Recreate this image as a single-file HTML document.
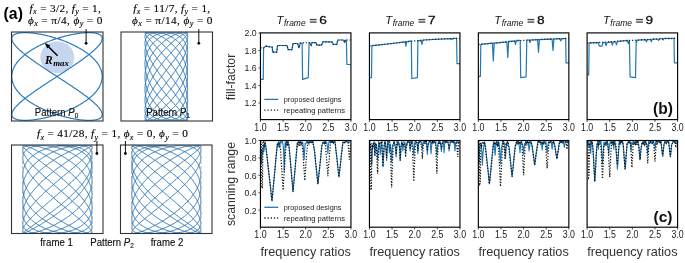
<!DOCTYPE html>
<html><head><meta charset="utf-8"><style>
html,body{margin:0;padding:0;background:#fff;width:685px;height:263px;overflow:hidden;}
svg{display:block;will-change:transform;font-family:"Liberation Sans",sans-serif;}

</style></head><body>
<svg width="685" height="263" viewBox="0 0 685 263">
<rect width="685" height="263" fill="#fff"/>
<text x="3.6" y="19.2" font-family="'Liberation Sans', sans-serif" font-weight="bold" font-size="15.8">(a)</text>
<text x="29.6" y="12.0" font-family="'Liberation Serif', serif" font-size="11.3" fill="#000" stroke="#000" stroke-width="0.12" textLength="71.3" lengthAdjust="spacing"><tspan font-style="italic">f</tspan><tspan font-style="italic" font-size="8.1" dy="2.2">x</tspan><tspan dy="-2.2"> </tspan><tspan>= 3/2, </tspan><tspan font-style="italic">f</tspan><tspan font-style="italic" font-size="8.1" dy="2.2">y</tspan><tspan dy="-2.2"> </tspan><tspan>= 1,</tspan></text>
<text x="27.9" y="24.0" font-family="'Liberation Serif', serif" font-size="11.3" fill="#000" stroke="#000" stroke-width="0.12" textLength="74.6" lengthAdjust="spacing"><tspan font-style="italic">ϕ</tspan><tspan font-style="italic" font-size="8.1" dy="2.2">x</tspan><tspan dy="-2.2"> </tspan><tspan>= π/4, </tspan><tspan font-style="italic">ϕ</tspan><tspan font-style="italic" font-size="8.1" dy="2.2">y</tspan><tspan dy="-2.2"> </tspan><tspan>= 0</tspan></text>
<text x="133.2" y="12.0" font-family="'Liberation Serif', serif" font-size="11.3" fill="#000" stroke="#000" stroke-width="0.12" textLength="77" lengthAdjust="spacing"><tspan font-style="italic">f</tspan><tspan font-style="italic" font-size="8.1" dy="2.2">x</tspan><tspan dy="-2.2"> </tspan><tspan>= 11/7, </tspan><tspan font-style="italic">f</tspan><tspan font-style="italic" font-size="8.1" dy="2.2">y</tspan><tspan dy="-2.2"> </tspan><tspan>= 1,</tspan></text>
<text x="132" y="24.0" font-family="'Liberation Serif', serif" font-size="11.3" fill="#000" stroke="#000" stroke-width="0.12" textLength="80.5" lengthAdjust="spacing"><tspan font-style="italic">ϕ</tspan><tspan font-style="italic" font-size="8.1" dy="2.2">x</tspan><tspan dy="-2.2"> </tspan><tspan>= π/14, </tspan><tspan font-style="italic">ϕ</tspan><tspan font-style="italic" font-size="8.1" dy="2.2">y</tspan><tspan dy="-2.2"> </tspan><tspan>= 0</tspan></text>
<text x="37" y="137.4" font-family="'Liberation Serif', serif" font-size="11.3" fill="#000" stroke="#000" stroke-width="0.12" textLength="150.8" lengthAdjust="spacing"><tspan font-style="italic">f</tspan><tspan font-style="italic" font-size="8.1" dy="2.2">x</tspan><tspan dy="-2.2"> </tspan><tspan>= 41/28, </tspan><tspan font-style="italic">f</tspan><tspan font-style="italic" font-size="8.1" dy="2.2">y</tspan><tspan dy="-2.2"> </tspan><tspan>= 1, </tspan><tspan font-style="italic">ϕ</tspan><tspan font-style="italic" font-size="8.1" dy="2.2">x</tspan><tspan dy="-2.2"> </tspan><tspan>= 0, </tspan><tspan font-style="italic">ϕ</tspan><tspan font-style="italic" font-size="8.1" dy="2.2">y</tspan><tspan dy="-2.2"> </tspan><tspan>= 0</tspan></text>
<ellipse cx="57.3" cy="57.3" rx="17" ry="15.8" fill="#c6d6ef"/>
<polyline points="89,32.6 89.5,32.6 89.9,32.6 90.4,32.6 90.9,32.6 91.4,32.7 91.8,32.7 92.3,32.7 92.7,32.8 93.1,32.8 93.6,32.8 94,32.9 94.4,32.9 94.8,33 95.2,33.1 95.5,33.1 95.9,33.2 96.3,33.3 96.6,33.4 96.9,33.5 97.3,33.6 97.6,33.7 97.9,33.8 98.2,33.9 98.5,34 98.8,34.1 99,34.2 99.3,34.3 99.5,34.5 99.8,34.6 100,34.7 100.2,34.9 100.4,35 100.6,35.2 100.8,35.4 101,35.5 101.1,35.7 101.3,35.9 101.4,36 101.5,36.2 101.6,36.4 101.7,36.6 101.8,36.8 101.9,37 102,37.2 102.1,37.4 102.1,37.6 102.1,37.8 102.2,38 102.2,38.3 102.2,38.5 102.2,38.7 102.2,38.9 102.1,39.2 102.1,39.4 102.1,39.7 102,39.9 101.9,40.2 101.8,40.5 101.7,40.7 101.6,41 101.5,41.3 101.4,41.5 101.3,41.8 101.1,42.1 101,42.4 100.8,42.7 100.6,43 100.4,43.3 100.2,43.6 100,43.9 99.8,44.2 99.5,44.5 99.3,44.8 99,45.1 98.8,45.5 98.5,45.8 98.2,46.1 97.9,46.4 97.6,46.8 97.3,47.1 96.9,47.5 96.6,47.8 96.3,48.2 95.9,48.5 95.5,48.9 95.2,49.2 94.8,49.6 94.4,50 94,50.3 93.6,50.7 93.1,51.1 92.7,51.4 92.3,51.8 91.8,52.2 91.4,52.6 90.9,53 90.4,53.4 89.9,53.8 89.5,54.2 89,54.5 88.5,54.9 87.9,55.4 87.4,55.8 86.9,56.2 86.4,56.6 85.8,57 85.3,57.4 84.7,57.8 84.1,58.2 83.6,58.6 83,59.1 82.4,59.5 81.8,59.9 81.2,60.3 80.6,60.8 80,61.2 79.4,61.6 78.8,62.1 78.2,62.5 77.5,62.9 76.9,63.4 76.2,63.8 75.6,64.3 75,64.7 74.3,65.1 73.6,65.6 73,66 72.3,66.5 71.6,66.9 71,67.4 70.3,67.8 69.6,68.3 68.9,68.7 68.2,69.2 67.6,69.6 66.9,70.1 66.2,70.5 65.5,71 64.8,71.5 64.1,71.9 63.4,72.4 62.7,72.8 62,73.3 61.3,73.7 60.5,74.2 59.8,74.7 59.1,75.1 58.4,75.6 57.7,76 57,76.5 56.3,77 55.6,77.4 54.9,77.9 54.2,78.3 53.5,78.8 52.7,79.3 52,79.7 51.3,80.2 50.6,80.6 49.9,81.1 49.2,81.5 48.5,82 47.8,82.5 47.1,82.9 46.4,83.4 45.8,83.8 45.1,84.3 44.4,84.7 43.7,85.2 43,85.6 42.4,86.1 41.7,86.5 41,87 40.4,87.4 39.7,87.9 39,88.3 38.4,88.7 37.8,89.2 37.1,89.6 36.5,90.1 35.8,90.5 35.2,90.9 34.6,91.4 34,91.8 33.4,92.2 32.8,92.7 32.2,93.1 31.6,93.5 31,93.9 30.4,94.4 29.9,94.8 29.3,95.2 28.7,95.6 28.2,96 27.6,96.4 27.1,96.8 26.6,97.2 26.1,97.6 25.5,98.1 25,98.4 24.5,98.8 24.1,99.2 23.6,99.6 23.1,100 22.6,100.4 22.2,100.8 21.7,101.2 21.3,101.6 20.9,101.9 20.4,102.3 20,102.7 19.6,103 19.2,103.4 18.8,103.8 18.5,104.1 18.1,104.5 17.7,104.8 17.4,105.2 17.1,105.5 16.7,105.9 16.4,106.2 16.1,106.6 15.8,106.9 15.5,107.2 15.2,107.5 15,107.9 14.7,108.2 14.5,108.5 14.2,108.8 14,109.1 13.8,109.4 13.6,109.7 13.4,110 13.2,110.3 13,110.6 12.9,110.9 12.7,111.2 12.6,111.5 12.5,111.7 12.4,112 12.3,112.3 12.2,112.5 12.1,112.8 12,113.1 11.9,113.3 11.9,113.6 11.9,113.8 11.8,114.1 11.8,114.3 11.8,114.5 11.8,114.7 11.8,115 11.9,115.2 11.9,115.4 11.9,115.6 12,115.8 12.1,116 12.2,116.2 12.3,116.4 12.4,116.6 12.5,116.8 12.6,117 12.7,117.1 12.9,117.3 13,117.5 13.2,117.6 13.4,117.8 13.6,118 13.8,118.1 14,118.3 14.2,118.4 14.5,118.5 14.7,118.7 15,118.8 15.2,118.9 15.5,119 15.8,119.1 16.1,119.2 16.4,119.3 16.7,119.4 17.1,119.5 17.4,119.6 17.7,119.7 18.1,119.8 18.5,119.9 18.8,119.9 19.2,120 19.6,120.1 20,120.1 20.4,120.2 20.9,120.2 21.3,120.2 21.7,120.3 22.2,120.3 22.6,120.3 23.1,120.4 23.6,120.4 24.1,120.4 24.5,120.4 25,120.4 25.5,120.4 26.1,120.4 26.6,120.4 27.1,120.4 27.6,120.3 28.2,120.3 28.7,120.3 29.3,120.2 29.9,120.2 30.4,120.2 31,120.1 31.6,120.1 32.2,120 32.8,119.9 33.4,119.9 34,119.8 34.6,119.7 35.2,119.6 35.8,119.5 36.5,119.4 37.1,119.3 37.8,119.2 38.4,119.1 39,119 39.7,118.9 40.4,118.8 41,118.7 41.7,118.5 42.4,118.4 43,118.3 43.7,118.1 44.4,118 45.1,117.8 45.8,117.6 46.4,117.5 47.1,117.3 47.8,117.1 48.5,117 49.2,116.8 49.9,116.6 50.6,116.4 51.3,116.2 52,116 52.7,115.8 53.5,115.6 54.2,115.4 54.9,115.2 55.6,115 56.3,114.7 57,114.5 57.7,114.3 58.4,114.1 59.1,113.8 59.8,113.6 60.5,113.3 61.3,113.1 62,112.8 62.7,112.5 63.4,112.3 64.1,112 64.8,111.7 65.5,111.5 66.2,111.2 66.9,110.9 67.6,110.6 68.2,110.3 68.9,110 69.6,109.7 70.3,109.4 71,109.1 71.6,108.8 72.3,108.5 73,108.2 73.6,107.9 74.3,107.5 75,107.2 75.6,106.9 76.2,106.6 76.9,106.2 77.5,105.9 78.2,105.5 78.8,105.2 79.4,104.8 80,104.5 80.6,104.1 81.2,103.8 81.8,103.4 82.4,103 83,102.7 83.6,102.3 84.1,101.9 84.7,101.6 85.3,101.2 85.8,100.8 86.4,100.4 86.9,100 87.4,99.6 87.9,99.2 88.5,98.8 89,98.5 89.5,98.1 89.9,97.6 90.4,97.2 90.9,96.8 91.4,96.4 91.8,96 92.3,95.6 92.7,95.2 93.1,94.8 93.6,94.4 94,93.9 94.4,93.5 94.8,93.1 95.2,92.7 95.5,92.2 95.9,91.8 96.3,91.4 96.6,90.9 96.9,90.5 97.3,90.1 97.6,89.6 97.9,89.2 98.2,88.7 98.5,88.3 98.8,87.9 99,87.4 99.3,87 99.5,86.5 99.8,86.1 100,85.6 100.2,85.2 100.4,84.7 100.6,84.3 100.8,83.8 101,83.4 101.1,82.9 101.3,82.5 101.4,82 101.5,81.5 101.6,81.1 101.7,80.6 101.8,80.2 101.9,79.7 102,79.3 102.1,78.8 102.1,78.3 102.1,77.9 102.2,77.4 102.2,77 102.2,76.5 102.2,76 102.2,75.6 102.1,75.1 102.1,74.7 102.1,74.2 102,73.7 101.9,73.3 101.8,72.8 101.7,72.4 101.6,71.9 101.5,71.5 101.4,71 101.3,70.5 101.1,70.1 101,69.6 100.8,69.2 100.6,68.7 100.4,68.3 100.2,67.8 100,67.4 99.8,66.9 99.5,66.5 99.3,66 99,65.6 98.8,65.1 98.5,64.7 98.2,64.3 97.9,63.8 97.6,63.4 97.3,62.9 96.9,62.5 96.6,62.1 96.3,61.6 95.9,61.2 95.5,60.8 95.2,60.3 94.8,59.9 94.4,59.5 94,59.1 93.6,58.6 93.1,58.2 92.7,57.8 92.3,57.4 91.8,57 91.4,56.6 90.9,56.2 90.4,55.8 89.9,55.4 89.5,54.9 89,54.5 88.5,54.2 87.9,53.8 87.4,53.4 86.9,53 86.4,52.6 85.8,52.2 85.3,51.8 84.7,51.4 84.1,51.1 83.6,50.7 83,50.3 82.4,50 81.8,49.6 81.2,49.2 80.6,48.9 80,48.5 79.4,48.2 78.8,47.8 78.2,47.5 77.5,47.1 76.9,46.8 76.2,46.4 75.6,46.1 75,45.8 74.3,45.5 73.6,45.1 73,44.8 72.3,44.5 71.6,44.2 71,43.9 70.3,43.6 69.6,43.3 68.9,43 68.2,42.7 67.6,42.4 66.9,42.1 66.2,41.8 65.5,41.5 64.8,41.3 64.1,41 63.4,40.7 62.7,40.5 62,40.2 61.3,39.9 60.5,39.7 59.8,39.4 59.1,39.2 58.4,38.9 57.7,38.7 57,38.5 56.3,38.3 55.6,38 54.9,37.8 54.2,37.6 53.5,37.4 52.7,37.2 52,37 51.3,36.8 50.6,36.6 49.9,36.4 49.2,36.2 48.5,36 47.8,35.9 47.1,35.7 46.4,35.5 45.8,35.4 45.1,35.2 44.4,35 43.7,34.9 43,34.7 42.4,34.6 41.7,34.5 41,34.3 40.4,34.2 39.7,34.1 39,34 38.4,33.9 37.8,33.8 37.1,33.7 36.5,33.6 35.8,33.5 35.2,33.4 34.6,33.3 34,33.2 33.4,33.1 32.8,33.1 32.2,33 31.6,32.9 31,32.9 30.4,32.8 29.9,32.8 29.3,32.8 28.7,32.7 28.2,32.7 27.6,32.7 27.1,32.6 26.6,32.6 26.1,32.6 25.5,32.6 25,32.6 24.5,32.6 24.1,32.6 23.6,32.6 23.1,32.6 22.6,32.7 22.2,32.7 21.7,32.7 21.3,32.8 20.9,32.8 20.4,32.8 20,32.9 19.6,32.9 19.2,33 18.8,33.1 18.5,33.1 18.1,33.2 17.7,33.3 17.4,33.4 17.1,33.5 16.7,33.6 16.4,33.7 16.1,33.8 15.8,33.9 15.5,34 15.2,34.1 15,34.2 14.7,34.3 14.5,34.5 14.2,34.6 14,34.7 13.8,34.9 13.6,35 13.4,35.2 13.2,35.4 13,35.5 12.9,35.7 12.7,35.9 12.6,36 12.5,36.2 12.4,36.4 12.3,36.6 12.2,36.8 12.1,37 12,37.2 11.9,37.4 11.9,37.6 11.9,37.8 11.8,38 11.8,38.3 11.8,38.5 11.8,38.7 11.8,38.9 11.9,39.2 11.9,39.4 11.9,39.7 12,39.9 12.1,40.2 12.2,40.5 12.3,40.7 12.4,41 12.5,41.3 12.6,41.5 12.7,41.8 12.9,42.1 13,42.4 13.2,42.7 13.4,43 13.6,43.3 13.8,43.6 14,43.9 14.2,44.2 14.5,44.5 14.7,44.8 15,45.1 15.2,45.5 15.5,45.8 15.8,46.1 16.1,46.4 16.4,46.8 16.7,47.1 17.1,47.5 17.4,47.8 17.7,48.2 18.1,48.5 18.5,48.9 18.8,49.2 19.2,49.6 19.6,50 20,50.3 20.4,50.7 20.9,51.1 21.3,51.4 21.7,51.8 22.2,52.2 22.6,52.6 23.1,53 23.6,53.4 24.1,53.8 24.5,54.2 25,54.6 25.5,54.9 26.1,55.4 26.6,55.8 27.1,56.2 27.6,56.6 28.2,57 28.7,57.4 29.3,57.8 29.9,58.2 30.4,58.6 31,59.1 31.6,59.5 32.2,59.9 32.8,60.3 33.4,60.8 34,61.2 34.6,61.6 35.2,62.1 35.8,62.5 36.5,62.9 37.1,63.4 37.8,63.8 38.4,64.3 39,64.7 39.7,65.1 40.4,65.6 41,66 41.7,66.5 42.4,66.9 43,67.4 43.7,67.8 44.4,68.3 45.1,68.7 45.8,69.2 46.4,69.6 47.1,70.1 47.8,70.5 48.5,71 49.2,71.5 49.9,71.9 50.6,72.4 51.3,72.8 52,73.3 52.7,73.7 53.5,74.2 54.2,74.7 54.9,75.1 55.6,75.6 56.3,76 57,76.5 57.7,77 58.4,77.4 59.1,77.9 59.8,78.3 60.5,78.8 61.3,79.3 62,79.7 62.7,80.2 63.4,80.6 64.1,81.1 64.8,81.5 65.5,82 66.2,82.5 66.9,82.9 67.6,83.4 68.2,83.8 68.9,84.3 69.6,84.7 70.3,85.2 71,85.6 71.6,86.1 72.3,86.5 73,87 73.6,87.4 74.3,87.9 75,88.3 75.6,88.7 76.2,89.2 76.9,89.6 77.5,90.1 78.2,90.5 78.8,90.9 79.4,91.4 80,91.8 80.6,92.2 81.2,92.7 81.8,93.1 82.4,93.5 83,93.9 83.6,94.4 84.1,94.8 84.7,95.2 85.3,95.6 85.8,96 86.4,96.4 86.9,96.8 87.4,97.2 87.9,97.6 88.5,98.1 89,98.4 89.5,98.8 89.9,99.2 90.4,99.6 90.9,100 91.4,100.4 91.8,100.8 92.3,101.2 92.7,101.6 93.1,101.9 93.6,102.3 94,102.7 94.4,103 94.8,103.4 95.2,103.8 95.5,104.1 95.9,104.5 96.3,104.8 96.6,105.2 96.9,105.5 97.3,105.9 97.6,106.2 97.9,106.6 98.2,106.9 98.5,107.2 98.8,107.5 99,107.9 99.3,108.2 99.5,108.5 99.8,108.8 100,109.1 100.2,109.4 100.4,109.7 100.6,110 100.8,110.3 101,110.6 101.1,110.9 101.3,111.2 101.4,111.5 101.5,111.7 101.6,112 101.7,112.3 101.8,112.5 101.9,112.8 102,113.1 102.1,113.3 102.1,113.6 102.1,113.8 102.2,114.1 102.2,114.3 102.2,114.5 102.2,114.7 102.2,115 102.1,115.2 102.1,115.4 102.1,115.6 102,115.8 101.9,116 101.8,116.2 101.7,116.4 101.6,116.6 101.5,116.8 101.4,117 101.3,117.1 101.1,117.3 101,117.5 100.8,117.6 100.6,117.8 100.4,118 100.2,118.1 100,118.3 99.8,118.4 99.5,118.5 99.3,118.7 99,118.8 98.8,118.9 98.5,119 98.2,119.1 97.9,119.2 97.6,119.3 97.3,119.4 96.9,119.5 96.6,119.6 96.3,119.7 95.9,119.8 95.5,119.9 95.2,119.9 94.8,120 94.4,120.1 94,120.1 93.6,120.2 93.1,120.2 92.7,120.2 92.3,120.3 91.8,120.3 91.4,120.3 90.9,120.4 90.4,120.4 89.9,120.4 89.5,120.4 89,120.4 88.5,120.4 87.9,120.4 87.4,120.4 86.9,120.4 86.4,120.3 85.8,120.3 85.3,120.3 84.7,120.2 84.1,120.2 83.6,120.2 83,120.1 82.4,120.1 81.8,120 81.2,119.9 80.6,119.9 80,119.8 79.4,119.7 78.8,119.6 78.2,119.5 77.5,119.4 76.9,119.3 76.2,119.2 75.6,119.1 75,119 74.3,118.9 73.6,118.8 73,118.7 72.3,118.5 71.6,118.4 71,118.3 70.3,118.1 69.6,118 68.9,117.8 68.2,117.6 67.6,117.5 66.9,117.3 66.2,117.1 65.5,117 64.8,116.8 64.1,116.6 63.4,116.4 62.7,116.2 62,116 61.3,115.8 60.5,115.6 59.8,115.4 59.1,115.2 58.4,115 57.7,114.7 57,114.5 56.3,114.3 55.6,114.1 54.9,113.8 54.2,113.6 53.5,113.3 52.7,113.1 52,112.8 51.3,112.5 50.6,112.3 49.9,112 49.2,111.7 48.5,111.5 47.8,111.2 47.1,110.9 46.4,110.6 45.8,110.3 45.1,110 44.4,109.7 43.7,109.4 43,109.1 42.4,108.8 41.7,108.5 41,108.2 40.4,107.9 39.7,107.5 39,107.2 38.4,106.9 37.8,106.6 37.1,106.2 36.5,105.9 35.8,105.5 35.2,105.2 34.6,104.8 34,104.5 33.4,104.1 32.8,103.8 32.2,103.4 31.6,103 31,102.7 30.4,102.3 29.9,101.9 29.3,101.6 28.7,101.2 28.2,100.8 27.6,100.4 27.1,100 26.6,99.6 26.1,99.2 25.5,98.8 25,98.4 24.5,98.1 24.1,97.6 23.6,97.2 23.1,96.8 22.6,96.4 22.2,96 21.7,95.6 21.3,95.2 20.9,94.8 20.4,94.4 20,93.9 19.6,93.5 19.2,93.1 18.8,92.7 18.5,92.2 18.1,91.8 17.7,91.4 17.4,90.9 17.1,90.5 16.7,90.1 16.4,89.6 16.1,89.2 15.8,88.7 15.5,88.3 15.2,87.9 15,87.4 14.7,87 14.5,86.5 14.2,86.1 14,85.6 13.8,85.2 13.6,84.7 13.4,84.3 13.2,83.8 13,83.4 12.9,82.9 12.7,82.5 12.6,82 12.5,81.5 12.4,81.1 12.3,80.6 12.2,80.2 12.1,79.7 12,79.3 11.9,78.8 11.9,78.3 11.9,77.9 11.8,77.4 11.8,77 11.8,76.5 11.8,76 11.8,75.6 11.9,75.1 11.9,74.7 11.9,74.2 12,73.7 12.1,73.3 12.2,72.8 12.3,72.4 12.4,71.9 12.5,71.5 12.6,71 12.7,70.5 12.9,70.1 13,69.6 13.2,69.2 13.4,68.7 13.6,68.3 13.8,67.8 14,67.4 14.2,66.9 14.5,66.5 14.7,66 15,65.6 15.2,65.1 15.5,64.7 15.8,64.3 16.1,63.8 16.4,63.4 16.7,62.9 17.1,62.5 17.4,62.1 17.7,61.6 18.1,61.2 18.5,60.8 18.8,60.3 19.2,59.9 19.6,59.5 20,59.1 20.4,58.6 20.9,58.2 21.3,57.8 21.7,57.4 22.2,57 22.6,56.6 23.1,56.2 23.6,55.8 24.1,55.4 24.5,54.9 25,54.6 25.5,54.2 26.1,53.8 26.6,53.4 27.1,53 27.6,52.6 28.2,52.2 28.7,51.8 29.3,51.4 29.9,51.1 30.4,50.7 31,50.3 31.6,50 32.2,49.6 32.8,49.2 33.4,48.9 34,48.5 34.6,48.2 35.2,47.8 35.8,47.5 36.5,47.1 37.1,46.8 37.8,46.4 38.4,46.1 39,45.8 39.7,45.5 40.4,45.1 41,44.8 41.7,44.5 42.4,44.2 43,43.9 43.7,43.6 44.4,43.3 45.1,43 45.8,42.7 46.4,42.4 47.1,42.1 47.8,41.8 48.5,41.5 49.2,41.3 49.9,41 50.6,40.7 51.3,40.5 52,40.2 52.7,39.9 53.5,39.7 54.2,39.4 54.9,39.2 55.6,38.9 56.3,38.7 57,38.5 57.7,38.3 58.4,38 59.1,37.8 59.8,37.6 60.5,37.4 61.3,37.2 62,37 62.7,36.8 63.4,36.6 64.1,36.4 64.8,36.2 65.5,36 66.2,35.9 66.9,35.7 67.6,35.5 68.2,35.4 68.9,35.2 69.6,35 70.3,34.9 71,34.7 71.6,34.6 72.3,34.5 73,34.3 73.6,34.2 74.3,34.1 75,34 75.6,33.9 76.2,33.8 76.9,33.7 77.5,33.6 78.2,33.5 78.8,33.4 79.4,33.3 80,33.2 80.6,33.1 81.2,33.1 81.8,33 82.4,32.9 83,32.9 83.6,32.8 84.1,32.8 84.7,32.8 85.3,32.7 85.8,32.7 86.4,32.7 86.9,32.6 87.4,32.6 87.9,32.6 88.5,32.6 89,32.6" fill="none" stroke="#2a7ab9" stroke-width="1.2"/>
<rect x="11.5" y="32" width="91.5" height="89" fill="none" stroke="#333" stroke-width="1.1"/>
<line x1="57.6" y1="55.7" x2="47.5" y2="45.8" stroke="#000" stroke-width="1.5"/>
<polygon points="44.6,43 50.3,45.3 47.3,48.4" fill="#000"/>
<text x="45" y="63.8" font-family="'Liberation Serif', serif" font-weight="bold" font-style="italic" font-size="11.5">R<tspan font-size="8.8" dy="2.4" dx="0.6">max</tspan></text>
<line x1="86.1" y1="29" x2="86.1" y2="43.3" stroke="#111" stroke-width="1"/>
<circle cx="86.1" cy="43.3" r="1.4" fill="#000"/>
<text x="34.8" y="115.8" font-family="'Liberation Sans', sans-serif" font-size="10.3" fill="#111" stroke="#111" stroke-width="0.15" textLength="43.6" lengthAdjust="spacingAndGlyphs">Pattern <tspan font-style="italic">P</tspan><tspan font-size="6.9" dy="2.1" dx="0.2">0</tspan></text>
<polyline points="171,76.6 171.5,76 172,75.3 172.5,74.7 172.9,74 173.4,73.4 173.9,72.7 174.3,72.1 174.8,71.5 175.2,70.8 175.7,70.2 176.1,69.5 176.5,68.9 177,68.3 177.4,67.6 177.8,67 178.2,66.4 178.6,65.7 179,65.1 179.4,64.5 179.8,63.9 180.2,63.3 180.5,62.7 180.9,62 181.2,61.4 181.6,60.8 181.9,60.2 182.3,59.6 182.6,59 182.9,58.5 183.2,57.9 183.5,57.3 183.8,56.7 184,56.1 184.3,55.6 184.6,55 184.8,54.4 185.1,53.9 185.3,53.3 185.5,52.8 185.7,52.3 185.9,51.7 186.1,51.2 186.3,50.7 186.4,50.1 186.6,49.6 186.7,49.1 186.9,48.6 187,48.1 187.1,47.6 187.2,47.2 187.3,46.7 187.4,46.2 187.4,45.7 187.5,45.3 187.5,44.8 187.6,44.4 187.6,44 187.6,43.5 187.6,43.1 187.6,42.7 187.6,42.3 187.5,41.9 187.5,41.5 187.4,41.1 187.4,40.7 187.3,40.4 187.2,40 187.1,39.6 187,39.3 186.8,39 186.7,38.6 186.6,38.3 186.4,38 186.2,37.7 186.1,37.4 185.9,37.1 185.7,36.8 185.5,36.6 185.3,36.3 185,36 184.8,35.8 184.5,35.6 184.3,35.3 184,35.1 183.7,34.9 183.4,34.7 183.2,34.5 182.8,34.3 182.5,34.1 182.2,34 181.9,33.8 181.5,33.7 181.2,33.5 180.8,33.4 180.5,33.3 180.1,33.2 179.7,33.1 179.3,33 179,32.9 178.6,32.8 178.2,32.8 177.7,32.7 177.3,32.7 176.9,32.6 176.5,32.6 176,32.6 175.6,32.6 175.2,32.6 174.7,32.6 174.3,32.6 173.8,32.7 173.3,32.7 172.9,32.8 172.4,32.8 171.9,32.9 171.5,33 171,33.1 170.5,33.2 170,33.3 169.5,33.4 169.1,33.5 168.6,33.6 168.1,33.8 167.6,33.9 167.1,34.1 166.6,34.3 166.1,34.5 165.6,34.6 165.1,34.8 164.6,35 164.2,35.3 163.7,35.5 163.2,35.7 162.7,36 162.2,36.2 161.7,36.5 161.3,36.7 160.8,37 160.3,37.3 159.8,37.6 159.4,37.9 158.9,38.2 158.5,38.5 158,38.9 157.5,39.2 157.1,39.5 156.7,39.9 156.2,40.3 155.8,40.6 155.4,41 155,41.4 154.5,41.8 154.1,42.2 153.7,42.6 153.3,43 153,43.4 152.6,43.8 152.2,44.3 151.8,44.7 151.5,45.2 151.1,45.6 150.8,46.1 150.5,46.5 150.1,47 149.8,47.5 149.5,48 149.2,48.5 148.9,49 148.7,49.5 148.4,50 148.1,50.5 147.9,51 147.6,51.6 147.4,52.1 147.2,52.6 147,53.2 146.8,53.7 146.6,54.3 146.4,54.8 146.2,55.4 146.1,56 145.9,56.5 145.8,57.1 145.7,57.7 145.5,58.3 145.4,58.9 145.3,59.5 145.3,60.1 145.2,60.7 145.1,61.3 145.1,61.9 145,62.5 145,63.1 145,63.7 145,64.3 145,64.9 145,65.6 145.1,66.2 145.1,66.8 145.2,67.5 145.2,68.1 145.3,68.7 145.4,69.4 145.5,70 145.6,70.6 145.7,71.3 145.8,71.9 146,72.6 146.1,73.2 146.3,73.8 146.5,74.5 146.6,75.1 146.8,75.8 147,76.4 147.3,77.1 147.5,77.7 147.7,78.4 148,79 148.2,79.6 148.5,80.3 148.8,80.9 149,81.6 149.3,82.2 149.6,82.8 149.9,83.5 150.3,84.1 150.6,84.8 150.9,85.4 151.3,86 151.6,86.6 152,87.3 152.4,87.9 152.7,88.5 153.1,89.1 153.5,89.8 153.9,90.4 154.3,91 154.7,91.6 155.1,92.2 155.5,92.8 156,93.4 156.4,94 156.8,94.6 157.3,95.2 157.7,95.8 158.2,96.3 158.6,96.9 159.1,97.5 159.6,98 160,98.6 160.5,99.2 161,99.7 161.4,100.3 161.9,100.8 162.4,101.3 162.9,101.9 163.4,102.4 163.9,102.9 164.3,103.4 164.8,103.9 165.3,104.4 165.8,104.9 166.3,105.4 166.8,105.9 167.3,106.4 167.8,106.9 168.3,107.3 168.8,107.8 169.2,108.2 169.7,108.7 170.2,109.1 170.7,109.5 171.2,110 171.6,110.4 172.1,110.8 172.6,111.2 173.1,111.6 173.5,112 174,112.4 174.4,112.7 174.9,113.1 175.3,113.5 175.8,113.8 176.2,114.1 176.6,114.5 177.1,114.8 177.5,115.1 177.9,115.4 178.3,115.7 178.7,116 179.1,116.3 179.5,116.6 179.9,116.8 180.3,117.1 180.6,117.3 181,117.6 181.3,117.8 181.7,118 182,118.2 182.3,118.4 182.7,118.6 183,118.8 183.3,119 183.6,119.2 183.8,119.3 184.1,119.5 184.4,119.6 184.6,119.8 184.9,119.9 185.1,120 185.3,120.1 185.6,120.2 185.8,120.3 186,120.3 186.1,120.4 186.3,120.5 186.5,120.5 186.6,120.5 186.8,120.6 186.9,120.6 187,120.6 187.1,120.6 187.2,120.6 187.3,120.6 187.4,120.5 187.4,120.5 187.5,120.5 187.5,120.4 187.6,120.3 187.6,120.3 187.6,120.2 187.6,120.1 187.6,120 187.6,119.9 187.5,119.7 187.5,119.6 187.4,119.5 187.3,119.3 187.3,119.1 187.2,119 187.1,118.8 186.9,118.6 186.8,118.4 186.7,118.2 186.5,118 186.4,117.8 186.2,117.5 186,117.3 185.8,117.1 185.6,116.8 185.4,116.5 185.2,116.3 185,116 184.7,115.7 184.5,115.4 184.2,115.1 183.9,114.8 183.7,114.4 183.4,114.1 183.1,113.8 182.8,113.4 182.4,113 182.1,112.7 181.8,112.3 181.5,111.9 181.1,111.5 180.7,111.1 180.4,110.7 180,110.3 179.6,109.9 179.2,109.5 178.9,109.1 178.5,108.6 178,108.2 177.6,107.7 177.2,107.3 176.8,106.8 176.4,106.3 175.9,105.8 175.5,105.4 175,104.9 174.6,104.4 174.1,103.9 173.7,103.3 173.2,102.8 172.7,102.3 172.3,101.8 171.8,101.3 171.3,100.7 170.9,100.2 170.4,99.6 169.9,99.1 169.4,98.5 168.9,98 168.4,97.4 167.9,96.8 167.5,96.2 167,95.7 166.5,95.1 166,94.5 165.5,93.9 165,93.3 164.5,92.7 164,92.1 163.5,91.5 163,90.9 162.6,90.3 162.1,89.7 161.6,89.1 161.1,88.4 160.7,87.8 160.2,87.2 159.7,86.6 159.2,85.9 158.8,85.3 158.3,84.7 157.9,84 157.4,83.4 157,82.8 156.5,82.1 156.1,81.5 155.7,80.8 155.3,80.2 154.8,79.5 154.4,78.9 154,78.3 153.6,77.6 153.2,77 152.9,76.3 152.5,75.7 152.1,75 151.7,74.4 151.4,73.7 151,73.1 150.7,72.5 150.4,71.8 150.1,71.2 149.7,70.5 149.4,69.9 149.1,69.3 148.9,68.6 148.6,68 148.3,67.4 148.1,66.7 147.8,66.1 147.6,65.5 147.3,64.9 147.1,64.2 146.9,63.6 146.7,63 146.5,62.4 146.3,61.8 146.2,61.2 146,60.6 145.9,60 145.7,59.4 145.6,58.8 145.5,58.2 145.4,57.6 145.3,57 145.2,56.5 145.2,55.9 145.1,55.3 145.1,54.8 145,54.2 145,53.6 145,53.1 145,52.6 145,52 145,51.5 145.1,51 145.1,50.4 145.2,49.9 145.2,49.4 145.3,48.9 145.4,48.4 145.5,47.9 145.6,47.4 145.7,47 145.9,46.5 146,46 146.2,45.6 146.3,45.1 146.5,44.7 146.7,44.2 146.9,43.8 147.1,43.4 147.3,42.9 147.6,42.5 147.8,42.1 148,41.7 148.3,41.3 148.6,40.9 148.8,40.6 149.1,40.2 149.4,39.8 149.7,39.5 150,39.2 150.4,38.8 150.7,38.5 151,38.2 151.4,37.9 151.7,37.6 152.1,37.3 152.5,37 152.8,36.7 153.2,36.4 153.6,36.2 154,35.9 154.4,35.7 154.8,35.5 155.2,35.2 155.7,35 156.1,34.8 156.5,34.6 157,34.4 157.4,34.2 157.8,34.1 158.3,33.9 158.8,33.8 159.2,33.6 159.7,33.5 160.1,33.4 160.6,33.2 161.1,33.1 161.6,33 162.1,33 162.5,32.9 163,32.8 163.5,32.8 164,32.7 164.5,32.7 165,32.6 165.5,32.6 165.9,32.6 166.4,32.6 166.9,32.6 167.4,32.6 167.9,32.7 168.4,32.7 168.9,32.7 169.4,32.8 169.9,32.9 170.3,32.9 170.8,33 171.3,33.1 171.8,33.2 172.2,33.3 172.7,33.4 173.2,33.6 173.6,33.7 174.1,33.8 174.6,34 175,34.2 175.5,34.3 175.9,34.5 176.3,34.7 176.8,34.9 177.2,35.1 177.6,35.4 178,35.6 178.4,35.8 178.8,36.1 179.2,36.3 179.6,36.6 180,36.9 180.4,37.1 180.7,37.4 181.1,37.7 181.4,38 181.8,38.4 182.1,38.7 182.4,39 182.7,39.4 183.1,39.7 183.4,40.1 183.6,40.4 183.9,40.8 184.2,41.2 184.5,41.6 184.7,41.9 184.9,42.3 185.2,42.8 185.4,43.2 185.6,43.6 185.8,44 186,44.5 186.2,44.9 186.4,45.4 186.5,45.8 186.7,46.3 186.8,46.7 186.9,47.2 187,47.7 187.2,48.2 187.2,48.7 187.3,49.2 187.4,49.7 187.5,50.2 187.5,50.7 187.6,51.3 187.6,51.8 187.6,52.3 187.6,52.9 187.6,53.4 187.6,54 187.5,54.5 187.5,55.1 187.5,55.6 187.4,56.2 187.3,56.8 187.2,57.4 187.1,57.9 187,58.5 186.9,59.1 186.8,59.7 186.6,60.3 186.5,60.9 186.3,61.5 186.2,62.1 186,62.7 185.8,63.4 185.6,64 185.4,64.6 185.1,65.2 184.9,65.8 184.7,66.5 184.4,67.1 184.1,67.7 183.9,68.4 183.6,69 183.3,69.6 183,70.3 182.7,70.9 182.4,71.5 182,72.2 181.7,72.8 181.4,73.5 181,74.1 180.6,74.8 180.3,75.4 179.9,76 179.5,76.7 179.1,77.3 178.7,78 178.3,78.6 177.9,79.3 177.5,79.9 177.1,80.6 176.7,81.2 176.2,81.8 175.8,82.5 175.4,83.1 174.9,83.8 174.5,84.4 174,85 173.6,85.7 173.1,86.3 172.6,86.9 172.2,87.5 171.7,88.2 171.2,88.8 170.7,89.4 170.2,90 169.8,90.6 169.3,91.2 168.8,91.9 168.3,92.5 167.8,93.1 167.3,93.7 166.8,94.2 166.3,94.8 165.8,95.4 165.4,96 164.9,96.6 164.4,97.1 163.9,97.7 163.4,98.3 162.9,98.8 162.4,99.4 162,99.9 161.5,100.5 161,101 160.5,101.6 160.1,102.1 159.6,102.6 159.1,103.1 158.7,103.6 158.2,104.1 157.8,104.6 157.3,105.1 156.9,105.6 156.4,106.1 156,106.6 155.6,107.1 155.1,107.5 154.7,108 154.3,108.4 153.9,108.9 153.5,109.3 153.1,109.7 152.8,110.1 152.4,110.6 152,111 151.6,111.4 151.3,111.8 151,112.1 150.6,112.5 150.3,112.9 150,113.2 149.7,113.6 149.4,113.9 149.1,114.3 148.8,114.6 148.5,114.9 148.2,115.2 148,115.6 147.7,115.8 147.5,116.1 147.3,116.4 147.1,116.7 146.9,116.9 146.7,117.2 146.5,117.4 146.3,117.7 146.1,117.9 146,118.1 145.8,118.3 145.7,118.5 145.6,118.7 145.5,118.9 145.4,119.1 145.3,119.2 145.2,119.4 145.2,119.5 145.1,119.7 145.1,119.8 145,119.9 145,120 145,120.1 145,120.2 145,120.3 145,120.4 145.1,120.4 145.1,120.5 145.2,120.5 145.3,120.6 145.3,120.6 145.4,120.6 145.5,120.6 145.6,120.6 145.8,120.6 145.9,120.6 146.1,120.5 146.2,120.5 146.4,120.4 146.6,120.4 146.8,120.3 147,120.2 147.2,120.1 147.4,120 147.6,119.9 147.9,119.8 148.1,119.7 148.4,119.5 148.6,119.4 148.9,119.2 149.2,119.1 149.5,118.9 149.8,118.7 150.1,118.5 150.4,118.3 150.8,118.1 151.1,117.9 151.5,117.7 151.8,117.4 152.2,117.2 152.6,116.9 152.9,116.7 153.3,116.4 153.7,116.1 154.1,115.8 154.5,115.6 154.9,115.2 155.3,114.9 155.8,114.6 156.2,114.3 156.6,113.9 157.1,113.6 157.5,113.2 158,112.9 158.4,112.5 158.9,112.1 159.3,111.8 159.8,111.4 160.3,111 160.8,110.6 161.2,110.1 161.7,109.7 162.2,109.3 162.7,108.9 163.2,108.4 163.6,108 164.1,107.5 164.6,107.1 165.1,106.6 165.6,106.1 166.1,105.6 166.6,105.1 167.1,104.6 167.6,104.1 168,103.6 168.5,103.1 169,102.6 169.5,102.1 170,101.6 170.5,101 171,100.5 171.4,99.9 171.9,99.4 172.4,98.8 172.8,98.3 173.3,97.7 173.8,97.1 174.2,96.6 174.7,96 175.1,95.4 175.6,94.8 176,94.2 176.4,93.7 176.9,93.1 177.3,92.5 177.7,91.9 178.1,91.2 178.5,90.6 178.9,90 179.3,89.4 179.7,88.8 180.1,88.2 180.5,87.5 180.8,86.9 181.2,86.3 181.5,85.7 181.9,85 182.2,84.4 182.5,83.8 182.8,83.1 183.1,82.5 183.4,81.8 183.7,81.2 184,80.6 184.3,79.9 184.5,79.3 184.8,78.6 185,78 185.2,77.3 185.5,76.7 185.7,76 185.9,75.4 186.1,74.8 186.2,74.1 186.4,73.5 186.6,72.8 186.7,72.2 186.8,71.5 187,70.9 187.1,70.3 187.2,69.6 187.3,69 187.4,68.4 187.4,67.7 187.5,67.1 187.5,66.5 187.6,65.8 187.6,65.2 187.6,64.6 187.6,64 187.6,63.4 187.6,62.7 187.5,62.1 187.5,61.5 187.4,60.9 187.4,60.3 187.3,59.7 187.2,59.1 187.1,58.5 187,57.9 186.9,57.4 186.7,56.8 186.6,56.2 186.4,55.6 186.3,55.1 186.1,54.5 185.9,54 185.7,53.4 185.5,52.9 185.3,52.3 185.1,51.8 184.8,51.3 184.6,50.7 184.3,50.2 184.1,49.7 183.8,49.2 183.5,48.7 183.2,48.2 182.9,47.7 182.6,47.2 182.3,46.7 181.9,46.3 181.6,45.8 181.3,45.4 180.9,44.9 180.5,44.5 180.2,44 179.8,43.6 179.4,43.2 179,42.8 178.6,42.3 178.2,41.9 177.8,41.6 177.4,41.2 177,40.8 176.6,40.4 176.1,40.1 175.7,39.7 175.2,39.4 174.8,39 174.3,38.7 173.9,38.4 173.4,38 173,37.7 172.5,37.4 172,37.1 171.5,36.9 171.1,36.6 170.6,36.3 170.1,36.1 169.6,35.8 169.1,35.6 168.7,35.4 168.2,35.1 167.7,34.9 167.2,34.7 166.7,34.5 166.2,34.3 165.7,34.2 165.2,34 164.7,33.8 164.2,33.7 163.8,33.6 163.3,33.4 162.8,33.3 162.3,33.2 161.8,33.1 161.3,33 160.9,32.9 160.4,32.9 159.9,32.8 159.5,32.7 159,32.7 158.5,32.7 158.1,32.6 157.6,32.6 157.2,32.6 156.7,32.6 156.3,32.6 155.9,32.6 155.5,32.7 155,32.7 154.6,32.8 154.2,32.8 153.8,32.9 153.4,33 153,33 152.6,33.1 152.3,33.2 151.9,33.4 151.6,33.5 151.2,33.6 150.9,33.8 150.5,33.9 150.2,34.1 149.9,34.2 149.6,34.4 149.3,34.6 149,34.8 148.7,35 148.4,35.2 148.2,35.5 147.9,35.7 147.7,35.9 147.4,36.2 147.2,36.4 147,36.7 146.8,37 146.6,37.3 146.4,37.6 146.3,37.9 146.1,38.2 145.9,38.5 145.8,38.8 145.7,39.2 145.6,39.5 145.5,39.8 145.4,40.2 145.3,40.6 145.2,40.9 145.1,41.3 145.1,41.7 145.1,42.1 145,42.5 145,42.9 145,43.4 145,43.8 145,44.2 145.1,44.7 145.1,45.1 145.1,45.6 145.2,46 145.3,46.5 145.4,47 145.5,47.4 145.6,47.9 145.7,48.4 145.8,48.9 146,49.4 146.1,49.9 146.3,50.4 146.4,51 146.6,51.5 146.8,52 147,52.6 147.2,53.1 147.4,53.6 147.7,54.2 147.9,54.8 148.2,55.3 148.4,55.9 148.7,56.5 149,57 149.3,57.6 149.6,58.2 149.9,58.8 150.2,59.4 150.5,60 150.9,60.6 151.2,61.2 151.6,61.8 151.9,62.4 152.3,63 152.7,63.6 153,64.2 153.4,64.9 153.8,65.5 154.2,66.1 154.6,66.7 155,67.4 155.5,68 155.9,68.6 156.3,69.3 156.8,69.9 157.2,70.5 157.6,71.2 158.1,71.8 158.5,72.5 159,73.1 159.5,73.7 159.9,74.4 160.4,75 160.9,75.7 161.4,76.3 161.8,77 162.3,77.6 162.8,78.3 163.3,78.9 163.8,79.5 164.3,80.2 164.7,80.8 165.2,81.5 165.7,82.1 166.2,82.8 166.7,83.4 167.2,84 167.7,84.7 168.2,85.3 168.7,85.9 169.2,86.6 169.6,87.2 170.1,87.8 170.6,88.4 171.1,89.1 171.6,89.7 172,90.3 172.5,90.9 173,91.5 173.4,92.1 173.9,92.7 174.4,93.3 174.8,93.9 175.3,94.5 175.7,95.1 176.1,95.7 176.6,96.2 177,96.8 177.4,97.4 177.8,98 178.2,98.5 178.6,99.1 179,99.6 179.4,100.2 179.8,100.7 180.2,101.3 180.6,101.8 180.9,102.3 181.3,102.8 181.6,103.3 182,103.9 182.3,104.4 182.6,104.9 182.9,105.4 183.2,105.8 183.5,106.3 183.8,106.8 184.1,107.3 184.3,107.7 184.6,108.2 184.8,108.6 185.1,109.1 185.3,109.5 185.5,109.9 185.7,110.3 185.9,110.7 186.1,111.1 186.3,111.5 186.4,111.9 186.6,112.3 186.7,112.7 186.9,113 187,113.4 187.1,113.8 187.2,114.1 187.3,114.4 187.4,114.8 187.4,115.1 187.5,115.4 187.5,115.7 187.6,116 187.6,116.3 187.6,116.5 187.6,116.8 187.6,117.1 187.6,117.3 187.5,117.5 187.5,117.8 187.4,118 187.4,118.2 187.3,118.4 187.2,118.6 187.1,118.8 187,119 186.8,119.1 186.7,119.3 186.6,119.5 186.4,119.6 186.2,119.7 186.1,119.9 185.9,120 185.7,120.1 185.5,120.2 185.2,120.3 185,120.3 184.8,120.4 184.5,120.5 184.3,120.5 184,120.5 183.7,120.6 183.4,120.6 183.1,120.6 182.8,120.6 182.5,120.6 182.2,120.6 181.9,120.5 181.5,120.5 181.2,120.5 180.8,120.4 180.4,120.3 180.1,120.3 179.7,120.2 179.3,120.1 178.9,120 178.5,119.9 178.1,119.8 177.7,119.6 177.3,119.5 176.9,119.3 176.4,119.2 176,119 175.6,118.8 175.1,118.6 174.7,118.4 174.2,118.2 173.8,118 173.3,117.8 172.8,117.6 172.4,117.3 171.9,117.1 171.4,116.8 170.9,116.6 170.5,116.3 170,116 169.5,115.7 169,115.4 168.5,115.1 168,114.8 167.5,114.5 167.1,114.1 166.6,113.8 166.1,113.5 165.6,113.1 165.1,112.7 164.6,112.4 164.1,112 163.6,111.6 163.1,111.2 162.7,110.8 162.2,110.4 161.7,110 161.2,109.5 160.7,109.1 160.3,108.7 159.8,108.2 159.3,107.8 158.9,107.3 158.4,106.9 158,106.4 157.5,105.9 157.1,105.4 156.6,104.9 156.2,104.4 155.8,103.9 155.3,103.4 154.9,102.9 154.5,102.4 154.1,101.9 153.7,101.3 153.3,100.8 152.9,100.3 152.5,99.7 152.2,99.2 151.8,98.6 151.5,98 151.1,97.5 150.8,96.9 150.4,96.3 150.1,95.8 149.8,95.2 149.5,94.6 149.2,94 148.9,93.4 148.6,92.8 148.4,92.2 148.1,91.6 147.9,91 147.6,90.4 147.4,89.8 147.2,89.1 146.9,88.5 146.7,87.9 146.6,87.3 146.4,86.6 146.2,86 146.1,85.4 145.9,84.8 145.8,84.1 145.6,83.5 145.5,82.8 145.4,82.2 145.3,81.6 145.3,80.9 145.2,80.3 145.1,79.6 145.1,79 145,78.4 145,77.7 145,77.1 145,76.4 145,75.8 145,75.1 145.1,74.5 145.1,73.8 145.2,73.2 145.2,72.6 145.3,71.9 145.4,71.3 145.5,70.6 145.6,70 145.7,69.4 145.8,68.7 146,68.1 146.1,67.5 146.3,66.8 146.5,66.2 146.7,65.6 146.9,64.9 147.1,64.3 147.3,63.7 147.5,63.1 147.7,62.5 148,61.9 148.2,61.3 148.5,60.7 148.8,60.1 149.1,59.5 149.4,58.9 149.7,58.3 150,57.7 150.3,57.1 150.6,56.5 151,56 151.3,55.4 151.7,54.8 152,54.3 152.4,53.7 152.8,53.2 153.1,52.6 153.5,52.1 153.9,51.6 154.3,51 154.7,50.5 155.2,50 155.6,49.5 156,49 156.4,48.5 156.9,48 157.3,47.5 157.8,47 158.2,46.5 158.7,46.1 159.1,45.6 159.6,45.2 160.1,44.7 160.5,44.3 161,43.8 161.5,43.4 162,43 162.4,42.6 162.9,42.2 163.4,41.8 163.9,41.4 164.4,41 164.9,40.6 165.4,40.3 165.9,39.9 166.4,39.5 166.8,39.2 167.3,38.9 167.8,38.5 168.3,38.2 168.8,37.9 169.3,37.6 169.8,37.3 170.3,37 170.7,36.7 171.2,36.5 171.7,36.2 172.2,36 172.6,35.7 173.1,35.5 173.6,35.3 174,35 174.5,34.8 174.9,34.6 175.4,34.5 175.8,34.3 176.3,34.1 176.7,33.9 177.1,33.8 177.5,33.6 177.9,33.5 178.4,33.4 178.8,33.3 179.1,33.2 179.5,33.1 179.9,33 180.3,32.9 180.7,32.8 181,32.8 181.4,32.7 181.7,32.7 182,32.6 182.4,32.6 182.7,32.6 183,32.6 183.3,32.6 183.6,32.6 183.9,32.6 184.1,32.7 184.4,32.7 184.7,32.8 184.9,32.8 185.1,32.9 185.4,33 185.6,33.1 185.8,33.2 186,33.3 186.2,33.4 186.3,33.5 186.5,33.7 186.6,33.8 186.8,34 186.9,34.1 187,34.3 187.1,34.5 187.2,34.7 187.3,34.9 187.4,35.1 187.5,35.3 187.5,35.6 187.5,35.8 187.6,36 187.6,36.3 187.6,36.6 187.6,36.8 187.6,37.1 187.6,37.4 187.5,37.7 187.5,38 187.4,38.3 187.3,38.6 187.2,39 187.2,39.3 187,39.6 186.9,40 186.8,40.4 186.7,40.7 186.5,41.1 186.4,41.5 186.2,41.9 186,42.3 185.8,42.7 185.6,43.1 185.4,43.5 185.2,44 184.9,44.4 184.7,44.8 184.4,45.3 184.2,45.7 183.9,46.2 183.6,46.7 183.3,47.2 183,47.6 182.7,48.1 182.4,48.6 182.1,49.1 181.8,49.6 181.4,50.1 181.1,50.7 180.7,51.2 180.3,51.7 180,52.3 179.6,52.8 179.2,53.3 178.8,53.9 178.4,54.4 178,55 177.6,55.6 177.2,56.1 176.8,56.7 176.3,57.3 175.9,57.9 175.4,58.5 175,59 174.5,59.6 174.1,60.2 173.6,60.8 173.2,61.4 172.7,62 172.2,62.7 171.8,63.3 171.3,63.9 170.8,64.5 170.3,65.1 169.8,65.7 169.4,66.4 168.9,67 168.4,67.6 167.9,68.3 167.4,68.9 166.9,69.5 166.4,70.2 165.9,70.8 165.4,71.5 165,72.1 164.5,72.7 164,73.4 163.5,74 163,74.7 162.5,75.3 162,76 161.6,76.6 161.1,77.2 160.6,77.9 160.1,78.5 159.7,79.2 159.2,79.8 158.7,80.5 158.3,81.1 157.8,81.7 157.4,82.4 156.9,83 156.5,83.7 156.1,84.3 155.6,84.9 155.2,85.6 154.8,86.2 154.4,86.8 154,87.5 153.6,88.1 153.2,88.7 152.8,89.3 152.4,89.9 152.1,90.5 151.7,91.2 151.4,91.8 151,92.4 150.7,93 150.3,93.6 150,94.2 149.7,94.7 149.4,95.3 149.1,95.9 148.8,96.5 148.6,97.1 148.3,97.6 148,98.2 147.8,98.8 147.5,99.3 147.3,99.9 147.1,100.4 146.9,100.9 146.7,101.5 146.5,102 146.3,102.5 146.2,103.1 146,103.6 145.9,104.1 145.7,104.6 145.6,105.1 145.5,105.6 145.4,106 145.3,106.5 145.2,107 145.2,107.5 145.1,107.9 145.1,108.4 145,108.8 145,109.2 145,109.7 145,110.1 145,110.5 145,110.9 145.1,111.3 145.1,111.7 145.2,112.1 145.2,112.5 145.3,112.8 145.4,113.2 145.5,113.6 145.6,113.9 145.8,114.2 145.9,114.6 146,114.9 146.2,115.2 146.4,115.5 146.5,115.8 146.7,116.1 146.9,116.4 147.1,116.6 147.3,116.9 147.6,117.2 147.8,117.4 148.1,117.6 148.3,117.9 148.6,118.1 148.9,118.3 149.2,118.5 149.4,118.7 149.8,118.9 150.1,119.1 150.4,119.2 150.7,119.4 151.1,119.5 151.4,119.7 151.8,119.8 152.1,119.9 152.5,120 152.9,120.1 153.3,120.2 153.6,120.3 154,120.4 154.4,120.4 154.9,120.5 155.3,120.5 155.7,120.6 156.1,120.6 156.6,120.6 157,120.6 157.4,120.6 157.9,120.6 158.3,120.6 158.8,120.5 159.3,120.5 159.7,120.4 160.2,120.4 160.7,120.3 161.1,120.2 161.6,120.1 162.1,120 162.6,119.9 163.1,119.8 163.5,119.7 164,119.6 164.5,119.4 165,119.3 165.5,119.1 166,118.9 166.5,118.7 167,118.6 167.5,118.4 168,118.2 168.4,117.9 168.9,117.7 169.4,117.5 169.9,117.2 170.4,117 170.9,116.7 171.3,116.5 171.8,116.2 172.3,115.9 172.8,115.6 173.2,115.3 173.7,115 174.1,114.7 174.6,114.3 175.1,114 175.5,113.7 175.9,113.3 176.4,112.9 176.8,112.6 177.2,112.2 177.6,111.8 178.1,111.4 178.5,111 178.9,110.6 179.3,110.2 179.6,109.8 180,109.4 180.4,108.9 180.8,108.5 181.1,108 181.5,107.6 181.8,107.1 182.1,106.7 182.5,106.2 182.8,105.7 183.1,105.2 183.4,104.7 183.7,104.2 183.9,103.7 184.2,103.2 184.5,102.7 184.7,102.2 185,101.6 185.2,101.1 185.4,100.6 185.6,100 185.8,99.5 186,98.9 186.2,98.4 186.4,97.8 186.5,97.2 186.7,96.7 186.8,96.1 186.9,95.5 187.1,94.9 187.2,94.3 187.3,93.7 187.3,93.1 187.4,92.5 187.5,91.9 187.5,91.3 187.6,90.7 187.6,90.1 187.6,89.5 187.6,88.9 187.6,88.3 187.6,87.6 187.5,87 187.5,86.4 187.4,85.7 187.4,85.1 187.3,84.5 187.2,83.8 187.1,83.2 187,82.6 186.9,81.9 186.8,81.3 186.6,80.6 186.5,80 186.3,79.4 186.1,78.7 186,78.1 185.8,77.4 185.6,76.8 185.3,76.1 185.1,75.5 184.9,74.8 184.6,74.2 184.4,73.6 184.1,72.9 183.8,72.3 183.6,71.6 183.3,71 183,70.4 182.7,69.7 182.3,69.1 182,68.4 181.7,67.8 181.3,67.2 181,66.6 180.6,65.9 180.2,65.3 179.9,64.7 179.5,64.1 179.1,63.4 178.7,62.8 178.3,62.2 177.9,61.6 177.5,61 177.1,60.4 176.6,59.8 176.2,59.2 175.8,58.6 175.3,58 174.9,57.4 174.4,56.9 174,56.3 173.5,55.7 173,55.2 172.6,54.6 172.1,54 171.6,53.5 171.2,52.9 170.7,52.4 170.2,51.9 169.7,51.3 169.2,50.8 168.7,50.3 168.3,49.8 167.8,49.3 167.3,48.8 166.8,48.3 166.3,47.8 165.8,47.3 165.3,46.8 164.8,46.3 164.3,45.9 163.8,45.4 163.4,45 162.9,44.5 162.4,44.1 161.9,43.7 161.4,43.2 161,42.8 160.5,42.4 160,42 159.5,41.6 159.1,41.2 158.6,40.8 158.2,40.5 157.7,40.1 157.3,39.7 156.8,39.4 156.4,39.1 156,38.7 155.5,38.4 155.1,38.1 154.7,37.8 154.3,37.5 153.9,37.2 153.5,36.9 153.1,36.6 152.7,36.4 152.3,36.1 152,35.9 151.6,35.6 151.3,35.4 150.9,35.2 150.6,35 150.3,34.8 149.9,34.6 149.6,34.4 149.3,34.2 149,34 148.8,33.9 148.5,33.7 148.2,33.6 148,33.4 147.7,33.3 147.5,33.2 147.3,33.1 147,33 146.8,32.9 146.6,32.9 146.5,32.8 146.3,32.7 146.1,32.7 146,32.7 145.8,32.6 145.7,32.6 145.6,32.6 145.5,32.6 145.4,32.6 145.3,32.6 145.2,32.7 145.2,32.7 145.1,32.7 145.1,32.8 145,32.9 145,32.9 145,33 145,33.1 145,33.2 145,33.3 145.1,33.5 145.1,33.6 145.2,33.7 145.3,33.9 145.3,34.1 145.4,34.2 145.5,34.4 145.7,34.6 145.8,34.8 145.9,35 146.1,35.2 146.2,35.4 146.4,35.7 146.6,35.9 146.8,36.1 147,36.4 147.2,36.7 147.4,36.9 147.6,37.2 147.9,37.5 148.1,37.8 148.4,38.1 148.7,38.4 148.9,38.8 149.2,39.1 149.5,39.4 149.8,39.8 150.2,40.2 150.5,40.5 150.8,40.9 151.1,41.3 151.5,41.7 151.9,42.1 152.2,42.5 152.6,42.9 153,43.3 153.4,43.7 153.7,44.1 154.1,44.6 154.6,45 155,45.5 155.4,45.9 155.8,46.4 156.2,46.9 156.7,47.4 157.1,47.8 157.6,48.3 158,48.8 158.5,49.3 158.9,49.9 159.4,50.4 159.9,50.9 160.3,51.4 160.8,51.9 161.3,52.5 161.7,53 162.2,53.6 162.7,54.1 163.2,54.7 163.7,55.2 164.2,55.8 164.7,56.4 165.1,57 165.6,57.5 166.1,58.1 166.6,58.7 167.1,59.3 167.6,59.9 168.1,60.5 168.6,61.1 169.1,61.7 169.6,62.3 170,62.9 170.5,63.5 171,64.1 171.5,64.8 171.9,65.4 172.4,66 172.9,66.6 173.4,67.3 173.8,67.9 174.3,68.5 174.7,69.2 175.2,69.8 175.6,70.4 176.1,71.1 176.5,71.7 176.9,72.4 177.3,73 177.8,73.7 178.2,74.3 178.6,74.9 179,75.6 179.4,76.2 179.7,76.9 180.1,77.5 180.5,78.2 180.9,78.8 181.2,79.5 181.6,80.1 181.9,80.7 182.2,81.4 182.5,82 182.9,82.7 183.2,83.3 183.5,83.9 183.7,84.6 184,85.2 184.3,85.8 184.5,86.5 184.8,87.1 185,87.7 185.3,88.3 185.5,89 185.7,89.6 185.9,90.2 186.1,90.8 186.3,91.4 186.4,92 186.6,92.6 186.7,93.2 186.9,93.8 187,94.4 187.1,95 187.2,95.6 187.3,96.2 187.4,96.7 187.4,97.3 187.5,97.9 187.5,98.4 187.6,99 187.6,99.6 187.6,100.1 187.6,100.6 187.6,101.2 187.6,101.7 187.5,102.2 187.5,102.8 187.4,103.3 187.4,103.8 187.3,104.3 187.2,104.8 187.1,105.3 187,105.8 186.9,106.2 186.7,106.7 186.6,107.2 186.4,107.6 186.3,108.1 186.1,108.5 185.9,109 185.7,109.4 185.5,109.8 185.3,110.3 185,110.7 184.8,111.1 184.6,111.5 184.3,111.9 184,112.3 183.8,112.6 183.5,113 183.2,113.4 182.9,113.7 182.6,114 182.2,114.4 181.9,114.7 181.6,115 181.2,115.3 180.9,115.6 180.5,115.9 180.1,116.2 179.8,116.5 179.4,116.8 179,117 178.6,117.3 178.2,117.5 177.8,117.7 177.4,118 176.9,118.2 176.5,118.4 176.1,118.6 175.6,118.8 175.2,119 174.8,119.1 174.3,119.3 173.8,119.4 173.4,119.6 172.9,119.7 172.5,119.8 172,120 171.5,120.1 171,120.2 170.5,120.2 170.1,120.3 169.6,120.4 169.1,120.4 168.6,120.5 168.1,120.5 167.6,120.6 167.1,120.6 166.7,120.6 166.2,120.6 165.7,120.6 165.2,120.6 164.7,120.5 164.2,120.5 163.7,120.5 163.2,120.4 162.7,120.3 162.3,120.3 161.8,120.2 161.3,120.1 160.8,120 160.4,119.9 159.9,119.8 159.4,119.6 159,119.5 158.5,119.4 158,119.2 157.6,119 157.1,118.9 156.7,118.7 156.3,118.5 155.8,118.3 155.4,118.1 155,117.8 154.6,117.6 154.2,117.4 153.8,117.1 153.4,116.9 153,116.6 152.6,116.3 152.2,116.1 151.9,115.8 151.5,115.5 151.2,115.2 150.8,114.8 150.5,114.5 150.2,114.2 149.9,113.8 149.5,113.5 149.2,113.1 149,112.8 148.7,112.4 148.4,112 148.1,111.6 147.9,111.3 147.7,110.9 147.4,110.4 147.2,110 147,109.6 146.8,109.2 146.6,108.7 146.4,108.3 146.2,107.8 146.1,107.4 145.9,106.9 145.8,106.5 145.7,106 145.6,105.5 145.4,105 145.4,104.5 145.3,104 145.2,103.5 145.1,103 145.1,102.5 145,101.9 145,101.4 145,100.9 145,100.3 145,99.8 145,99.2 145.1,98.7 145.1,98.1 145.1,97.6 145.2,97 145.3,96.4 145.4,95.8 145.5,95.3 145.6,94.7 145.7,94.1 145.8,93.5 146,92.9 146.1,92.3 146.3,91.7 146.4,91.1 146.6,90.5 146.8,89.8 147,89.2 147.2,88.6 147.5,88 147.7,87.4 147.9,86.7 148.2,86.1 148.5,85.5 148.7,84.8 149,84.2 149.3,83.6 149.6,82.9 149.9,82.3 150.2,81.7 150.6,81 150.9,80.4 151.2,79.7 151.6,79.1 152,78.4 152.3,77.8 152.7,77.2 153.1,76.5 153.5,75.9 153.9,75.2 154.3,74.6 154.7,73.9 155.1,73.3 155.5,72.6 155.9,72 156.4,71.4 156.8,70.7 157.2,70.1 157.7,69.4 158.1,68.8 158.6,68.2 159,67.5 159.5,66.9 160,66.3 160.4,65.7 160.9,65 161.4,64.4 161.9,63.8 162.4,63.2 162.8,62.6 163.3,62 163.8,61.3 164.3,60.7 164.8,60.1 165.3,59.5 165.8,59 166.3,58.4 166.8,57.8 167.2,57.2 167.7,56.6 168.2,56.1 168.7,55.5 169.2,54.9 169.7,54.4 170.2,53.8 170.6,53.3 171.1,52.7 171.6,52.2 172.1,51.6 172.5,51.1 173,50.6 173.5,50.1 173.9,49.6 174.4,49.1 174.8,48.6 175.3,48.1 175.7,47.6 176.2,47.1 176.6,46.6 177,46.1 177.5,45.7 177.9,45.2 178.3,44.8 178.7,44.3 179.1,43.9 179.5,43.5 179.8,43.1 180.2,42.6 180.6,42.2 181,41.8 181.3,41.4 181.6,41.1 182,40.7 182.3,40.3 182.6,40 182.9,39.6 183.2,39.3 183.5,38.9 183.8,38.6 184.1,38.3 184.4,38 184.6,37.6 184.9,37.4 185.1,37.1 185.3,36.8 185.5,36.5 185.7,36.3 185.9,36 186.1,35.8 186.3,35.5 186.5,35.3 186.6,35.1 186.8,34.9 186.9,34.7 187,34.5 187.1,34.3 187.2,34.1 187.3,34 187.4,33.8 187.4,33.7 187.5,33.5 187.5,33.4 187.6,33.3 187.6,33.2 187.6,33.1 187.6,33 187.6,32.9 187.6,32.8 187.5,32.8 187.5,32.7 187.4,32.7 187.3,32.6 187.3,32.6 187.2,32.6 187.1,32.6 187,32.6 186.8,32.6 186.7,32.6 186.5,32.7 186.4,32.7 186.2,32.8 186,32.8 185.8,32.9 185.6,33 185.4,33.1 185.2,33.2 185,33.3 184.7,33.4 184.5,33.5 184.2,33.7 184,33.8 183.7,34 183.4,34.1 183.1,34.3 182.8,34.5 182.5,34.7 182.2,34.9 181.8,35.1 181.5,35.3 181.1,35.5 180.8,35.8 180.4,36 180,36.3 179.7,36.5 179.3,36.8 178.9,37.1 178.5,37.4 178.1,37.6 177.7,38 177.3,38.3 176.8,38.6 176.4,38.9 176,39.3 175.5,39.6 175.1,40 174.6,40.3 174.2,40.7 173.7,41.1 173.3,41.4 172.8,41.8 172.3,42.2 171.8,42.6 171.4,43.1 170.9,43.5 170.4,43.9 169.9,44.3 169.4,44.8 169,45.2 168.5,45.7 168,46.1 167.5,46.6 167,47.1 166.5,47.6 166,48.1 165.5,48.6 165,49.1 164.6,49.6 164.1,50.1 163.6,50.6 163.1,51.1 162.6,51.6 162.1,52.2 161.6,52.7 161.2,53.3 160.7,53.8 160.2,54.4 159.8,54.9 159.3,55.5 158.8,56.1 158.4,56.6 157.9,57.2 157.5,57.8 157,58.4 156.6,59 156.2,59.5 155.7,60.1 155.3,60.7 154.9,61.3 154.5,62 154.1,62.6 153.7,63.2 153.3,63.8 152.9,64.4 152.5,65 152.1,65.7 151.8,66.3 151.4,66.9 151.1,67.5 150.7,68.2 150.4,68.8 150.1,69.4 149.8,70.1 149.5,70.7 149.2,71.4 148.9,72 148.6,72.6 148.3,73.3 148.1,73.9 147.8,74.6 147.6,75.2 147.4,75.9 147.1,76.5 146.9,77.2 146.7,77.8 146.5,78.4 146.4,79.1 146.2,79.7 146,80.4 145.9,81 145.8,81.7 145.6,82.3 145.5,82.9 145.4,83.6 145.3,84.2 145.2,84.8 145.2,85.5 145.1,86.1 145.1,86.7 145,87.4 145,88 145,88.6 145,89.2 145,89.8 145,90.5 145.1,91.1 145.1,91.7 145.2,92.3 145.2,92.9 145.3,93.5 145.4,94.1 145.5,94.7 145.6,95.3 145.7,95.8 145.9,96.4 146,97 146.2,97.6 146.3,98.1 146.5,98.7 146.7,99.2 146.9,99.8 147.1,100.3 147.3,100.9 147.5,101.4 147.8,101.9 148,102.5 148.3,103 148.5,103.5 148.8,104 149.1,104.5 149.4,105 149.7,105.5 150,106 150.3,106.5 150.7,106.9 151,107.4 151.3,107.8 151.7,108.3 152.1,108.7 152.4,109.2 152.8,109.6 153.2,110 153.6,110.4 154,110.9 154.4,111.3 154.8,111.6 155.2,112 155.6,112.4 156,112.8 156.5,113.1 156.9,113.5 157.4,113.8 157.8,114.2 158.3,114.5 158.7,114.8 159.2,115.2 159.6,115.5 160.1,115.8 160.6,116.1 161.1,116.3 161.5,116.6 162,116.9 162.5,117.1 163,117.4 163.5,117.6 163.9,117.8 164.4,118.1 164.9,118.3 165.4,118.5 165.9,118.7 166.4,118.9 166.9,119 167.4,119.2 167.9,119.4 168.4,119.5 168.8,119.6 169.3,119.8 169.8,119.9 170.3,120 170.8,120.1 171.3,120.2 171.7,120.3 172.2,120.3 172.7,120.4 173.1,120.5 173.6,120.5 174.1,120.5 174.5,120.6 175,120.6 175.4,120.6 175.9,120.6 176.3,120.6 176.7,120.6 177.1,120.5 177.6,120.5 178,120.4 178.4,120.4 178.8,120.3 179.2,120.2 179.6,120.2 180,120.1 180.3,120 180.7,119.8 181,119.7 181.4,119.6 181.7,119.4 182.1,119.3 182.4,119.1 182.7,119 183,118.8 183.3,118.6 183.6,118.4 183.9,118.2 184.2,118 184.4,117.7 184.7,117.5 184.9,117.3 185.2,117 185.4,116.8 185.6,116.5 185.8,116.2 186,115.9 186.2,115.6 186.3,115.3 186.5,115 186.7,114.7 186.8,114.4 186.9,114 187,113.7 187.1,113.4 187.2,113 187.3,112.6 187.4,112.3 187.5,111.9 187.5,111.5 187.5,111.1 187.6,110.7 187.6,110.3 187.6,109.8 187.6,109.4 187.6,109 187.5,108.5 187.5,108.1 187.5,107.6 187.4,107.2 187.3,106.7 187.2,106.2 187.1,105.8 187,105.3 186.9,104.8 186.8,104.3 186.6,103.8 186.5,103.3 186.3,102.8 186.2,102.2 186,101.7 185.8,101.2 185.6,100.6 185.4,100.1 185.2,99.6 184.9,99 184.7,98.4 184.4,97.9 184.2,97.3 183.9,96.7 183.6,96.2 183.3,95.6 183,95 182.7,94.4 182.4,93.8 182.1,93.2 181.7,92.6 181.4,92 181,91.4 180.7,90.8 180.3,90.2 179.9,89.6 179.6,89 179.2,88.3 178.8,87.7 178.4,87.1 178,86.5 177.6,85.8 177.1,85.2 176.7,84.6 176.3,83.9 175.8,83.3 175.4,82.7 175,82 174.5,81.4 174.1,80.7 173.6,80.1 173.1,79.5 172.7,78.8 172.2,78.2 171.7,77.5 171.2,76.9 170.8,76.2 170.3,75.6 169.8,74.9 169.3,74.3 168.8,73.7 168.3,73 167.9,72.4 167.4,71.7 166.9,71.1 166.4,70.4 165.9,69.8 165.4,69.2 164.9,68.5 164.4,67.9 163.9,67.3 163.4,66.6 163,66 162.5,65.4 162,64.8 161.5,64.1 161,63.5 160.6,62.9 160.1,62.3 159.6,61.7 159.2,61.1 158.7,60.5 158.2,59.9 157.8,59.3 157.3,58.7 156.9,58.1 156.5,57.5 156,57 155.6,56.4 155.2,55.8 154.8,55.2 154.4,54.7 154,54.1 153.6,53.6 153.2,53 152.8,52.5 152.4,51.9 152,51.4 151.7,50.9 151.3,50.4 151,49.9 150.6,49.3 150.3,48.8 150,48.3 149.7,47.8 149.4,47.4 149.1,46.9 148.8,46.4 148.5,45.9 148.3,45.5 148,45 147.8,44.6 147.5,44.1 147.3,43.7 147.1,43.3 146.9,42.9 146.7,42.5 146.5,42.1 146.3,41.7 146.2,41.3 146,40.9 145.9,40.5 145.7,40.2 145.6,39.8 145.5,39.4 145.4,39.1 145.3,38.8 145.2,38.4 145.2,38.1 145.1,37.8 145.1,37.5 145,37.2 145,36.9 145,36.7 145,36.4 145,36.1 145,35.9 145.1,35.7 145.1,35.4 145.2,35.2 145.2,35 145.3,34.8 145.4,34.6 145.5,34.4 145.6,34.2 145.8,34.1 145.9,33.9 146,33.7 146.2,33.6 146.4,33.5 146.5,33.3 146.7,33.2 146.9,33.1 147.1,33 147.4,32.9 147.6,32.9 147.8,32.8 148.1,32.7 148.3,32.7 148.6,32.7 148.9,32.6 149.2,32.6 149.5,32.6 149.8,32.6 150.1,32.6 150.4,32.6 150.7,32.7 151.1,32.7 151.4,32.7 151.8,32.8 152.2,32.9 152.5,32.9 152.9,33 153.3,33.1 153.7,33.2 154.1,33.3 154.5,33.4 154.9,33.6 155.3,33.7 155.7,33.9 156.2,34 156.6,34.2 157,34.4 157.5,34.6 157.9,34.8 158.4,35 158.8,35.2 159.3,35.4 159.8,35.6 160.2,35.9 160.7,36.1 161.2,36.4 161.7,36.6 162.1,36.9 162.6,37.2 163.1,37.5 163.6,37.8 164.1,38.1 164.6,38.4 165.1,38.7 165.5,39.1 166,39.4 166.5,39.7 167,40.1 167.5,40.5 168,40.8 168.5,41.2 169,41.6 169.5,42 169.9,42.4 170.4,42.8 170.9,43.2 171.4,43.7 171.9,44.1 172.3,44.5 172.8,45 173.3,45.4 173.7,45.9 174.2,46.3 174.6,46.8 175.1,47.3 175.5,47.8 176,48.3 176.4,48.8 176.8,49.3 177.3,49.8 177.7,50.3 178.1,50.8 178.5,51.3 178.9,51.9 179.3,52.4 179.7,52.9 180.1,53.5 180.4,54 180.8,54.6 181.1,55.2 181.5,55.7 181.8,56.3 182.2,56.9 182.5,57.4 182.8,58 183.1,58.6 183.4,59.2 183.7,59.8 184,60.4 184.2,61 184.5,61.6 184.7,62.2 185,62.8 185.2,63.4 185.4,64.1 185.7,64.7 185.9,65.3 186,65.9 186.2,66.6 186.4,67.2 186.5,67.8 186.7,68.4 186.8,69.1 187,69.7 187.1,70.4 187.2,71 187.3,71.6 187.3,72.3 187.4,72.9 187.5,73.6 187.5,74.2 187.6,74.8 187.6,75.5 187.6,76.1 187.6,76.8 187.6,77.4 187.6,78.1 187.5,78.7 187.5,79.4 187.4,80 187.4,80.6 187.3,81.3 187.2,81.9 187.1,82.6 187,83.2 186.9,83.8 186.8,84.5 186.6,85.1 186.5,85.7 186.3,86.4 186.1,87 185.9,87.6 185.7,88.3 185.5,88.9 185.3,89.5 185.1,90.1 184.9,90.7 184.6,91.3 184.4,91.9 184.1,92.5 183.8,93.1 183.5,93.7 183.2,94.3 182.9,94.9 182.6,95.5 182.3,96.1 182,96.7 181.6,97.2 181.3,97.8 180.9,98.4 180.6,98.9 180.2,99.5 179.8,100 179.5,100.6 179.1,101.1 178.7,101.6 178.3,102.2 177.9,102.7 177.4,103.2 177,103.7 176.6,104.2 176.2,104.7 175.7,105.2 175.3,105.7 174.8,106.2 174.4,106.7 173.9,107.1 173.5,107.6 173,108 172.5,108.5 172.1,108.9 171.6,109.4 171.1,109.8 170.6,110.2 170.2,110.6 169.7,111 169.2,111.4 168.7,111.8 168.2,112.2 167.7,112.6 167.2,112.9 166.7,113.3 166.2,113.7 165.8,114 165.3,114.3 164.8,114.7 164.3,115 163.8,115.3 163.3,115.6 162.8,115.9 162.3,116.2 161.9,116.5 161.4,116.7 160.9,117 160.4,117.2 160,117.5 159.5,117.7 159,117.9 158.6,118.2 158.1,118.4 157.7,118.6 157.2,118.7 156.8,118.9 156.3,119.1 155.9,119.3 155.5,119.4 155.1,119.6 154.7,119.7 154.2,119.8 153.8,119.9 153.5,120 153.1,120.1 152.7,120.2 152.3,120.3 151.9,120.4 151.6,120.4 151.2,120.5 150.9,120.5 150.6,120.6 150.2,120.6 149.9,120.6 149.6,120.6 149.3,120.6 149,120.6 148.7,120.6 148.5,120.5 148.2,120.5 147.9,120.4 147.7,120.4 147.5,120.3 147.2,120.2 147,120.1 146.8,120 146.6,119.9 146.4,119.8 146.3,119.7 146.1,119.5 146,119.4 145.8,119.2 145.7,119.1 145.6,118.9 145.5,118.7 145.4,118.5 145.3,118.3 145.2,118.1 145.1,117.9 145.1,117.6 145.1,117.4 145,117.2 145,116.9 145,116.6 145,116.4 145,116.1 145,115.8 145.1,115.5 145.1,115.2 145.2,114.9 145.3,114.6 145.4,114.2 145.4,113.9 145.6,113.6 145.7,113.2 145.8,112.8 145.9,112.5 146.1,112.1 146.2,111.7 146.4,111.3 146.6,110.9 146.8,110.5 147,110.1 147.2,109.7 147.4,109.2 147.7,108.8 147.9,108.4 148.2,107.9 148.4,107.5 148.7,107 149,106.5 149.3,106 149.6,105.6 149.9,105.1 150.2,104.6 150.5,104.1 150.8,103.6 151.2,103.1 151.5,102.5 151.9,102 152.3,101.5 152.6,100.9 153,100.4 153.4,99.9 153.8,99.3 154.2,98.8 154.6,98.2 155,97.6 155.4,97.1 155.8,96.5 156.3,95.9 156.7,95.3 157.2,94.7 157.6,94.2 158.1,93.6 158.5,93 159,92.4 159.4,91.8 159.9,91.2 160.4,90.5 160.8,89.9 161.3,89.3 161.8,88.7 162.3,88.1 162.8,87.5 163.2,86.8 163.7,86.2 164.2,85.6 164.7,84.9 165.2,84.3 165.7,83.7 166.2,83 166.7,82.4 167.2,81.7 167.6,81.1 168.1,80.5 168.6,79.8 169.1,79.2 169.6,78.5 170.1,77.9 170.6,77.2 171,76.6" fill="none" stroke="#2472b4" stroke-width="1.0"/>
<rect x="121" y="32" width="91.5" height="89" fill="none" stroke="#333" stroke-width="1.1"/>
<line x1="198.8" y1="29" x2="198.8" y2="43.3" stroke="#111" stroke-width="1"/>
<circle cx="198.8" cy="43.3" r="1.4" fill="#000"/>
<text x="146.2" y="115.8" font-family="'Liberation Sans', sans-serif" font-size="10.3" fill="#111" stroke="#111" stroke-width="0.15" textLength="43.6" lengthAdjust="spacingAndGlyphs">Pattern <tspan font-style="italic">P</tspan><tspan font-size="6.9" dy="2.1" dx="0.2">1</tspan></text>
<polyline points="57.4,145.6 57.8,145.6 58.3,145.6 58.7,145.6 59.2,145.6 59.6,145.6 60.1,145.7 60.5,145.7 61,145.7 61.4,145.7 61.8,145.8 62.3,145.8 62.7,145.8 63.2,145.9 63.6,145.9 64,146 64.5,146 64.9,146.1 65.4,146.1 65.8,146.2 66.2,146.3 66.6,146.3 67.1,146.4 67.5,146.5 67.9,146.6 68.4,146.7 68.8,146.7 69.2,146.8 69.6,146.9 70,147 70.4,147.1 70.9,147.2 71.3,147.3 71.7,147.4 72.1,147.5 72.5,147.7 72.9,147.8 73.3,147.9 73.7,148 74.1,148.2 74.4,148.3 74.8,148.4 75.2,148.6 75.6,148.7 76,148.8 76.4,149 76.7,149.1 77.1,149.3 77.5,149.5 77.8,149.6 78.2,149.8 78.5,149.9 78.9,150.1 79.2,150.3 79.6,150.5 79.9,150.6 80.2,150.8 80.6,151 80.9,151.2 81.2,151.4 81.6,151.6 81.9,151.8 82.2,152 82.5,152.2 82.8,152.4 83.1,152.6 83.4,152.8 83.7,153 84,153.2 84.3,153.4 84.5,153.7 84.8,153.9 85.1,154.1 85.3,154.3 85.6,154.6 85.9,154.8 86.1,155.1 86.4,155.3 86.6,155.5 86.8,155.8 87.1,156 87.3,156.3 87.5,156.5 87.7,156.8 87.9,157 88.2,157.3 88.4,157.6 88.6,157.8 88.7,158.1 88.9,158.4 89.1,158.7 89.3,158.9 89.5,159.2 89.6,159.5 89.8,159.8 89.9,160.1 90.1,160.3 90.2,160.6 90.4,160.9 90.5,161.2 90.6,161.5 90.7,161.8 90.9,162.1 91,162.4 91.1,162.7 91.2,163 91.3,163.3 91.4,163.7 91.4,164 91.5,164.3 91.6,164.6 91.7,164.9 91.7,165.2 91.8,165.6 91.8,165.9 91.9,166.2 91.9,166.5 91.9,166.9 92,167.2 92,167.5 92,167.9 92,168.2 92,168.5 92,168.9 92,169.2 92,169.6 92,169.9 91.9,170.3 91.9,170.6 91.9,171 91.8,171.3 91.8,171.7 91.7,172 91.7,172.4 91.6,172.7 91.5,173.1 91.4,173.4 91.4,173.8 91.3,174.2 91.2,174.5 91.1,174.9 91,175.3 90.9,175.6 90.7,176 90.6,176.4 90.5,176.7 90.4,177.1 90.2,177.5 90.1,177.8 89.9,178.2 89.8,178.6 89.6,179 89.4,179.3 89.3,179.7 89.1,180.1 88.9,180.5 88.7,180.8 88.5,181.2 88.3,181.6 88.1,182 87.9,182.4 87.7,182.7 87.5,183.1 87.3,183.5 87,183.9 86.8,184.3 86.6,184.7 86.3,185 86.1,185.4 85.8,185.8 85.6,186.2 85.3,186.6 85.1,187 84.8,187.3 84.5,187.7 84.2,188.1 83.9,188.5 83.7,188.9 83.4,189.3 83.1,189.7 82.8,190.1 82.5,190.4 82.2,190.8 81.8,191.2 81.5,191.6 81.2,192 80.9,192.4 80.5,192.8 80.2,193.1 79.9,193.5 79.5,193.9 79.2,194.3 78.8,194.7 78.5,195.1 78.1,195.4 77.8,195.8 77.4,196.2 77.1,196.6 76.7,197 76.3,197.3 75.9,197.7 75.6,198.1 75.2,198.5 74.8,198.9 74.4,199.2 74,199.6 73.6,200 73.2,200.4 72.8,200.7 72.4,201.1 72,201.5 71.6,201.9 71.2,202.2 70.8,202.6 70.4,203 70,203.3 69.6,203.7 69.2,204.1 68.7,204.4 68.3,204.8 67.9,205.1 67.5,205.5 67,205.9 66.6,206.2 66.2,206.6 65.7,206.9 65.3,207.3 64.9,207.6 64.4,208 64,208.3 63.6,208.7 63.1,209 62.7,209.4 62.2,209.7 61.8,210.1 61.4,210.4 60.9,210.7 60.5,211.1 60,211.4 59.6,211.8 59.1,212.1 58.7,212.4 58.2,212.7 57.8,213.1 57.4,213.4 56.9,213.7 56.5,214 56,214.4 55.6,214.7 55.1,215 54.7,215.3 54.2,215.6 53.8,215.9 53.4,216.2 52.9,216.5 52.5,216.8 52,217.1 51.6,217.4 51.2,217.7 50.7,218 50.3,218.3 49.8,218.6 49.4,218.9 49,219.2 48.5,219.5 48.1,219.8 47.7,220 47.3,220.3 46.8,220.6 46.4,220.9 46,221.1 45.6,221.4 45.1,221.7 44.7,221.9 44.3,222.2 43.9,222.4 43.5,222.7 43.1,222.9 42.7,223.2 42.3,223.4 41.9,223.7 41.5,223.9 41.1,224.2 40.7,224.4 40.3,224.6 39.9,224.9 39.5,225.1 39.2,225.3 38.8,225.5 38.4,225.7 38,226 37.7,226.2 37.3,226.4 36.9,226.6 36.6,226.8 36.2,227 35.9,227.2 35.5,227.4 35.2,227.6 34.9,227.8 34.5,228 34.2,228.2 33.9,228.3 33.5,228.5 33.2,228.7 32.9,228.9 32.6,229 32.3,229.2 32,229.4 31.7,229.5 31.4,229.7 31.1,229.8 30.8,230 30.5,230.1 30.2,230.3 30,230.4 29.7,230.6 29.4,230.7 29.2,230.8 28.9,231 28.7,231.1 28.4,231.2 28.2,231.3 27.9,231.4 27.7,231.5 27.5,231.7 27.3,231.8 27,231.9 26.8,232 26.6,232.1 26.4,232.2 26.2,232.2 26,232.3 25.9,232.4 25.7,232.5 25.5,232.6 25.3,232.6 25.2,232.7 25,232.8 24.8,232.8 24.7,232.9 24.6,233 24.4,233 24.3,233.1 24.2,233.1 24,233.1 23.9,233.2 23.8,233.2 23.7,233.3 23.6,233.3 23.5,233.3 23.4,233.3 23.3,233.4 23.3,233.4 23.2,233.4 23.1,233.4 23.1,233.4 23,233.4 23,233.4 22.9,233.4 22.9,233.4 22.9,233.4 22.8,233.4 22.8,233.3 22.8,233.3 22.8,233.3 22.8,233.3 22.8,233.2 22.8,233.2 22.8,233.2 22.8,233.1 22.9,233.1 22.9,233 22.9,233 23,232.9 23,232.9 23.1,232.8 23.2,232.7 23.2,232.7 23.3,232.6 23.4,232.5 23.5,232.4 23.5,232.4 23.6,232.3 23.7,232.2 23.8,232.1 24,232 24.1,231.9 24.2,231.8 24.3,231.7 24.5,231.6 24.6,231.5 24.7,231.4 24.9,231.2 25,231.1 25.2,231 25.4,230.9 25.5,230.7 25.7,230.6 25.9,230.5 26.1,230.3 26.3,230.2 26.5,230 26.7,229.9 26.9,229.7 27.1,229.6 27.3,229.4 27.5,229.2 27.8,229.1 28,228.9 28.2,228.7 28.5,228.6 28.7,228.4 29,228.2 29.2,228 29.5,227.8 29.8,227.6 30,227.5 30.3,227.3 30.6,227.1 30.9,226.9 31.2,226.7 31.5,226.4 31.8,226.2 32.1,226 32.4,225.8 32.7,225.6 33,225.4 33.3,225.1 33.6,224.9 34,224.7 34.3,224.5 34.6,224.2 35,224 35.3,223.7 35.6,223.5 36,223.3 36.3,223 36.7,222.8 37.1,222.5 37.4,222.2 37.8,222 38.2,221.7 38.5,221.5 38.9,221.2 39.3,220.9 39.7,220.7 40,220.4 40.4,220.1 40.8,219.8 41.2,219.6 41.6,219.3 42,219 42.4,218.7 42.8,218.4 43.2,218.1 43.6,217.8 44,217.5 44.4,217.2 44.9,216.9 45.3,216.6 45.7,216.3 46.1,216 46.5,215.7 47,215.4 47.4,215.1 47.8,214.8 48.2,214.4 48.7,214.1 49.1,213.8 49.5,213.5 50,213.2 50.4,212.8 50.8,212.5 51.3,212.2 51.7,211.8 52.2,211.5 52.6,211.2 53,210.8 53.5,210.5 53.9,210.2 54.4,209.8 54.8,209.5 55.3,209.1 55.7,208.8 56.2,208.4 56.6,208.1 57,207.7 57.5,207.4 57.9,207 58.4,206.7 58.8,206.3 59.3,206 59.7,205.6 60.2,205.2 60.6,204.9 61,204.5 61.5,204.2 61.9,203.8 62.4,203.4 62.8,203.1 63.3,202.7 63.7,202.3 64.1,202 64.6,201.6 65,201.2 65.4,200.8 65.9,200.5 66.3,200.1 66.7,199.7 67.2,199.3 67.6,199 68,198.6 68.4,198.2 68.9,197.8 69.3,197.5 69.7,197.1 70.1,196.7 70.5,196.3 70.9,195.9 71.3,195.5 71.7,195.2 72.2,194.8 72.6,194.4 73,194 73.3,193.6 73.7,193.2 74.1,192.9 74.5,192.5 74.9,192.1 75.3,191.7 75.7,191.3 76,190.9 76.4,190.5 76.8,190.2 77.2,189.8 77.5,189.4 77.9,189 78.2,188.6 78.6,188.2 78.9,187.8 79.3,187.5 79.6,187.1 80,186.7 80.3,186.3 80.6,185.9 81,185.5 81.3,185.1 81.6,184.8 81.9,184.4 82.2,184 82.6,183.6 82.9,183.2 83.2,182.9 83.5,182.5 83.7,182.1 84,181.7 84.3,181.3 84.6,180.9 84.9,180.6 85.1,180.2 85.4,179.8 85.7,179.4 85.9,179.1 86.2,178.7 86.4,178.3 86.6,177.9 86.9,177.6 87.1,177.2 87.3,176.8 87.6,176.5 87.8,176.1 88,175.7 88.2,175.4 88.4,175 88.6,174.6 88.8,174.3 89,173.9 89.1,173.5 89.3,173.2 89.5,172.8 89.7,172.5 89.8,172.1 90,171.8 90.1,171.4 90.3,171.1 90.4,170.7 90.5,170.4 90.7,170 90.8,169.7 90.9,169.3 91,169 91.1,168.6 91.2,168.3 91.3,168 91.4,167.6 91.5,167.3 91.5,167 91.6,166.6 91.7,166.3 91.7,166 91.8,165.7 91.8,165.3 91.9,165 91.9,164.7 91.9,164.4 92,164.1 92,163.7 92,163.4 92,163.1 92,162.8 92,162.5 92,162.2 92,161.9 91.9,161.6 91.9,161.3 91.9,161 91.8,160.7 91.8,160.4 91.8,160.1 91.7,159.9 91.6,159.6 91.6,159.3 91.5,159 91.4,158.7 91.3,158.5 91.2,158.2 91.2,157.9 91,157.6 90.9,157.4 90.8,157.1 90.7,156.9 90.6,156.6 90.5,156.4 90.3,156.1 90.2,155.9 90,155.6 89.9,155.4 89.7,155.1 89.6,154.9 89.4,154.6 89.2,154.4 89.1,154.2 88.9,154 88.7,153.7 88.5,153.5 88.3,153.3 88.1,153.1 87.9,152.9 87.7,152.6 87.5,152.4 87.2,152.2 87,152 86.8,151.8 86.5,151.6 86.3,151.4 86,151.2 85.8,151.1 85.5,150.9 85.3,150.7 85,150.5 84.7,150.3 84.5,150.2 84.2,150 83.9,149.8 83.6,149.7 83.3,149.5 83,149.3 82.7,149.2 82.4,149 82.1,148.9 81.8,148.7 81.5,148.6 81.1,148.5 80.8,148.3 80.5,148.2 80.2,148.1 79.8,147.9 79.5,147.8 79.1,147.7 78.8,147.6 78.4,147.5 78.1,147.4 77.7,147.3 77.3,147.1 77,147 76.6,147 76.2,146.9 75.9,146.8 75.5,146.7 75.1,146.6 74.7,146.5 74.3,146.4 73.9,146.4 73.6,146.3 73.2,146.2 72.8,146.2 72.4,146.1 72,146 71.5,146 71.1,145.9 70.7,145.9 70.3,145.9 69.9,145.8 69.5,145.8 69.1,145.7 68.6,145.7 68.2,145.7 67.8,145.7 67.4,145.6 66.9,145.6 66.5,145.6 66.1,145.6 65.7,145.6 65.2,145.6 64.8,145.6 64.4,145.6 63.9,145.6 63.5,145.6 63,145.6 62.6,145.7 62.2,145.7 61.7,145.7 61.3,145.7 60.8,145.8 60.4,145.8 59.9,145.8 59.5,145.9 59.1,145.9 58.6,146 58.2,146 57.7,146.1 57.3,146.1 56.8,146.2 56.4,146.3 55.9,146.3 55.5,146.4 55,146.5 54.6,146.6 54.2,146.6 53.7,146.7 53.3,146.8 52.8,146.9 52.4,147 51.9,147.1 51.5,147.2 51.1,147.3 50.6,147.4 50.2,147.5 49.8,147.6 49.3,147.7 48.9,147.9 48.5,148 48,148.1 47.6,148.3 47.2,148.4 46.7,148.5 46.3,148.7 45.9,148.8 45.5,149 45.1,149.1 44.7,149.3 44.2,149.4 43.8,149.6 43.4,149.7 43,149.9 42.6,150.1 42.2,150.2 41.8,150.4 41.4,150.6 41,150.8 40.6,151 40.2,151.1 39.9,151.3 39.5,151.5 39.1,151.7 38.7,151.9 38.3,152.1 38,152.3 37.6,152.5 37.2,152.7 36.9,152.9 36.5,153.2 36.2,153.4 35.8,153.6 35.5,153.8 35.1,154 34.8,154.3 34.5,154.5 34.1,154.7 33.8,155 33.5,155.2 33.2,155.5 32.8,155.7 32.5,156 32.2,156.2 31.9,156.5 31.6,156.7 31.3,157 31,157.2 30.7,157.5 30.5,157.8 30.2,158 29.9,158.3 29.6,158.6 29.4,158.9 29.1,159.1 28.9,159.4 28.6,159.7 28.4,160 28.1,160.3 27.9,160.6 27.7,160.8 27.4,161.1 27.2,161.4 27,161.7 26.8,162 26.6,162.3 26.4,162.6 26.2,162.9 26,163.3 25.8,163.6 25.6,163.9 25.5,164.2 25.3,164.5 25.1,164.8 25,165.1 24.8,165.5 24.7,165.8 24.5,166.1 24.4,166.4 24.3,166.8 24.1,167.1 24,167.4 23.9,167.8 23.8,168.1 23.7,168.4 23.6,168.8 23.5,169.1 23.4,169.5 23.3,169.8 23.3,170.2 23.2,170.5 23.1,170.9 23.1,171.2 23,171.6 23,171.9 22.9,172.3 22.9,172.6 22.9,173 22.8,173.3 22.8,173.7 22.8,174.1 22.8,174.4 22.8,174.8 22.8,175.1 22.8,175.5 22.8,175.9 22.9,176.2 22.9,176.6 22.9,177 23,177.4 23,177.7 23.1,178.1 23.1,178.5 23.2,178.8 23.2,179.2 23.3,179.6 23.4,180 23.5,180.4 23.6,180.7 23.7,181.1 23.8,181.5 23.9,181.9 24,182.3 24.1,182.6 24.2,183 24.4,183.4 24.5,183.8 24.6,184.2 24.8,184.5 24.9,184.9 25.1,185.3 25.2,185.7 25.4,186.1 25.6,186.5 25.8,186.9 25.9,187.2 26.1,187.6 26.3,188 26.5,188.4 26.7,188.8 26.9,189.2 27.1,189.6 27.4,189.9 27.6,190.3 27.8,190.7 28.1,191.1 28.3,191.5 28.5,191.9 28.8,192.3 29,192.6 29.3,193 29.6,193.4 29.8,193.8 30.1,194.2 30.4,194.6 30.7,194.9 30.9,195.3 31.2,195.7 31.5,196.1 31.8,196.5 32.1,196.9 32.4,197.2 32.7,197.6 33,198 33.4,198.4 33.7,198.8 34,199.1 34.3,199.5 34.7,199.9 35,200.3 35.4,200.6 35.7,201 36.1,201.4 36.4,201.7 36.8,202.1 37.1,202.5 37.5,202.9 37.9,203.2 38.2,203.6 38.6,204 39,204.3 39.3,204.7 39.7,205 40.1,205.4 40.5,205.8 40.9,206.1 41.3,206.5 41.7,206.8 42.1,207.2 42.5,207.5 42.9,207.9 43.3,208.2 43.7,208.6 44.1,208.9 44.5,209.3 44.9,209.6 45.4,210 45.8,210.3 46.2,210.6 46.6,211 47,211.3 47.5,211.7 47.9,212 48.3,212.3 48.8,212.6 49.2,213 49.6,213.3 50.1,213.6 50.5,213.9 50.9,214.3 51.4,214.6 51.8,214.9 52.2,215.2 52.7,215.5 53.1,215.8 53.6,216.1 54,216.5 54.5,216.8 54.9,217.1 55.3,217.4 55.8,217.7 56.2,217.9 56.7,218.2 57.1,218.5 57.6,218.8 58,219.1 58.5,219.4 58.9,219.7 59.4,220 59.8,220.2 60.2,220.5 60.7,220.8 61.1,221 61.6,221.3 62,221.6 62.5,221.8 62.9,222.1 63.3,222.4 63.8,222.6 64.2,222.9 64.7,223.1 65.1,223.4 65.5,223.6 66,223.8 66.4,224.1 66.8,224.3 67.2,224.6 67.7,224.8 68.1,225 68.5,225.2 68.9,225.5 69.4,225.7 69.8,225.9 70.2,226.1 70.6,226.3 71,226.5 71.4,226.7 71.8,226.9 72.2,227.1 72.6,227.3 73,227.5 73.4,227.7 73.8,227.9 74.2,228.1 74.6,228.3 75,228.5 75.4,228.6 75.7,228.8 76.1,229 76.5,229.2 76.9,229.3 77.2,229.5 77.6,229.6 78,229.8 78.3,229.9 78.7,230.1 79,230.2 79.4,230.4 79.7,230.5 80,230.7 80.4,230.8 80.7,230.9 81,231 81.4,231.2 81.7,231.3 82,231.4 82.3,231.5 82.6,231.6 82.9,231.7 83.2,231.8 83.5,231.9 83.8,232 84.1,232.1 84.4,232.2 84.6,232.3 84.9,232.4 85.2,232.5 85.4,232.5 85.7,232.6 86,232.7 86.2,232.8 86.5,232.8 86.7,232.9 86.9,232.9 87.2,233 87.4,233 87.6,233.1 87.8,233.1 88,233.2 88.2,233.2 88.4,233.2 88.6,233.3 88.8,233.3 89,233.3 89.2,233.3 89.4,233.4 89.5,233.4 89.7,233.4 89.8,233.4 90,233.4 90.1,233.4 90.3,233.4 90.4,233.4 90.5,233.4 90.7,233.4 90.8,233.3 90.9,233.3 91,233.3 91.1,233.3 91.2,233.2 91.3,233.2 91.4,233.2 91.5,233.1 91.5,233.1 91.6,233 91.7,233 91.7,232.9 91.8,232.9 91.8,232.8 91.9,232.8 91.9,232.7 91.9,232.6 92,232.5 92,232.5 92,232.4 92,232.3 92,232.2 92,232.1 92,232 92,231.9 91.9,231.8 91.9,231.7 91.9,231.6 91.8,231.5 91.8,231.4 91.7,231.3 91.7,231.1 91.6,231 91.6,230.9 91.5,230.8 91.4,230.6 91.3,230.5 91.2,230.4 91.1,230.2 91,230.1 90.9,229.9 90.8,229.8 90.7,229.6 90.6,229.5 90.4,229.3 90.3,229.1 90.2,229 90,228.8 89.9,228.6 89.7,228.4 89.5,228.3 89.4,228.1 89.2,227.9 89,227.7 88.8,227.5 88.7,227.3 88.5,227.1 88.3,226.9 88.1,226.7 87.8,226.5 87.6,226.3 87.4,226.1 87.2,225.9 87,225.7 86.7,225.4 86.5,225.2 86.2,225 86,224.8 85.7,224.5 85.5,224.3 85.2,224.1 85,223.8 84.7,223.6 84.4,223.3 84.1,223.1 83.8,222.8 83.5,222.6 83.3,222.3 83,222.1 82.7,221.8 82.3,221.5 82,221.3 81.7,221 81.4,220.7 81.1,220.5 80.8,220.2 80.4,219.9 80.1,219.6 79.7,219.3 79.4,219.1 79.1,218.8 78.7,218.5 78.4,218.2 78,217.9 77.6,217.6 77.3,217.3 76.9,217 76.5,216.7 76.2,216.4 75.8,216.1 75.4,215.8 75,215.5 74.6,215.2 74.3,214.9 73.9,214.5 73.5,214.2 73.1,213.9 72.7,213.6 72.3,213.3 71.9,212.9 71.5,212.6 71.1,212.3 70.7,211.9 70.2,211.6 69.8,211.3 69.4,210.9 69,210.6 68.6,210.3 68.1,209.9 67.7,209.6 67.3,209.2 66.9,208.9 66.4,208.5 66,208.2 65.6,207.8 65.1,207.5 64.7,207.1 64.3,206.8 63.8,206.4 63.4,206.1 63,205.7 62.5,205.4 62.1,205 61.6,204.6 61.2,204.3 60.7,203.9 60.3,203.5 59.9,203.2 59.4,202.8 59,202.4 58.5,202.1 58.1,201.7 57.6,201.3 57.2,201 56.7,200.6 56.3,200.2 55.8,199.8 55.4,199.5 55,199.1 54.5,198.7 54.1,198.3 53.6,197.9 53.2,197.6 52.7,197.2 52.3,196.8 51.9,196.4 51.4,196 51,195.7 50.5,195.3 50.1,194.9 49.7,194.5 49.2,194.1 48.8,193.7 48.4,193.4 47.9,193 47.5,192.6 47.1,192.2 46.7,191.8 46.2,191.4 45.8,191 45.4,190.7 45,190.3 44.6,189.9 44.2,189.5 43.7,189.1 43.3,188.7 42.9,188.3 42.5,188 42.1,187.6 41.7,187.2 41.3,186.8 40.9,186.4 40.6,186 40.2,185.6 39.8,185.3 39.4,184.9 39,184.5 38.6,184.1 38.3,183.7 37.9,183.3 37.5,183 37.2,182.6 36.8,182.2 36.5,181.8 36.1,181.4 35.7,181.1 35.4,180.7 35.1,180.3 34.7,179.9 34.4,179.5 34.1,179.2 33.7,178.8 33.4,178.4 33.1,178 32.8,177.7 32.5,177.3 32.2,176.9 31.9,176.6 31.6,176.2 31.3,175.8 31,175.5 30.7,175.1 30.4,174.7 30.1,174.4 29.9,174 29.6,173.6 29.3,173.3 29.1,172.9 28.8,172.6 28.6,172.2 28.3,171.9 28.1,171.5 27.8,171.2 27.6,170.8 27.4,170.5 27.2,170.1 27,169.8 26.8,169.4 26.5,169.1 26.3,168.7 26.2,168.4 26,168.1 25.8,167.7 25.6,167.4 25.4,167.1 25.3,166.7 25.1,166.4 24.9,166.1 24.8,165.7 24.6,165.4 24.5,165.1 24.4,164.8 24.2,164.5 24.1,164.1 24,163.8 23.9,163.5 23.8,163.2 23.7,162.9 23.6,162.6 23.5,162.3 23.4,162 23.3,161.7 23.2,161.4 23.2,161.1 23.1,160.8 23.1,160.5 23,160.2 23,159.9 22.9,159.7 22.9,159.4 22.9,159.1 22.8,158.8 22.8,158.5 22.8,158.3 22.8,158 22.8,157.7 22.8,157.5 22.8,157.2 22.8,156.9 22.9,156.7 22.9,156.4 22.9,156.2 23,155.9 23,155.7 23.1,155.4 23.1,155.2 23.2,154.9 23.3,154.7 23.3,154.5 23.4,154.2 23.5,154 23.6,153.8 23.7,153.6 23.8,153.3 23.9,153.1 24,152.9 24.1,152.7 24.2,152.5 24.4,152.3 24.5,152.1 24.7,151.9 24.8,151.7 25,151.5 25.1,151.3 25.3,151.1 25.4,150.9 25.6,150.7 25.8,150.6 26,150.4 26.2,150.2 26.4,150 26.6,149.9 26.8,149.7 27,149.5 27.2,149.4 27.4,149.2 27.6,149.1 27.9,148.9 28.1,148.8 28.3,148.6 28.6,148.5 28.8,148.4 29.1,148.2 29.3,148.1 29.6,148 29.9,147.9 30.1,147.7 30.4,147.6 30.7,147.5 31,147.4 31.3,147.3 31.6,147.2 31.9,147.1 32.2,147 32.5,146.9 32.8,146.8 33.1,146.7 33.4,146.6 33.8,146.5 34.1,146.5 34.4,146.4 34.7,146.3 35.1,146.2 35.4,146.2 35.8,146.1 36.1,146.1 36.5,146 36.8,146 37.2,145.9 37.6,145.9 37.9,145.8 38.3,145.8 38.7,145.8 39,145.7 39.4,145.7 39.8,145.7 40.2,145.7 40.6,145.6 41,145.6 41.4,145.6 41.8,145.6 42.2,145.6 42.6,145.6 43,145.6 43.4,145.6 43.8,145.6 44.2,145.6 44.6,145.7 45,145.7 45.4,145.7 45.9,145.7 46.3,145.8 46.7,145.8 47.1,145.8 47.5,145.9 48,145.9 48.4,146 48.8,146 49.3,146.1 49.7,146.1 50.1,146.2 50.6,146.2 51,146.3 51.5,146.4 51.9,146.5 52.3,146.5 52.8,146.6 53.2,146.7 53.7,146.8 54.1,146.9 54.5,147 55,147.1 55.4,147.2 55.9,147.3 56.3,147.4 56.8,147.5 57.2,147.6 57.7,147.7 58.1,147.8 58.6,148 59,148.1 59.4,148.2 59.9,148.3 60.3,148.5 60.8,148.6 61.2,148.8 61.7,148.9 62.1,149.1 62.5,149.2 63,149.4 63.4,149.5 63.9,149.7 64.3,149.8 64.7,150 65.2,150.2 65.6,150.4 66,150.5 66.5,150.7 66.9,150.9 67.3,151.1 67.8,151.3 68.2,151.5 68.6,151.7 69,151.9 69.4,152.1 69.9,152.3 70.3,152.5 70.7,152.7 71.1,152.9 71.5,153.1 71.9,153.3 72.3,153.5 72.7,153.8 73.1,154 73.5,154.2 73.9,154.4 74.3,154.7 74.7,154.9 75.1,155.2 75.4,155.4 75.8,155.6 76.2,155.9 76.6,156.1 76.9,156.4 77.3,156.6 77.7,156.9 78,157.2 78.4,157.4 78.7,157.7 79.1,158 79.4,158.2 79.8,158.5 80.1,158.8 80.4,159 80.8,159.3 81.1,159.6 81.4,159.9 81.7,160.2 82.1,160.5 82.4,160.8 82.7,161.1 83,161.3 83.3,161.6 83.6,161.9 83.9,162.2 84.1,162.5 84.4,162.9 84.7,163.2 85,163.5 85.2,163.8 85.5,164.1 85.8,164.4 86,164.7 86.3,165.1 86.5,165.4 86.7,165.7 87,166 87.2,166.4 87.4,166.7 87.6,167 87.9,167.3 88.1,167.7 88.3,168 88.5,168.4 88.7,168.7 88.9,169 89,169.4 89.2,169.7 89.4,170.1 89.6,170.4 89.7,170.8 89.9,171.1 90,171.5 90.2,171.8 90.3,172.2 90.4,172.5 90.6,172.9 90.7,173.2 90.8,173.6 90.9,174 91,174.3 91.1,174.7 91.2,175 91.3,175.4 91.4,175.8 91.5,176.1 91.6,176.5 91.6,176.9 91.7,177.3 91.7,177.6 91.8,178 91.8,178.4 91.9,178.7 91.9,179.1 91.9,179.5 92,179.9 92,180.2 92,180.6 92,181 92,181.4 92,181.8 92,182.1 92,182.5 91.9,182.9 91.9,183.3 91.9,183.7 91.8,184.1 91.8,184.4 91.7,184.8 91.7,185.2 91.6,185.6 91.5,186 91.5,186.4 91.4,186.7 91.3,187.1 91.2,187.5 91.1,187.9 91,188.3 90.9,188.7 90.8,189.1 90.7,189.4 90.5,189.8 90.4,190.2 90.3,190.6 90.1,191 90,191.4 89.8,191.8 89.7,192.1 89.5,192.5 89.3,192.9 89.2,193.3 89,193.7 88.8,194.1 88.6,194.5 88.4,194.8 88.2,195.2 88,195.6 87.8,196 87.6,196.4 87.4,196.7 87.1,197.1 86.9,197.5 86.7,197.9 86.4,198.3 86.2,198.6 85.9,199 85.7,199.4 85.4,199.8 85.2,200.2 84.9,200.5 84.6,200.9 84.3,201.3 84.1,201.6 83.8,202 83.5,202.4 83.2,202.8 82.9,203.1 82.6,203.5 82.3,203.9 82,204.2 81.7,204.6 81.3,204.9 81,205.3 80.7,205.7 80.4,206 80,206.4 79.7,206.7 79.3,207.1 79,207.4 78.6,207.8 78.3,208.1 77.9,208.5 77.6,208.8 77.2,209.2 76.8,209.5 76.5,209.9 76.1,210.2 75.7,210.6 75.3,210.9 75,211.2 74.6,211.6 74.2,211.9 73.8,212.2 73.4,212.6 73,212.9 72.6,213.2 72.2,213.5 71.8,213.9 71.4,214.2 71,214.5 70.6,214.8 70.2,215.1 69.7,215.4 69.3,215.7 68.9,216.1 68.5,216.4 68.1,216.7 67.6,217 67.2,217.3 66.8,217.6 66.4,217.9 65.9,218.2 65.5,218.4 65.1,218.7 64.6,219 64.2,219.3 63.7,219.6 63.3,219.9 62.9,220.1 62.4,220.4 62,220.7 61.5,221 61.1,221.2 60.7,221.5 60.2,221.8 59.8,222 59.3,222.3 58.9,222.5 58.4,222.8 58,223 57.5,223.3 57.1,223.5 56.7,223.8 56.2,224 55.8,224.3 55.3,224.5 54.9,224.7 54.4,225 54,225.2 53.5,225.4 53.1,225.6 52.7,225.8 52.2,226.1 51.8,226.3 51.3,226.5 50.9,226.7 50.5,226.9 50,227.1 49.6,227.3 49.2,227.5 48.7,227.7 48.3,227.9 47.9,228 47.4,228.2 47,228.4 46.6,228.6 46.2,228.8 45.7,228.9 45.3,229.1 44.9,229.3 44.5,229.4 44.1,229.6 43.7,229.7 43.3,229.9 42.9,230 42.5,230.2 42.1,230.3 41.7,230.5 41.3,230.6 40.9,230.7 40.5,230.9 40.1,231 39.7,231.1 39.3,231.3 38.9,231.4 38.6,231.5 38.2,231.6 37.8,231.7 37.5,231.8 37.1,231.9 36.7,232 36.4,232.1 36,232.2 35.7,232.3 35.3,232.4 35,232.4 34.7,232.5 34.3,232.6 34,232.7 33.7,232.7 33.3,232.8 33,232.9 32.7,232.9 32.4,233 32.1,233 31.8,233.1 31.5,233.1 31.2,233.2 30.9,233.2 30.6,233.2 30.3,233.3 30.1,233.3 29.8,233.3 29.5,233.3 29.3,233.4 29,233.4 28.8,233.4 28.5,233.4 28.3,233.4 28,233.4 27.8,233.4 27.6,233.4 27.4,233.4 27.1,233.4 26.9,233.4 26.7,233.3 26.5,233.3 26.3,233.3 26.1,233.3 25.9,233.2 25.7,233.2 25.6,233.1 25.4,233.1 25.2,233.1 25.1,233 24.9,233 24.8,232.9 24.6,232.8 24.5,232.8 24.3,232.7 24.2,232.6 24.1,232.6 24,232.5 23.9,232.4 23.8,232.3 23.7,232.2 23.6,232.1 23.5,232 23.4,232 23.3,231.9 23.2,231.7 23.2,231.6 23.1,231.5 23,231.4 23,231.3 23,231.2 22.9,231.1 22.9,230.9 22.9,230.8 22.8,230.7 22.8,230.5 22.8,230.4 22.8,230.3 22.8,230.1 22.8,230 22.8,229.8 22.8,229.7 22.9,229.5 22.9,229.3 22.9,229.2 23,229 23,228.8 23.1,228.7 23.1,228.5 23.2,228.3 23.3,228.1 23.3,227.9 23.4,227.8 23.5,227.6 23.6,227.4 23.7,227.2 23.8,227 23.9,226.8 24,226.6 24.1,226.4 24.3,226.1 24.4,225.9 24.5,225.7 24.7,225.5 24.8,225.3 25,225 25.1,224.8 25.3,224.6 25.5,224.4 25.7,224.1 25.8,223.9 26,223.6 26.2,223.4 26.4,223.1 26.6,222.9 26.8,222.6 27,222.4 27.2,222.1 27.5,221.9 27.7,221.6 27.9,221.4 28.1,221.1 28.4,220.8 28.6,220.5 28.9,220.3 29.1,220 29.4,219.7 29.7,219.4 29.9,219.1 30.2,218.9 30.5,218.6 30.8,218.3 31,218 31.3,217.7 31.6,217.4 31.9,217.1 32.2,216.8 32.5,216.5 32.9,216.2 33.2,215.9 33.5,215.6 33.8,215.3 34.1,214.9 34.5,214.6 34.8,214.3 35.2,214 35.5,213.7 35.8,213.3 36.2,213 36.5,212.7 36.9,212.4 37.3,212 37.6,211.7 38,211.4 38.4,211 38.7,210.7 39.1,210.4 39.5,210 39.9,209.7 40.3,209.3 40.7,209 41,208.6 41.4,208.3 41.8,207.9 42.2,207.6 42.6,207.2 43,206.9 43.4,206.5 43.9,206.2 44.3,205.8 44.7,205.5 45.1,205.1 45.5,204.7 45.9,204.4 46.4,204 46.8,203.6 47.2,203.3 47.6,202.9 48.1,202.5 48.5,202.2 48.9,201.8 49.4,201.4 49.8,201.1 50.2,200.7 50.7,200.3 51.1,199.9 51.5,199.6 52,199.2 52.4,198.8 52.9,198.4 53.3,198.1 53.7,197.7 54.2,197.3 54.6,196.9 55.1,196.5 55.5,196.1 56,195.8 56.4,195.4 56.9,195 57.3,194.6 57.7,194.2 58.2,193.9 58.6,193.5 59.1,193.1 59.5,192.7 60,192.3 60.4,191.9 60.9,191.5 61.3,191.2 61.7,190.8 62.2,190.4 62.6,190 63.1,189.6 63.5,189.2 63.9,188.8 64.4,188.5 64.8,188.1 65.3,187.7 65.7,187.3 66.1,186.9 66.6,186.5 67,186.1 67.4,185.8 67.8,185.4 68.3,185 68.7,184.6 69.1,184.2 69.5,183.8 69.9,183.5 70.3,183.1 70.8,182.7 71.2,182.3 71.6,181.9 72,181.5 72.4,181.2 72.8,180.8 73.2,180.4 73.6,180 74,179.7 74.4,179.3 74.8,178.9 75.1,178.5 75.5,178.2 75.9,177.8 76.3,177.4 76.6,177 77,176.7 77.4,176.3 77.7,175.9 78.1,175.6 78.5,175.2 78.8,174.8 79.2,174.5 79.5,174.1 79.8,173.8 80.2,173.4 80.5,173 80.8,172.7 81.2,172.3 81.5,172 81.8,171.6 82.1,171.3 82.4,170.9 82.7,170.6 83,170.2 83.3,169.9 83.6,169.5 83.9,169.2 84.2,168.8 84.5,168.5 84.8,168.2 85,167.8 85.3,167.5 85.6,167.2 85.8,166.8 86.1,166.5 86.3,166.2 86.5,165.8 86.8,165.5 87,165.2 87.2,164.9 87.5,164.6 87.7,164.2 87.9,163.9 88.1,163.6 88.3,163.3 88.5,163 88.7,162.7 88.9,162.4 89.1,162.1 89.2,161.8 89.4,161.5 89.6,161.2 89.7,160.9 89.9,160.6 90.1,160.3 90.2,160 90.3,159.7 90.5,159.4 90.6,159.2 90.7,158.9 90.8,158.6 91,158.3 91.1,158.1 91.2,157.8 91.3,157.5 91.3,157.3 91.4,157 91.5,156.8 91.6,156.5 91.6,156.2 91.7,156 91.8,155.7 91.8,155.5 91.9,155.3 91.9,155 91.9,154.8 92,154.5 92,154.3 92,154.1 92,153.9 92,153.6 92,153.4 92,153.2 92,153 92,152.8 91.9,152.6 91.9,152.3 91.9,152.1 91.8,151.9 91.8,151.7 91.7,151.5 91.7,151.4 91.6,151.2 91.5,151 91.5,150.8 91.4,150.6 91.3,150.4 91.2,150.3 91.1,150.1 91,149.9 90.9,149.8 90.8,149.6 90.6,149.4 90.5,149.3 90.4,149.1 90.2,149 90.1,148.8 90,148.7 89.8,148.5 89.6,148.4 89.5,148.3 89.3,148.1 89.1,148 89,147.9 88.8,147.8 88.6,147.6 88.4,147.5 88.2,147.4 88,147.3 87.8,147.2 87.5,147.1 87.3,147 87.1,146.9 86.9,146.8 86.6,146.7 86.4,146.6 86.1,146.6 85.9,146.5 85.6,146.4 85.4,146.3 85.1,146.3 84.8,146.2 84.6,146.1 84.3,146.1 84,146 83.7,146 83.4,145.9 83.1,145.9 82.8,145.8 82.5,145.8 82.2,145.8 81.9,145.7 81.6,145.7 81.3,145.7 81,145.7 80.6,145.6 80.3,145.6 80,145.6 79.6,145.6 79.3,145.6 78.9,145.6 78.6,145.6 78.2,145.6 77.9,145.6 77.5,145.6 77.1,145.6 76.8,145.7 76.4,145.7 76,145.7 75.6,145.7 75.3,145.8 74.9,145.8 74.5,145.9 74.1,145.9 73.7,145.9 73.3,146 72.9,146 72.5,146.1 72.1,146.2 71.7,146.2 71.3,146.3 70.9,146.4 70.5,146.4 70.1,146.5 69.7,146.6 69.2,146.7 68.8,146.8 68.4,146.8 68,146.9 67.6,147 67.1,147.1 66.7,147.2 66.3,147.3 65.8,147.5 65.4,147.6 65,147.7 64.5,147.8 64.1,147.9 63.7,148 63.2,148.2 62.8,148.3 62.3,148.4 61.9,148.6 61.5,148.7 61,148.9 60.6,149 60.1,149.2 59.7,149.3 59.2,149.5 58.8,149.6 58.3,149.8 57.9,150 57.5,150.1 57,150.3 56.6,150.5 56.1,150.7 55.7,150.8 55.2,151 54.8,151.2 54.3,151.4 53.9,151.6 53.5,151.8 53,152 52.6,152.2 52.1,152.4 51.7,152.6 51.2,152.8 50.8,153 50.4,153.3 49.9,153.5 49.5,153.7 49.1,153.9 48.6,154.1 48.2,154.4 47.8,154.6 47.4,154.8 46.9,155.1 46.5,155.3 46.1,155.6 45.7,155.8 45.2,156.1 44.8,156.3 44.4,156.6 44,156.8 43.6,157.1 43.2,157.3 42.8,157.6 42.4,157.9 42,158.1 41.6,158.4 41.2,158.7 40.8,159 40.4,159.2 40,159.5 39.6,159.8 39.2,160.1 38.9,160.4 38.5,160.7 38.1,161 37.8,161.3 37.4,161.6 37,161.9 36.7,162.2 36.3,162.5 36,162.8 35.6,163.1 35.3,163.4 34.9,163.7 34.6,164 34.3,164.3 33.9,164.6 33.6,165 33.3,165.3 33,165.6 32.7,165.9 32.3,166.3 32,166.6 31.7,166.9 31.4,167.2 31.1,167.6 30.9,167.9 30.6,168.3 30.3,168.6 30,168.9 29.8,169.3 29.5,169.6 29.2,170 29,170.3 28.7,170.7 28.5,171 28.2,171.4 28,171.7 27.8,172.1 27.5,172.4 27.3,172.8 27.1,173.1 26.9,173.5 26.7,173.9 26.5,174.2 26.3,174.6 26.1,174.9 25.9,175.3 25.7,175.7 25.5,176 25.4,176.4 25.2,176.8 25,177.1 24.9,177.5 24.7,177.9 24.6,178.3 24.5,178.6 24.3,179 24.2,179.4 24.1,179.8 24,180.1 23.8,180.5 23.7,180.9 23.6,181.3 23.5,181.7 23.5,182 23.4,182.4 23.3,182.8 23.2,183.2 23.2,183.6 23.1,183.9 23,184.3 23,184.7 22.9,185.1 22.9,185.5 22.9,185.9 22.8,186.2 22.8,186.6 22.8,187 22.8,187.4 22.8,187.8 22.8,188.2 22.8,188.6 22.8,188.9 22.8,189.3 22.9,189.7 22.9,190.1 22.9,190.5 23,190.9 23,191.3 23.1,191.7 23.1,192 23.2,192.4 23.3,192.8 23.4,193.2 23.4,193.6 23.5,194 23.6,194.3 23.7,194.7 23.8,195.1 23.9,195.5 24,195.9 24.2,196.3 24.3,196.6 24.4,197 24.6,197.4 24.7,197.8 24.9,198.2 25,198.5 25.2,198.9 25.3,199.3 25.5,199.7 25.7,200 25.9,200.4 26.1,200.8 26.2,201.2 26.4,201.5 26.6,201.9 26.8,202.3 27.1,202.6 27.3,203 27.5,203.4 27.7,203.7 28,204.1 28.2,204.5 28.4,204.8 28.7,205.2 28.9,205.6 29.2,205.9 29.4,206.3 29.7,206.6 30,207 30.3,207.3 30.5,207.7 30.8,208 31.1,208.4 31.4,208.7 31.7,209.1 32,209.4 32.3,209.8 32.6,210.1 32.9,210.5 33.2,210.8 33.6,211.1 33.9,211.5 34.2,211.8 34.5,212.1 34.9,212.5 35.2,212.8 35.6,213.1 35.9,213.4 36.3,213.8 36.6,214.1 37,214.4 37.3,214.7 37.7,215 38.1,215.3 38.4,215.7 38.8,216 39.2,216.3 39.6,216.6 40,216.9 40.3,217.2 40.7,217.5 41.1,217.8 41.5,218.1 41.9,218.4 42.3,218.7 42.7,218.9 43.1,219.2 43.5,219.5 43.9,219.8 44.4,220.1 44.8,220.3 45.2,220.6 45.6,220.9 46,221.2 46.4,221.4 46.9,221.7 47.3,222 47.7,222.2 48.1,222.5 48.6,222.7 49,223 49.4,223.2 49.9,223.5 50.3,223.7 50.7,223.9 51.2,224.2 51.6,224.4 52.1,224.7 52.5,224.9 52.9,225.1 53.4,225.3 53.8,225.6 54.3,225.8 54.7,226 55.2,226.2 55.6,226.4 56.1,226.6 56.5,226.8 56.9,227 57.4,227.2 57.8,227.4 58.3,227.6 58.7,227.8 59.2,228 59.6,228.2 60.1,228.4 60.5,228.5 60.9,228.7 61.4,228.9 61.8,229.1 62.3,229.2 62.7,229.4 63.2,229.5 63.6,229.7 64,229.9 64.5,230 64.9,230.2 65.3,230.3 65.8,230.4 66.2,230.6 66.6,230.7 67.1,230.8 67.5,231 67.9,231.1 68.3,231.2 68.8,231.3 69.2,231.5 69.6,231.6 70,231.7 70.4,231.8 70.8,231.9 71.3,232 71.7,232.1 72.1,232.2 72.5,232.3 72.9,232.3 73.3,232.4 73.7,232.5 74,232.6 74.4,232.7 74.8,232.7 75.2,232.8 75.6,232.9 76,232.9 76.3,233 76.7,233 77.1,233.1 77.4,233.1 77.8,233.2 78.2,233.2 78.5,233.2 78.9,233.3 79.2,233.3 79.6,233.3 79.9,233.3 80.2,233.4 80.6,233.4 80.9,233.4 81.2,233.4 81.5,233.4 81.9,233.4 82.2,233.4 82.5,233.4 82.8,233.4 83.1,233.4 83.4,233.4 83.7,233.3 84,233.3 84.3,233.3 84.5,233.3 84.8,233.2 85.1,233.2 85.3,233.2 85.6,233.1 85.9,233.1 86.1,233 86.4,233 86.6,232.9 86.8,232.9 87.1,232.8 87.3,232.7 87.5,232.7 87.7,232.6 87.9,232.5 88.1,232.4 88.4,232.3 88.5,232.3 88.7,232.2 88.9,232.1 89.1,232 89.3,231.9 89.5,231.8 89.6,231.7 89.8,231.6 89.9,231.5 90.1,231.3 90.2,231.2 90.4,231.1 90.5,231 90.6,230.8 90.7,230.7 90.9,230.6 91,230.4 91.1,230.3 91.2,230.2 91.3,230 91.4,229.9 91.4,229.7 91.5,229.5 91.6,229.4 91.7,229.2 91.7,229.1 91.8,228.9 91.8,228.7 91.9,228.5 91.9,228.4 91.9,228.2 92,228 92,227.8 92,227.6 92,227.4 92,227.2 92,227 92,226.8 92,226.6 92,226.4 91.9,226.2 91.9,226 91.9,225.8 91.8,225.6 91.8,225.3 91.7,225.1 91.7,224.9 91.6,224.7 91.5,224.4 91.4,224.2 91.4,223.9 91.3,223.7 91.2,223.5 91.1,223.2 91,223 90.9,222.7 90.7,222.5 90.6,222.2 90.5,222 90.4,221.7 90.2,221.4 90.1,221.2 89.9,220.9 89.8,220.6 89.6,220.3 89.4,220.1 89.3,219.8 89.1,219.5 88.9,219.2 88.7,218.9 88.5,218.7 88.3,218.4 88.1,218.1 87.9,217.8 87.7,217.5 87.5,217.2 87.3,216.9 87.1,216.6 86.8,216.3 86.6,216 86.3,215.7 86.1,215.3 85.8,215 85.6,214.7 85.3,214.4 85.1,214.1 84.8,213.8 84.5,213.4 84.2,213.1 84,212.8 83.7,212.5 83.4,212.1 83.1,211.8 82.8,211.5 82.5,211.1 82.2,210.8 81.9,210.5 81.5,210.1 81.2,209.8 80.9,209.4 80.6,209.1 80.2,208.7 79.9,208.4 79.5,208 79.2,207.7 78.9,207.3 78.5,207 78.1,206.6 77.8,206.3 77.4,205.9 77.1,205.6 76.7,205.2 76.3,204.8 75.9,204.5 75.6,204.1 75.2,203.7 74.8,203.4 74.4,203 74,202.6 73.6,202.3 73.2,201.9 72.8,201.5 72.4,201.2 72,200.8 71.6,200.4 71.2,200 70.8,199.7 70.4,199.3 70,198.9 69.6,198.5 69.2,198.2 68.7,197.8 68.3,197.4 67.9,197 67.5,196.6 67,196.3 66.6,195.9 66.2,195.5 65.8,195.1 65.3,194.7 64.9,194.3 64.4,194 64,193.6 63.6,193.2 63.1,192.8 62.7,192.4 62.3,192 61.8,191.7 61.4,191.3 60.9,190.9 60.5,190.5 60,190.1 59.6,189.7 59.1,189.3 58.7,188.9 58.3,188.6 57.8,188.2 57.4,187.8 56.9,187.4 56.5,187 56,186.6 55.6,186.2 55.1,185.9 54.7,185.5 54.3,185.1 53.8,184.7 53.4,184.3 52.9,183.9 52.5,183.6 52,183.2 51.6,182.8 51.2,182.4 50.7,182 50.3,181.7 49.9,181.3 49.4,180.9 49,180.5 48.6,180.1 48.1,179.8 47.7,179.4 47.3,179 46.8,178.6 46.4,178.3 46,177.9 45.6,177.5 45.2,177.1 44.7,176.8 44.3,176.4 43.9,176 43.5,175.7 43.1,175.3 42.7,174.9 42.3,174.6 41.9,174.2 41.5,173.9 41.1,173.5 40.7,173.1 40.3,172.8 39.9,172.4 39.6,172.1 39.2,171.7 38.8,171.4 38.4,171 38.1,170.7 37.7,170.3 37.3,170 37,169.6 36.6,169.3 36.2,168.9 35.9,168.6 35.5,168.3 35.2,167.9 34.9,167.6 34.5,167.2 34.2,166.9 33.9,166.6 33.5,166.3 33.2,165.9 32.9,165.6 32.6,165.3 32.3,165 32,164.6 31.7,164.3 31.4,164 31.1,163.7 30.8,163.4 30.5,163.1 30.2,162.8 30,162.5 29.7,162.2 29.4,161.9 29.2,161.6 28.9,161.3 28.7,161 28.4,160.7 28.2,160.4 27.9,160.1 27.7,159.8 27.5,159.5 27.3,159.2 27,159 26.8,158.7 26.6,158.4 26.4,158.1 26.2,157.9 26,157.6 25.9,157.3 25.7,157.1 25.5,156.8 25.3,156.6 25.2,156.3 25,156.1 24.9,155.8 24.7,155.6 24.6,155.3 24.4,155.1 24.3,154.8 24.2,154.6 24,154.4 23.9,154.1 23.8,153.9 23.7,153.7 23.6,153.5 23.5,153.3 23.4,153 23.4,152.8 23.3,152.6 23.2,152.4 23.1,152.2 23.1,152 23,151.8 23,151.6 22.9,151.4 22.9,151.2 22.9,151 22.8,150.8 22.8,150.7 22.8,150.5 22.8,150.3 22.8,150.1 22.8,150 22.8,149.8 22.8,149.6 22.8,149.5 22.9,149.3 22.9,149.2 22.9,149 23,148.9 23,148.7 23.1,148.6 23.2,148.4 23.2,148.3 23.3,148.2 23.4,148 23.5,147.9 23.5,147.8 23.6,147.7 23.7,147.6 23.8,147.5 24,147.3 24.1,147.2 24.2,147.1 24.3,147 24.5,146.9 24.6,146.8 24.7,146.8 24.9,146.7 25,146.6 25.2,146.5 25.4,146.4 25.5,146.4 25.7,146.3 25.9,146.2 26.1,146.2 26.3,146.1 26.5,146 26.7,146 26.9,145.9 27.1,145.9 27.3,145.9 27.5,145.8 27.8,145.8 28,145.7 28.2,145.7 28.5,145.7 28.7,145.7 29,145.6 29.2,145.6 29.5,145.6 29.8,145.6 30,145.6 30.3,145.6 30.6,145.6 30.9,145.6 31.2,145.6 31.5,145.6 31.8,145.6 32.1,145.7 32.4,145.7 32.7,145.7 33,145.7 33.3,145.8 33.6,145.8 33.9,145.8 34.3,145.9 34.6,145.9 34.9,146 35.3,146 35.6,146.1 36,146.1 36.3,146.2 36.7,146.3 37,146.3 37.4,146.4 37.8,146.5 38.1,146.6 38.5,146.6 38.9,146.7 39.3,146.8 39.6,146.9 40,147 40.4,147.1 40.8,147.2 41.2,147.3 41.6,147.4 42,147.5 42.4,147.6 42.8,147.8 43.2,147.9 43.6,148 44,148.1 44.4,148.3 44.8,148.4 45.3,148.5 45.7,148.7 46.1,148.8 46.5,149 46.9,149.1 47.4,149.3 47.8,149.4 48.2,149.6 48.7,149.8 49.1,149.9 49.5,150.1 50,150.3 50.4,150.4 50.8,150.6 51.3,150.8 51.7,151 52.1,151.2 52.6,151.4 53,151.5 53.5,151.7 53.9,151.9 54.4,152.1 54.8,152.3 55.2,152.6 55.7,152.8 56.1,153 56.6,153.2 57,153.4 57.5,153.6 57.9,153.9 58.4,154.1 58.8,154.3 59.3,154.5 59.7,154.8 60.1,155 60.6,155.3 61,155.5 61.5,155.7 61.9,156 62.4,156.2 62.8,156.5 63.2,156.8 63.7,157 64.1,157.3 64.6,157.5 65,157.8 65.4,158.1 65.9,158.3 66.3,158.6 66.7,158.9 67.1,159.2 67.6,159.4 68,159.7 68.4,160 68.8,160.3 69.3,160.6 69.7,160.9 70.1,161.2 70.5,161.5 70.9,161.8 71.3,162.1 71.7,162.4 72.1,162.7 72.5,163 72.9,163.3 73.3,163.6 73.7,163.9 74.1,164.2 74.5,164.6 74.9,164.9 75.3,165.2 75.7,165.5 76,165.8 76.4,166.2 76.8,166.5 77.2,166.8 77.5,167.2 77.9,167.5 78.2,167.8 78.6,168.2 78.9,168.5 79.3,168.8 79.6,169.2 80,169.5 80.3,169.9 80.6,170.2 81,170.6 81.3,170.9 81.6,171.3 81.9,171.6 82.2,172 82.5,172.3 82.9,172.7 83.2,173 83.4,173.4 83.7,173.8 84,174.1 84.3,174.5 84.6,174.8 84.9,175.2 85.1,175.6 85.4,175.9 85.7,176.3 85.9,176.7 86.2,177 86.4,177.4 86.6,177.8 86.9,178.2 87.1,178.5 87.3,178.9 87.6,179.3 87.8,179.7 88,180 88.2,180.4 88.4,180.8 88.6,181.2 88.8,181.5 89,181.9 89.1,182.3 89.3,182.7 89.5,183.1 89.6,183.5 89.8,183.8 90,184.2 90.1,184.6 90.3,185 90.4,185.4 90.5,185.8 90.6,186.1 90.8,186.5 90.9,186.9 91,187.3 91.1,187.7 91.2,188.1 91.3,188.5 91.4,188.8 91.5,189.2 91.5,189.6 91.6,190 91.7,190.4 91.7,190.8 91.8,191.2 91.8,191.5 91.9,191.9 91.9,192.3 91.9,192.7 92,193.1 92,193.5 92,193.9 92,194.2 92,194.6 92,195 92,195.4 92,195.8 91.9,196.1 91.9,196.5 91.9,196.9 91.9,197.3 91.8,197.7 91.8,198.1 91.7,198.4 91.6,198.8 91.6,199.2 91.5,199.6 91.4,199.9 91.3,200.3 91.2,200.7 91.2,201.1 91.1,201.4 90.9,201.8 90.8,202.2 90.7,202.5 90.6,202.9 90.5,203.3 90.3,203.6 90.2,204 90,204.4 89.9,204.7 89.7,205.1 89.6,205.5 89.4,205.8 89.2,206.2 89.1,206.5 88.9,206.9 88.7,207.2 88.5,207.6 88.3,207.9 88.1,208.3 87.9,208.6 87.7,209 87.5,209.3 87.2,209.7 87,210 86.8,210.4 86.5,210.7 86.3,211 86,211.4 85.8,211.7 85.5,212 85.3,212.4 85,212.7 84.7,213 84.5,213.3 84.2,213.7 83.9,214 83.6,214.3 83.3,214.6 83,214.9 82.7,215.3 82.4,215.6 82.1,215.9 81.8,216.2 81.5,216.5 81.1,216.8 80.8,217.1 80.5,217.4 80.2,217.7 79.8,218 79.5,218.3 79.1,218.6 78.8,218.9 78.4,219.1 78.1,219.4 77.7,219.7 77.4,220 77,220.3 76.6,220.5 76.3,220.8 75.9,221.1 75.5,221.4 75.1,221.6 74.7,221.9 74.3,222.1 74,222.4 73.6,222.6 73.2,222.9 72.8,223.1 72.4,223.4 72,223.6 71.6,223.9 71.2,224.1 70.7,224.4 70.3,224.6 69.9,224.8 69.5,225 69.1,225.3 68.7,225.5 68.2,225.7 67.8,225.9 67.4,226.1 67,226.4 66.5,226.6 66.1,226.8 65.7,227 65.2,227.2 64.8,227.4 64.4,227.6 63.9,227.8 63.5,227.9 63,228.1 62.6,228.3 62.2,228.5 61.7,228.7 61.3,228.8 60.8,229 60.4,229.2 60,229.3 59.5,229.5 59.1,229.7 58.6,229.8 58.2,230 57.7,230.1 57.3,230.3 56.8,230.4 56.4,230.5 55.9,230.7 55.5,230.8 55.1,230.9 54.6,231.1 54.2,231.2 53.7,231.3 53.3,231.4 52.8,231.5 52.4,231.6 52,231.7 51.5,231.9 51.1,232 50.6,232 50.2,232.1 49.8,232.2 49.3,232.3 48.9,232.4 48.5,232.5 48,232.6 47.6,232.6 47.2,232.7 46.8,232.8 46.3,232.8 45.9,232.9 45.5,233 45.1,233 44.7,233.1 44.2,233.1 43.8,233.1 43.4,233.2 43,233.2 42.6,233.3 42.2,233.3 41.8,233.3 41.4,233.3 41,233.4 40.6,233.4 40.2,233.4 39.9,233.4 39.5,233.4 39.1,233.4 38.7,233.4 38.3,233.4 38,233.4 37.6,233.4 37.2,233.4 36.9,233.3 36.5,233.3 36.2,233.3 35.8,233.3 35.5,233.2 35.1,233.2 34.8,233.2 34.5,233.1 34.1,233.1 33.8,233 33.5,233 33.2,232.9 32.8,232.9 32.5,232.8 32.2,232.7 31.9,232.7 31.6,232.6 31.3,232.5 31,232.4 30.7,232.4 30.5,232.3 30.2,232.2 29.9,232.1 29.6,232 29.4,231.9 29.1,231.8 28.9,231.7 28.6,231.6 28.4,231.5 28.1,231.4 27.9,231.3 27.7,231.1 27.4,231 27.2,230.9 27,230.7 26.8,230.6 26.6,230.5 26.4,230.3 26.2,230.2 26,230 25.8,229.9 25.6,229.7 25.5,229.6 25.3,229.4 25.1,229.3 25,229.1 24.8,228.9 24.7,228.8 24.5,228.6 24.4,228.4 24.3,228.2 24.1,228 24,227.9 23.9,227.7 23.8,227.5 23.7,227.3 23.6,227.1 23.5,226.9 23.4,226.7 23.3,226.5 23.3,226.3 23.2,226.1 23.1,225.8 23.1,225.6 23,225.4 23,225.2 22.9,225 22.9,224.7 22.9,224.5 22.8,224.3 22.8,224 22.8,223.8 22.8,223.5 22.8,223.3 22.8,223 22.8,222.8 22.8,222.5 22.9,222.3 22.9,222 22.9,221.8 23,221.5 23,221.2 23,221 23.1,220.7 23.2,220.4 23.2,220.1 23.3,219.9 23.4,219.6 23.5,219.3 23.6,219 23.7,218.7 23.8,218.4 23.9,218.2 24,217.9 24.1,217.6 24.2,217.3 24.3,217 24.5,216.7 24.6,216.4 24.8,216.1 24.9,215.7 25.1,215.4 25.2,215.1 25.4,214.8 25.6,214.5 25.8,214.2 25.9,213.9 26.1,213.5 26.3,213.2 26.5,212.9 26.7,212.6 26.9,212.2 27.1,211.9 27.4,211.6 27.6,211.2 27.8,210.9 28,210.6 28.3,210.2 28.5,209.9 28.8,209.5 29,209.2 29.3,208.8 29.5,208.5 29.8,208.1 30.1,207.8 30.4,207.4 30.6,207.1 30.9,206.7 31.2,206.4 31.5,206 31.8,205.7 32.1,205.3 32.4,204.9 32.7,204.6 33,204.2 33.4,203.9 33.7,203.5 34,203.1 34.3,202.8 34.7,202.4 35,202 35.4,201.6 35.7,201.3 36,200.9 36.4,200.5 36.8,200.2 37.1,199.8 37.5,199.4 37.8,199 38.2,198.6 38.6,198.3 39,197.9 39.3,197.5 39.7,197.1 40.1,196.7 40.5,196.4 40.9,196 41.3,195.6 41.7,195.2 42.1,194.8 42.5,194.5 42.9,194.1 43.3,193.7 43.7,193.3 44.1,192.9 44.5,192.5 44.9,192.1 45.3,191.8 45.8,191.4 46.2,191 46.6,190.6 47,190.2 47.5,189.8 47.9,189.4 48.3,189.1 48.7,188.7 49.2,188.3 49.6,187.9 50,187.5 50.5,187.1 50.9,186.7 51.4,186.4 51.8,186 52.2,185.6 52.7,185.2 53.1,184.8 53.6,184.4 54,184.1 54.4,183.7 54.9,183.3 55.3,182.9 55.8,182.5 56.2,182.1 56.7,181.8 57.1,181.4 57.6,181 58,180.6 58.5,180.2 58.9,179.9 59.3,179.5 59.8,179.1 60.2,178.7 60.7,178.4 61.1,178 61.6,177.6 62,177.3 62.4,176.9 62.9,176.5 63.3,176.1 63.8,175.8 64.2,175.4 64.6,175 65.1,174.7 65.5,174.3 65.9,174 66.4,173.6 66.8,173.2 67.2,172.9 67.7,172.5 68.1,172.2 68.5,171.8 68.9,171.5 69.3,171.1 69.8,170.8 70.2,170.4 70.6,170.1 71,169.7 71.4,169.4 71.8,169 72.2,168.7 72.6,168.4 73,168 73.4,167.7 73.8,167.3 74.2,167 74.6,166.7 75,166.4 75.4,166 75.7,165.7 76.1,165.4 76.5,165.1 76.9,164.7 77.2,164.4 77.6,164.1 77.9,163.8 78.3,163.5 78.7,163.2 79,162.9 79.4,162.5 79.7,162.2 80,161.9 80.4,161.6 80.7,161.3 81,161.1 81.4,160.8 81.7,160.5 82,160.2 82.3,159.9 82.6,159.6 82.9,159.3 83.2,159 83.5,158.8 83.8,158.5 84.1,158.2 84.4,158 84.6,157.7 84.9,157.4 85.2,157.2 85.4,156.9 85.7,156.6 86,156.4 86.2,156.1 86.4,155.9 86.7,155.6 86.9,155.4 87.2,155.2 87.4,154.9 87.6,154.7 87.8,154.4 88,154.2 88.2,154 88.4,153.8 88.6,153.5 88.8,153.3 89,153.1 89.2,152.9 89.3,152.7 89.5,152.5 89.7,152.3 89.8,152.1 90,151.9 90.1,151.7 90.3,151.5 90.4,151.3 90.5,151.1 90.7,150.9 90.8,150.7 90.9,150.5 91,150.4 91.1,150.2 91.2,150 91.3,149.8 91.4,149.7 91.5,149.5 91.5,149.4 91.6,149.2 91.7,149.1 91.7,148.9 91.8,148.8 91.8,148.6 91.9,148.5 91.9,148.3 91.9,148.2 92,148.1 92,148 92,147.8 92,147.7 92,147.6 92,147.5 92,147.4 92,147.3 91.9,147.2 91.9,147.1 91.9,147 91.8,146.9 91.8,146.8 91.7,146.7 91.7,146.6 91.6,146.5 91.6,146.5 91.5,146.4 91.4,146.3 91.3,146.2 91.2,146.2 91.1,146.1 91,146.1 90.9,146 90.8,146 90.7,145.9 90.6,145.9 90.4,145.8 90.3,145.8 90.2,145.8 90,145.7 89.9,145.7 89.7,145.7 89.5,145.7 89.4,145.6 89.2,145.6 89,145.6 88.8,145.6 88.7,145.6 88.5,145.6 88.3,145.6 88.1,145.6 87.9,145.6 87.6,145.6 87.4,145.7 87.2,145.7 87,145.7 86.7,145.7 86.5,145.8 86.2,145.8 86,145.8 85.7,145.9 85.5,145.9 85.2,146 85,146 84.7,146.1 84.4,146.1 84.1,146.2 83.8,146.2 83.6,146.3 83.3,146.4 83,146.5 82.7,146.5 82.4,146.6 82,146.7 81.7,146.8 81.4,146.9 81.1,147 80.8,147.1 80.4,147.2 80.1,147.3 79.8,147.4 79.4,147.5 79.1,147.6 78.7,147.7 78.4,147.9 78,148 77.6,148.1 77.3,148.2 76.9,148.4 76.6,148.5 76.2,148.6 75.8,148.8 75.4,148.9 75,149.1 74.7,149.2 74.3,149.4 73.9,149.5 73.5,149.7 73.1,149.9 72.7,150 72.3,150.2 71.9,150.4 71.5,150.6 71.1,150.7 70.7,150.9 70.2,151.1 69.8,151.3 69.4,151.5 69,151.7 68.6,151.9 68.2,152.1 67.7,152.3 67.3,152.5 66.9,152.7 66.4,152.9 66,153.1 65.6,153.3 65.1,153.6 64.7,153.8 64.3,154 63.8,154.2 63.4,154.5 63,154.7 62.5,154.9 62.1,155.2 61.6,155.4 61.2,155.7 60.8,155.9 60.3,156.2 59.9,156.4 59.4,156.7 59,156.9 58.5,157.2 58.1,157.5 57.6,157.7 57.2,158 56.7,158.3 56.3,158.5 55.9,158.8 55.4,159.1 55,159.4 54.5,159.7 54.1,159.9 53.6,160.2 53.2,160.5 52.8,160.8 52.3,161.1 51.9,161.4 51.4,161.7 51,162 50.6,162.3 50.1,162.6 49.7,162.9 49.2,163.2 48.8,163.5 48.4,163.8 48,164.1 47.5,164.5 47.1,164.8 46.7,165.1 46.3,165.4 45.8,165.7 45.4,166.1 45,166.4 44.6,166.7 44.2,167.1 43.8,167.4 43.4,167.7 42.9,168.1 42.5,168.4 42.1,168.7 41.7,169.1 41.3,169.4 41,169.8 40.6,170.1 40.2,170.5 39.8,170.8 39.4,171.2 39,171.5 38.6,171.9 38.3,172.2 37.9,172.6 37.5,172.9 37.2,173.3 36.8,173.6 36.5,174 36.1,174.4 35.8,174.7 35.4,175.1 35.1,175.5 34.7,175.8 34.4,176.2 34.1,176.6 33.7,176.9 33.4,177.3 33.1,177.7 32.8,178 32.5,178.4 32.2,178.8 31.9,179.2 31.6,179.5 31.3,179.9 31,180.3 30.7,180.7 30.4,181.1 30.1,181.4 29.9,181.8 29.6,182.2 29.3,182.6 29.1,183 28.8,183.3 28.6,183.7 28.3,184.1 28.1,184.5 27.9,184.9 27.6,185.3 27.4,185.6 27.2,186 27,186.4 26.8,186.8 26.6,187.2 26.4,187.6 26.2,188 26,188.3 25.8,188.7 25.6,189.1 25.4,189.5 25.3,189.9 25.1,190.3 24.9,190.7 24.8,191 24.6,191.4 24.5,191.8 24.4,192.2 24.2,192.6 24.1,193 24,193.4 23.9,193.7 23.8,194.1 23.7,194.5 23.6,194.9 23.5,195.3 23.4,195.7 23.3,196 23.2,196.4 23.2,196.8 23.1,197.2 23.1,197.6 23,197.9 23,198.3 22.9,198.7 22.9,199.1 22.9,199.5 22.8,199.8 22.8,200.2 22.8,200.6 22.8,201 22.8,201.3 22.8,201.7 22.8,202.1 22.8,202.4 22.9,202.8 22.9,203.2 22.9,203.5 23,203.9 23,204.3 23.1,204.6 23.1,205 23.2,205.4 23.2,205.7 23.3,206.1 23.4,206.4 23.5,206.8 23.6,207.1 23.7,207.5 23.8,207.8 23.9,208.2 24,208.5 24.1,208.9 24.2,209.2 24.4,209.6 24.5,209.9 24.7,210.3 24.8,210.6 24.9,210.9 25.1,211.3 25.3,211.6 25.4,211.9 25.6,212.3 25.8,212.6 26,212.9 26.2,213.3 26.4,213.6 26.6,213.9 26.8,214.2 27,214.5 27.2,214.9 27.4,215.2 27.6,215.5 27.9,215.8 28.1,216.1 28.3,216.4 28.6,216.7 28.8,217 29.1,217.3 29.3,217.6 29.6,217.9 29.9,218.2 30.1,218.5 30.4,218.8 30.7,219.1 31,219.3 31.3,219.6 31.6,219.9 31.9,220.2 32.2,220.5 32.5,220.7 32.8,221 33.1,221.3 33.4,221.5 33.7,221.8 34.1,222.1 34.4,222.3 34.7,222.6 35.1,222.8 35.4,223.1 35.8,223.3 36.1,223.6 36.5,223.8 36.8,224.1 37.2,224.3 37.5,224.5 37.9,224.8 38.3,225 38.7,225.2 39,225.4 39.4,225.7 39.8,225.9 40.2,226.1 40.6,226.3 41,226.5 41.4,226.7 41.8,226.9 42.1,227.1 42.6,227.3 43,227.5 43.4,227.7 43.8,227.9 44.2,228.1 44.6,228.3 45,228.4 45.4,228.6 45.8,228.8 46.3,229 46.7,229.1 47.1,229.3 47.5,229.5 48,229.6 48.4,229.8 48.8,229.9 49.3,230.1 49.7,230.2 50.1,230.4 50.6,230.5 51,230.6 51.4,230.8 51.9,230.9 52.3,231 52.8,231.1 53.2,231.3 53.6,231.4 54.1,231.5 54.5,231.6 55,231.7 55.4,231.8 55.9,231.9 56.3,232 56.8,232.1 57.2,232.2 57.7,232.3 58.1,232.4 58.5,232.5 59,232.5 59.4,232.6 59.9,232.7 60.3,232.8 60.8,232.8 61.2,232.9 61.7,232.9 62.1,233 62.5,233 63,233.1 63.4,233.1 63.9,233.2 64.3,233.2 64.7,233.2 65.2,233.3 65.6,233.3 66,233.3 66.5,233.3 66.9,233.4 67.3,233.4 67.7,233.4 68.2,233.4 68.6,233.4 69,233.4 69.4,233.4 69.8,233.4 70.3,233.4 70.7,233.4 71.1,233.3 71.5,233.3 71.9,233.3 72.3,233.3 72.7,233.2 73.1,233.2 73.5,233.2 73.9,233.1 74.3,233.1 74.7,233 75.1,233 75.4,232.9 75.8,232.9 76.2,232.8 76.6,232.8 76.9,232.7 77.3,232.6 77.7,232.5 78,232.5 78.4,232.4 78.7,232.3 79.1,232.2 79.4,232.1 79.8,232 80.1,231.9 80.4,231.8 80.8,231.7 81.1,231.6 81.4,231.5 81.7,231.4 82,231.3 82.4,231.2 82.7,231 83,230.9 83.3,230.8 83.6,230.7 83.9,230.5 84.1,230.4 84.4,230.2 84.7,230.1 85,229.9 85.2,229.8 85.5,229.6 85.8,229.5 86,229.3 86.3,229.2 86.5,229 86.7,228.8 87,228.6 87.2,228.5 87.4,228.3 87.6,228.1 87.9,227.9 88.1,227.7 88.3,227.5 88.5,227.3 88.7,227.1 88.8,226.9 89,226.7 89.2,226.5 89.4,226.3 89.6,226.1 89.7,225.9 89.9,225.7 90,225.5 90.2,225.2 90.3,225 90.4,224.8 90.6,224.6 90.7,224.3 90.8,224.1 90.9,223.8 91,223.6 91.1,223.4 91.2,223.1 91.3,222.9 91.4,222.6 91.5,222.4 91.6,222.1 91.6,221.8 91.7,221.6 91.7,221.3 91.8,221 91.8,220.8 91.9,220.5 91.9,220.2 91.9,220 92,219.7 92,219.4 92,219.1 92,218.8 92,218.5 92,218.2 92,217.9 92,217.7 91.9,217.4 91.9,217.1 91.9,216.8 91.8,216.5 91.8,216.1 91.7,215.8 91.7,215.5 91.6,215.2 91.5,214.9 91.5,214.6 91.4,214.3 91.3,213.9 91.2,213.6 91.1,213.3 91,213 90.9,212.6 90.8,212.3 90.7,212 90.5,211.7 90.4,211.3 90.3,211 90.1,210.6 90,210.3 89.8,210 89.7,209.6 89.5,209.3 89.3,208.9 89.2,208.6 89,208.2 88.8,207.9 88.6,207.5 88.4,207.2 88.2,206.8 88,206.5 87.8,206.1 87.6,205.8 87.4,205.4 87.1,205 86.9,204.7 86.7,204.3 86.4,204 86.2,203.6 85.9,203.2 85.7,202.9 85.4,202.5 85.2,202.1 84.9,201.7 84.6,201.4 84.4,201 84.1,200.6 83.8,200.3 83.5,199.9 83.2,199.5 82.9,199.1 82.6,198.8 82.3,198.4 82,198 81.7,197.6 81.3,197.2 81,196.9 80.7,196.5 80.4,196.1 80,195.7 79.7,195.3 79.3,194.9 79,194.6 78.6,194.2 78.3,193.8 77.9,193.4 77.6,193 77.2,192.6 76.8,192.3 76.5,191.9 76.1,191.5 75.7,191.1 75.3,190.7 75,190.3 74.6,189.9 74.2,189.6 73.8,189.2 73.4,188.8 73,188.4 72.6,188 72.2,187.6 71.8,187.2 71.4,186.9 71,186.5 70.6,186.1 70.2,185.7 69.8,185.3 69.3,184.9 68.9,184.5 68.5,184.2 68.1,183.8 67.6,183.4 67.2,183 66.8,182.6 66.4,182.3 65.9,181.9 65.5,181.5 65.1,181.1 64.6,180.7 64.2,180.4 63.8,180 63.3,179.6 62.9,179.2 62.4,178.8 62,178.5 61.6,178.1 61.1,177.7 60.7,177.4 60.2,177 59.8,176.6 59.3,176.2 58.9,175.9 58.4,175.5 58,175.1 57.6,174.8 57.1,174.4 56.7,174.1 56.2,173.7 55.8,173.3 55.3,173 54.9,172.6 54.4,172.3 54,171.9 53.5,171.6 53.1,171.2 52.7,170.9 52.2,170.5 51.8,170.2 51.3,169.8 50.9,169.5 50.5,169.1 50,168.8 49.6,168.4 49.2,168.1 48.7,167.8 48.3,167.4 47.9,167.1 47.4,166.8 47,166.4 46.6,166.1 46.2,165.8 45.8,165.5 45.3,165.1 44.9,164.8 44.5,164.5 44.1,164.2 43.7,163.9 43.3,163.6 42.9,163.3 42.5,162.9 42.1,162.6 41.7,162.3 41.3,162 40.9,161.7 40.5,161.4 40.1,161.1 39.7,160.8 39.3,160.6 39,160.3 38.6,160 38.2,159.7 37.8,159.4 37.5,159.1 37.1,158.9 36.7,158.6 36.4,158.3 36,158 35.7,157.8 35.3,157.5 35,157.2 34.7,157 34.3,156.7 34,156.5 33.7,156.2 33.4,156 33,155.7 32.7,155.5 32.4,155.2 32.1,155 31.8,154.7 31.5,154.5 31.2,154.3 30.9,154 30.6,153.8 30.4,153.6 30.1,153.4 29.8,153.2 29.5,152.9 29.3,152.7 29,152.5 28.8,152.3 28.5,152.1 28.3,151.9 28,151.7 27.8,151.5 27.6,151.3 27.4,151.1 27.1,151 26.9,150.8 26.7,150.6 26.5,150.4 26.3,150.2 26.1,150.1 25.9,149.9 25.8,149.7 25.6,149.6 25.4,149.4 25.2,149.3 25.1,149.1 24.9,149 24.8,148.8 24.6,148.7 24.5,148.5 24.3,148.4 24.2,148.3 24.1,148.1 24,148 23.9,147.9 23.8,147.7 23.7,147.6 23.6,147.5 23.5,147.4 23.4,147.3 23.3,147.2 23.2,147.1 23.2,147 23.1,146.9 23,146.8 23,146.7 23,146.6 22.9,146.6 22.9,146.5 22.9,146.4 22.8,146.3 22.8,146.3 22.8,146.2 22.8,146.1 22.8,146.1 22.8,146 22.8,146 22.8,145.9 22.9,145.9 22.9,145.8 22.9,145.8 23,145.8 23,145.7 23.1,145.7 23.1,145.7 23.2,145.7 23.3,145.6 23.3,145.6 23.4,145.6 23.5,145.6 23.6,145.6 23.7,145.6 23.8,145.6 23.9,145.6 24,145.6 24.1,145.6 24.3,145.6 24.4,145.7 24.5,145.7 24.7,145.7 24.8,145.7 25,145.8 25.1,145.8 25.3,145.9 25.5,145.9 25.6,145.9 25.8,146 26,146 26.2,146.1 26.4,146.2 26.6,146.2 26.8,146.3 27,146.4 27.2,146.4 27.4,146.5 27.7,146.6 27.9,146.7 28.1,146.8 28.4,146.9 28.6,147 28.9,147 29.1,147.1 29.4,147.3 29.7,147.4 29.9,147.5 30.2,147.6 30.5,147.7 30.8,147.8 31,147.9 31.3,148.1 31.6,148.2 31.9,148.3 32.2,148.5 32.5,148.6 32.8,148.7 33.2,148.9 33.5,149 33.8,149.2 34.1,149.3 34.5,149.5 34.8,149.7 35.1,149.8 35.5,150 35.8,150.2 36.2,150.3 36.5,150.5 36.9,150.7 37.3,150.9 37.6,151.1 38,151.2 38.4,151.4 38.7,151.6 39.1,151.8 39.5,152 39.9,152.2 40.3,152.4 40.6,152.6 41,152.9 41.4,153.1 41.8,153.3 42.2,153.5 42.6,153.7 43,154 43.4,154.2 43.8,154.4 44.3,154.6 44.7,154.9 45.1,155.1 45.5,155.4 45.9,155.6 46.3,155.9 46.8,156.1 47.2,156.4 47.6,156.6 48.1,156.9 48.5,157.1 48.9,157.4 49.3,157.6 49.8,157.9 50.2,158.2 50.6,158.5 51.1,158.7 51.5,159 52,159.3 52.4,159.6 52.8,159.9 53.3,160.1 53.7,160.4 54.2,160.7 54.6,161 55.1,161.3 55.5,161.6 56,161.9 56.4,162.2 56.8,162.5 57.3,162.8 57.7,163.1 58.2,163.4 58.6,163.7 59.1,164.1 59.5,164.4 60,164.7 60.4,165 60.9,165.3 61.3,165.7 61.7,166 62.2,166.3 62.6,166.6 63.1,167 63.5,167.3 63.9,167.6 64.4,168 64.8,168.3 65.2,168.6 65.7,169 66.1,169.3 66.5,169.7 67,170 67.4,170.4 67.8,170.7 68.2,171.1 68.7,171.4 69.1,171.8 69.5,172.1 69.9,172.5 70.3,172.8 70.8,173.2 71.2,173.5 71.6,173.9 72,174.3 72.4,174.6 72.8,175 73.2,175.4 73.6,175.7 74,176.1 74.4,176.5 74.7,176.8 75.1,177.2 75.5,177.6 75.9,177.9 76.3,178.3 76.6,178.7 77,179.1 77.4,179.4 77.7,179.8 78.1,180.2 78.4,180.6 78.8,180.9 79.1,181.3 79.5,181.7 79.8,182.1 80.2,182.5 80.5,182.9 80.8,183.2 81.2,183.6 81.5,184 81.8,184.4 82.1,184.8 82.4,185.1 82.7,185.5 83,185.9 83.3,186.3 83.6,186.7 83.9,187.1 84.2,187.5 84.5,187.8 84.7,188.2 85,188.6 85.3,189 85.5,189.4 85.8,189.8 86.1,190.2 86.3,190.5 86.5,190.9 86.8,191.3 87,191.7 87.2,192.1 87.5,192.5 87.7,192.9 87.9,193.2 88.1,193.6 88.3,194 88.5,194.4 88.7,194.8 88.9,195.2 89.1,195.5 89.2,195.9 89.4,196.3 89.6,196.7 89.7,197.1 89.9,197.5 90,197.8 90.2,198.2 90.3,198.6 90.5,199 90.6,199.3 90.7,199.7 90.8,200.1 90.9,200.5 91.1,200.8 91.2,201.2 91.2,201.6 91.3,202 91.4,202.3 91.5,202.7 91.6,203.1 91.6,203.4 91.7,203.8 91.8,204.2 91.8,204.5 91.9,204.9 91.9,205.2 91.9,205.6 91.9,206 92,206.3 92,206.7 92,207 92,207.4 92,207.7 92,208.1 92,208.4 92,208.8 91.9,209.1 91.9,209.5 91.9,209.8 91.8,210.2 91.8,210.5 91.7,210.8 91.7,211.2 91.6,211.5 91.5,211.8 91.5,212.2 91.4,212.5 91.3,212.8 91.2,213.2 91.1,213.5 91,213.8 90.9,214.1 90.8,214.4 90.6,214.8 90.5,215.1 90.4,215.4 90.2,215.7 90.1,216 90,216.3 89.8,216.6 89.6,216.9 89.5,217.2 89.3,217.5 89.1,217.8 89,218.1 88.8,218.4 88.6,218.7 88.4,219 88.2,219.3 88,219.6 87.8,219.8 87.6,220.1 87.3,220.4 87.1,220.7 86.9,220.9 86.6,221.2 86.4,221.5 86.2,221.7 85.9,222 85.6,222.2 85.4,222.5 85.1,222.8 84.9,223 84.6,223.3 84.3,223.5 84,223.7 83.7,224 83.4,224.2 83.1,224.5 82.8,224.7 82.5,224.9 82.2,225.1 81.9,225.4 81.6,225.6 81.3,225.8 81,226 80.6,226.2 80.3,226.4 80,226.7 79.6,226.9 79.3,227.1 78.9,227.3 78.6,227.5 78.2,227.6 77.9,227.8 77.5,228 77.1,228.2 76.8,228.4 76.4,228.6 76,228.7 75.7,228.9 75.3,229.1 74.9,229.2 74.5,229.4 74.1,229.6 73.7,229.7 73.3,229.9 72.9,230 72.5,230.2 72.1,230.3 71.7,230.5 71.3,230.6 70.9,230.7 70.5,230.9 70.1,231 69.7,231.1 69.3,231.2 68.8,231.4 68.4,231.5 68,231.6 67.6,231.7 67.1,231.8 66.7,231.9 66.3,232 65.8,232.1 65.4,232.2 65,232.3 64.5,232.4 64.1,232.4 63.7,232.5 63.2,232.6 62.8,232.7 62.4,232.7 61.9,232.8 61.5,232.9 61,232.9 60.6,233 60.1,233 59.7,233.1 59.2,233.1 58.8,233.2 58.4,233.2 57.9,233.2 57.5,233.3 57,233.3 56.6,233.3 56.1,233.3 55.7,233.4 55.2,233.4 54.8,233.4 54.3,233.4 53.9,233.4 53.5,233.4 53,233.4 52.6,233.4 52.1,233.4 51.7,233.4 51.3,233.4 50.8,233.3 50.4,233.3 49.9,233.3 49.5,233.3 49.1,233.2 48.6,233.2 48.2,233.1 47.8,233.1 47.4,233.1 46.9,233 46.5,233 46.1,232.9 45.7,232.8 45.3,232.8 44.8,232.7 44.4,232.6 44,232.6 43.6,232.5 43.2,232.4 42.8,232.3 42.4,232.2 42,232.2 41.6,232.1 41.2,232 40.8,231.9 40.4,231.8 40,231.7 39.6,231.5 39.3,231.4 38.9,231.3 38.5,231.2 38.1,231.1 37.8,231 37.4,230.8 37,230.7 36.7,230.6 36.3,230.4 36,230.3 35.6,230.1 35.3,230 34.9,229.8 34.6,229.7 34.3,229.5 33.9,229.4 33.6,229.2 33.3,229 33,228.9 32.7,228.7 32.3,228.5 32,228.3 31.7,228.2 31.4,228 31.2,227.8 30.9,227.6 30.6,227.4 30.3,227.2 30,227 29.8,226.8 29.5,226.6 29.2,226.4 29,226.2 28.7,226 28.5,225.7 28.2,225.5 28,225.3 27.8,225.1 27.5,224.9 27.3,224.6 27.1,224.4 26.9,224.2 26.7,223.9 26.5,223.7 26.3,223.4 26.1,223.2 25.9,222.9 25.7,222.7 25.5,222.4 25.4,222.2 25.2,221.9 25,221.7 24.9,221.4 24.7,221.1 24.6,220.9 24.5,220.6 24.3,220.3 24.2,220 24.1,219.8 24,219.5 23.8,219.2 23.7,218.9 23.6,218.6 23.5,218.3 23.5,218 23.4,217.7 23.3,217.4 23.2,217.1 23.2,216.8 23.1,216.5 23,216.2 23,215.9 22.9,215.6 22.9,215.3 22.9,215 22.8,214.7 22.8,214.4 22.8,214 22.8,213.7 22.8,213.4 22.8,213.1 22.8,212.7 22.8,212.4 22.8,212.1 22.9,211.8 22.9,211.4 22.9,211.1 23,210.7 23,210.4 23.1,210.1 23.1,209.7 23.2,209.4 23.3,209 23.4,208.7 23.4,208.3 23.5,208 23.6,207.6 23.7,207.3 23.8,206.9 23.9,206.6 24,206.2 24.2,205.9 24.3,205.5 24.4,205.1 24.6,204.8 24.7,204.4 24.9,204.1 25,203.7 25.2,203.3 25.3,203 25.5,202.6 25.7,202.2 25.9,201.9 26,201.5 26.2,201.1 26.4,200.7 26.6,200.4 26.8,200 27.1,199.6 27.3,199.2 27.5,198.9 27.7,198.5 27.9,198.1 28.2,197.7 28.4,197.3 28.7,197 28.9,196.6 29.2,196.2 29.4,195.8 29.7,195.4 30,195.1 30.2,194.7 30.5,194.3 30.8,193.9 31.1,193.5 31.4,193.1 31.7,192.8 32,192.4 32.3,192 32.6,191.6 32.9,191.2 33.2,190.8 33.5,190.4 33.9,190.1 34.2,189.7 34.5,189.3 34.9,188.9 35.2,188.5 35.6,188.1 35.9,187.7 36.3,187.3 36.6,187 37,186.6 37.3,186.2 37.7,185.8 38.1,185.4 38.4,185 38.8,184.7 39.2,184.3 39.6,183.9 39.9,183.5 40.3,183.1 40.7,182.7 41.1,182.4 41.5,182 41.9,181.6 42.3,181.2 42.7,180.8 43.1,180.5 43.5,180.1 43.9,179.7 44.3,179.3 44.8,179 45.2,178.6 45.6,178.2 46,177.8 46.4,177.5 46.9,177.1 47.3,176.7 47.7,176.4 48.1,176 48.6,175.6 49,175.3 49.4,174.9 49.9,174.5 50.3,174.2 50.7,173.8 51.2,173.4 51.6,173.1 52.1,172.7 52.5,172.4 52.9,172 53.4,171.7 53.8,171.3 54.3,171 54.7,170.6 55.2,170.3 55.6,169.9 56,169.6 56.5,169.2 56.9,168.9 57.4,168.5 57.8,168.2 58.3,167.9 58.7,167.5 59.2,167.2 59.6,166.9 60,166.5 60.5,166.2 60.9,165.9 61.4,165.6 61.8,165.2 62.3,164.9 62.7,164.6 63.1,164.3 63.6,164 64,163.7 64.5,163.3 64.9,163 65.3,162.7 65.8,162.4 66.2,162.1 66.6,161.8 67.1,161.5 67.5,161.2 67.9,160.9 68.3,160.6 68.8,160.3 69.2,160.1 69.6,159.8 70,159.5 70.4,159.2 70.8,158.9 71.2,158.7 71.6,158.4 72.1,158.1 72.5,157.8 72.9,157.6 73.3,157.3 73.6,157 74,156.8 74.4,156.5 74.8,156.3 75.2,156 75.6,155.8 76,155.5 76.3,155.3 76.7,155.1 77.1,154.8 77.4,154.6 77.8,154.3 78.2,154.1 78.5,153.9 78.9,153.7 79.2,153.4 79.6,153.2 79.9,153 80.2,152.8 80.6,152.6 80.9,152.4 81.2,152.2 81.5,152 81.9,151.8 82.2,151.6 82.5,151.4 82.8,151.2 83.1,151 83.4,150.8 83.7,150.6 84,150.5 84.2,150.3 84.5,150.1 84.8,149.9 85.1,149.8 85.3,149.6 85.6,149.5 85.9,149.3 86.1,149.1 86.3,149 86.6,148.8 86.8,148.7 87.1,148.6 87.3,148.4 87.5,148.3 87.7,148.2 87.9,148 88.1,147.9 88.3,147.8 88.5,147.7 88.7,147.5 88.9,147.4 89.1,147.3 89.3,147.2 89.4,147.1 89.6,147 89.8,146.9 89.9,146.8 90.1,146.7 90.2,146.7 90.4,146.6 90.5,146.5 90.6,146.4 90.7,146.3 90.9,146.3 91,146.2 91.1,146.1 91.2,146.1 91.3,146 91.4,146 91.4,145.9 91.5,145.9 91.6,145.8 91.7,145.8 91.7,145.8 91.8,145.7 91.8,145.7 91.9,145.7 91.9,145.7 91.9,145.6 92,145.6 92,145.6 92,145.6 92,145.6 92,145.6" fill="none" stroke="#2472b4" stroke-width="1.0"/>
<polyline points="166.3,145.6 165.9,145.6 165.4,145.6 165,145.6 164.5,145.6 164.1,145.6 163.6,145.7 163.2,145.7 162.8,145.7 162.3,145.7 161.9,145.8 161.4,145.8 161,145.8 160.6,145.9 160.1,145.9 159.7,146 159.2,146 158.8,146.1 158.4,146.1 157.9,146.2 157.5,146.3 157.1,146.3 156.7,146.4 156.2,146.5 155.8,146.6 155.4,146.7 155,146.7 154.5,146.8 154.1,146.9 153.7,147 153.3,147.1 152.9,147.2 152.5,147.3 152.1,147.4 151.7,147.5 151.3,147.7 150.9,147.8 150.5,147.9 150.1,148 149.7,148.2 149.3,148.3 148.9,148.4 148.5,148.6 148.2,148.7 147.8,148.8 147.4,149 147,149.1 146.7,149.3 146.3,149.5 145.9,149.6 145.6,149.8 145.2,149.9 144.9,150.1 144.5,150.3 144.2,150.5 143.9,150.6 143.5,150.8 143.2,151 142.9,151.2 142.5,151.4 142.2,151.6 141.9,151.8 141.6,152 141.3,152.2 141,152.4 140.7,152.6 140.4,152.8 140.1,153 139.8,153.2 139.5,153.4 139.2,153.7 139,153.9 138.7,154.1 138.4,154.3 138.2,154.6 137.9,154.8 137.7,155.1 137.4,155.3 137.2,155.5 136.9,155.8 136.7,156 136.5,156.3 136.3,156.5 136.1,156.8 135.8,157 135.6,157.3 135.4,157.6 135.2,157.8 135,158.1 134.9,158.4 134.7,158.7 134.5,158.9 134.3,159.2 134.2,159.5 134,159.8 133.9,160.1 133.7,160.3 133.6,160.6 133.4,160.9 133.3,161.2 133.2,161.5 133,161.8 132.9,162.1 132.8,162.4 132.7,162.7 132.6,163 132.5,163.3 132.4,163.7 132.4,164 132.3,164.3 132.2,164.6 132.1,164.9 132.1,165.2 132,165.6 132,165.9 131.9,166.2 131.9,166.5 131.9,166.9 131.8,167.2 131.8,167.5 131.8,167.9 131.8,168.2 131.8,168.5 131.8,168.9 131.8,169.2 131.8,169.6 131.8,169.9 131.9,170.3 131.9,170.6 131.9,171 132,171.3 132,171.7 132.1,172 132.1,172.4 132.2,172.7 132.3,173.1 132.4,173.4 132.4,173.8 132.5,174.2 132.6,174.5 132.7,174.9 132.8,175.3 132.9,175.6 133.1,176 133.2,176.4 133.3,176.7 133.4,177.1 133.6,177.5 133.7,177.8 133.9,178.2 134,178.6 134.2,179 134.4,179.3 134.5,179.7 134.7,180.1 134.9,180.5 135.1,180.8 135.3,181.2 135.5,181.6 135.7,182 135.9,182.4 136.1,182.7 136.3,183.1 136.5,183.5 136.7,183.9 137,184.3 137.2,184.7 137.4,185 137.7,185.4 137.9,185.8 138.2,186.2 138.5,186.6 138.7,187 139,187.3 139.3,187.7 139.5,188.1 139.8,188.5 140.1,188.9 140.4,189.3 140.7,189.7 141,190.1 141.3,190.4 141.6,190.8 141.9,191.2 142.2,191.6 142.6,192 142.9,192.4 143.2,192.8 143.5,193.1 143.9,193.5 144.2,193.9 144.6,194.3 144.9,194.7 145.3,195.1 145.6,195.4 146,195.8 146.3,196.2 146.7,196.6 147.1,197 147.4,197.3 147.8,197.7 148.2,198.1 148.6,198.5 149,198.9 149.3,199.2 149.7,199.6 150.1,200 150.5,200.4 150.9,200.7 151.3,201.1 151.7,201.5 152.1,201.9 152.5,202.2 152.9,202.6 153.3,203 153.8,203.3 154.2,203.7 154.6,204.1 155,204.4 155.4,204.8 155.8,205.1 156.3,205.5 156.7,205.9 157.1,206.2 157.6,206.6 158,206.9 158.4,207.3 158.8,207.6 159.3,208 159.7,208.3 160.2,208.7 160.6,209 161,209.4 161.5,209.7 161.9,210.1 162.4,210.4 162.8,210.7 163.2,211.1 163.7,211.4 164.1,211.8 164.6,212.1 165,212.4 165.5,212.7 165.9,213.1 166.3,213.4 166.8,213.7 167.2,214 167.7,214.4 168.1,214.7 168.6,215 169,215.3 169.4,215.6 169.9,215.9 170.3,216.2 170.8,216.5 171.2,216.8 171.7,217.1 172.1,217.4 172.5,217.7 173,218 173.4,218.3 173.8,218.6 174.3,218.9 174.7,219.2 175.1,219.5 175.6,219.8 176,220 176.4,220.3 176.8,220.6 177.3,220.9 177.7,221.1 178.1,221.4 178.5,221.7 178.9,221.9 179.3,222.2 179.8,222.4 180.2,222.7 180.6,222.9 181,223.2 181.4,223.4 181.8,223.7 182.2,223.9 182.6,224.2 182.9,224.4 183.3,224.6 183.7,224.9 184.1,225.1 184.5,225.3 184.9,225.5 185.2,225.7 185.6,226 186,226.2 186.3,226.4 186.7,226.6 187,226.8 187.4,227 187.8,227.2 188.1,227.4 188.4,227.6 188.8,227.8 189.1,228 189.4,228.2 189.8,228.3 190.1,228.5 190.4,228.7 190.7,228.9 191,229 191.4,229.2 191.7,229.4 192,229.5 192.3,229.7 192.5,229.8 192.8,230 193.1,230.1 193.4,230.3 193.7,230.4 193.9,230.6 194.2,230.7 194.5,230.8 194.7,231 195,231.1 195.2,231.2 195.4,231.3 195.7,231.4 195.9,231.5 196.1,231.7 196.4,231.8 196.6,231.9 196.8,232 197,232.1 197.2,232.2 197.4,232.2 197.6,232.3 197.8,232.4 197.9,232.5 198.1,232.6 198.3,232.6 198.4,232.7 198.6,232.8 198.8,232.8 198.9,232.9 199,233 199.2,233 199.3,233.1 199.4,233.1 199.6,233.1 199.7,233.2 199.8,233.2 199.9,233.3 200,233.3 200.1,233.3 200.2,233.3 200.3,233.4 200.3,233.4 200.4,233.4 200.5,233.4 200.5,233.4 200.6,233.4 200.6,233.4 200.7,233.4 200.7,233.4 200.7,233.4 200.8,233.4 200.8,233.3 200.8,233.3 200.8,233.3 200.8,233.3 200.8,233.2 200.8,233.2 200.8,233.2 200.8,233.1 200.7,233.1 200.7,233 200.7,233 200.6,232.9 200.6,232.9 200.5,232.8 200.4,232.7 200.4,232.7 200.3,232.6 200.2,232.5 200.1,232.4 200.1,232.4 200,232.3 199.9,232.2 199.8,232.1 199.6,232 199.5,231.9 199.4,231.8 199.3,231.7 199.1,231.6 199,231.5 198.9,231.4 198.7,231.2 198.6,231.1 198.4,231 198.2,230.9 198.1,230.7 197.9,230.6 197.7,230.5 197.5,230.3 197.3,230.2 197.1,230 196.9,229.9 196.7,229.7 196.5,229.6 196.3,229.4 196.1,229.2 195.8,229.1 195.6,228.9 195.4,228.7 195.1,228.6 194.9,228.4 194.6,228.2 194.4,228 194.1,227.8 193.9,227.6 193.6,227.5 193.3,227.3 193,227.1 192.7,226.9 192.5,226.7 192.2,226.4 191.9,226.2 191.6,226 191.3,225.8 191,225.6 190.6,225.4 190.3,225.1 190,224.9 189.7,224.7 189.4,224.5 189,224.2 188.7,224 188.3,223.7 188,223.5 187.7,223.3 187.3,223 186.9,222.8 186.6,222.5 186.2,222.2 185.9,222 185.5,221.7 185.1,221.5 184.7,221.2 184.4,220.9 184,220.7 183.6,220.4 183.2,220.1 182.8,219.8 182.4,219.6 182,219.3 181.7,219 181.3,218.7 180.9,218.4 180.4,218.1 180,217.8 179.6,217.5 179.2,217.2 178.8,216.9 178.4,216.6 178,216.3 177.6,216 177.1,215.7 176.7,215.4 176.3,215.1 175.9,214.8 175.4,214.4 175,214.1 174.6,213.8 174.1,213.5 173.7,213.2 173.3,212.8 172.8,212.5 172.4,212.2 172,211.8 171.5,211.5 171.1,211.2 170.6,210.8 170.2,210.5 169.8,210.2 169.3,209.8 168.9,209.5 168.4,209.1 168,208.8 167.5,208.4 167.1,208.1 166.7,207.7 166.2,207.4 165.8,207 165.3,206.7 164.9,206.3 164.4,206 164,205.6 163.5,205.2 163.1,204.9 162.7,204.5 162.2,204.2 161.8,203.8 161.3,203.4 160.9,203.1 160.5,202.7 160,202.3 159.6,202 159.2,201.6 158.7,201.2 158.3,200.8 157.9,200.5 157.4,200.1 157,199.7 156.6,199.3 156.1,199 155.7,198.6 155.3,198.2 154.9,197.8 154.5,197.5 154,197.1 153.6,196.7 153.2,196.3 152.8,195.9 152.4,195.5 152,195.2 151.6,194.8 151.2,194.4 150.8,194 150.4,193.6 150,193.2 149.6,192.9 149.2,192.5 148.8,192.1 148.5,191.7 148.1,191.3 147.7,190.9 147.3,190.5 147,190.2 146.6,189.8 146.2,189.4 145.9,189 145.5,188.6 145.2,188.2 144.8,187.8 144.5,187.5 144.1,187.1 143.8,186.7 143.5,186.3 143.1,185.9 142.8,185.5 142.5,185.1 142.2,184.8 141.8,184.4 141.5,184 141.2,183.6 140.9,183.2 140.6,182.9 140.3,182.5 140,182.1 139.7,181.7 139.5,181.3 139.2,180.9 138.9,180.6 138.6,180.2 138.4,179.8 138.1,179.4 137.9,179.1 137.6,178.7 137.4,178.3 137.1,177.9 136.9,177.6 136.7,177.2 136.4,176.8 136.2,176.5 136,176.1 135.8,175.7 135.6,175.4 135.4,175 135.2,174.6 135,174.3 134.8,173.9 134.6,173.5 134.5,173.2 134.3,172.8 134.1,172.5 134,172.1 133.8,171.8 133.7,171.4 133.5,171.1 133.4,170.7 133.3,170.4 133.1,170 133,169.7 132.9,169.3 132.8,169 132.7,168.6 132.6,168.3 132.5,168 132.4,167.6 132.3,167.3 132.3,167 132.2,166.6 132.1,166.3 132.1,166 132,165.7 132,165.3 131.9,165 131.9,164.7 131.9,164.4 131.8,164.1 131.8,163.7 131.8,163.4 131.8,163.1 131.8,162.8 131.8,162.5 131.8,162.2 131.8,161.9 131.9,161.6 131.9,161.3 131.9,161 132,160.7 132,160.4 132,160.1 132.1,159.9 132.2,159.6 132.2,159.3 132.3,159 132.4,158.7 132.5,158.5 132.6,158.2 132.6,157.9 132.7,157.6 132.9,157.4 133,157.1 133.1,156.9 133.2,156.6 133.3,156.4 133.5,156.1 133.6,155.9 133.8,155.6 133.9,155.4 134.1,155.1 134.2,154.9 134.4,154.6 134.6,154.4 134.7,154.2 134.9,154 135.1,153.7 135.3,153.5 135.5,153.3 135.7,153.1 135.9,152.9 136.1,152.6 136.3,152.4 136.6,152.2 136.8,152 137,151.8 137.3,151.6 137.5,151.4 137.7,151.2 138,151.1 138.2,150.9 138.5,150.7 138.8,150.5 139,150.3 139.3,150.2 139.6,150 139.9,149.8 140.2,149.7 140.5,149.5 140.8,149.3 141.1,149.2 141.4,149 141.7,148.9 142,148.7 142.3,148.6 142.6,148.5 143,148.3 143.3,148.2 143.6,148.1 144,147.9 144.3,147.8 144.6,147.7 145,147.6 145.3,147.5 145.7,147.4 146,147.3 146.4,147.1 146.8,147 147.1,147 147.5,146.9 147.9,146.8 148.3,146.7 148.6,146.6 149,146.5 149.4,146.4 149.8,146.4 150.2,146.3 150.6,146.2 151,146.2 151.4,146.1 151.8,146 152.2,146 152.6,145.9 153,145.9 153.4,145.9 153.8,145.8 154.2,145.8 154.7,145.7 155.1,145.7 155.5,145.7 155.9,145.7 156.4,145.6 156.8,145.6 157.2,145.6 157.6,145.6 158.1,145.6 158.5,145.6 158.9,145.6 159.4,145.6 159.8,145.6 160.2,145.6 160.7,145.6 161.1,145.7 161.6,145.7 162,145.7 162.4,145.7 162.9,145.8 163.3,145.8 163.8,145.8 164.2,145.9 164.7,145.9 165.1,146 165.5,146 166,146.1 166.4,146.1 166.9,146.2 167.3,146.3 167.8,146.3 168.2,146.4 168.7,146.5 169.1,146.6 169.5,146.6 170,146.7 170.4,146.8 170.9,146.9 171.3,147 171.7,147.1 172.2,147.2 172.6,147.3 173.1,147.4 173.5,147.5 173.9,147.6 174.4,147.7 174.8,147.9 175.2,148 175.6,148.1 176.1,148.3 176.5,148.4 176.9,148.5 177.3,148.7 177.8,148.8 178.2,149 178.6,149.1 179,149.3 179.4,149.4 179.8,149.6 180.2,149.7 180.6,149.9 181,150.1 181.4,150.2 181.8,150.4 182.2,150.6 182.6,150.8 183,151 183.4,151.1 183.8,151.3 184.2,151.5 184.6,151.7 184.9,151.9 185.3,152.1 185.7,152.3 186,152.5 186.4,152.7 186.8,152.9 187.1,153.2 187.5,153.4 187.8,153.6 188.2,153.8 188.5,154 188.8,154.3 189.2,154.5 189.5,154.7 189.8,155 190.2,155.2 190.5,155.5 190.8,155.7 191.1,156 191.4,156.2 191.7,156.5 192,156.7 192.3,157 192.6,157.2 192.9,157.5 193.2,157.8 193.4,158 193.7,158.3 194,158.6 194.2,158.9 194.5,159.1 194.8,159.4 195,159.7 195.2,160 195.5,160.3 195.7,160.6 196,160.8 196.2,161.1 196.4,161.4 196.6,161.7 196.8,162 197,162.3 197.2,162.6 197.4,162.9 197.6,163.3 197.8,163.6 198,163.9 198.1,164.2 198.3,164.5 198.5,164.8 198.6,165.1 198.8,165.5 198.9,165.8 199.1,166.1 199.2,166.4 199.3,166.8 199.5,167.1 199.6,167.4 199.7,167.8 199.8,168.1 199.9,168.4 200,168.8 200.1,169.1 200.2,169.5 200.3,169.8 200.3,170.2 200.4,170.5 200.5,170.9 200.5,171.2 200.6,171.6 200.6,171.9 200.7,172.3 200.7,172.6 200.7,173 200.8,173.3 200.8,173.7 200.8,174.1 200.8,174.4 200.8,174.8 200.8,175.1 200.8,175.5 200.8,175.9 200.7,176.2 200.7,176.6 200.7,177 200.6,177.4 200.6,177.7 200.6,178.1 200.5,178.5 200.4,178.8 200.4,179.2 200.3,179.6 200.2,180 200.1,180.4 200,180.7 199.9,181.1 199.8,181.5 199.7,181.9 199.6,182.3 199.5,182.6 199.4,183 199.3,183.4 199.1,183.8 199,184.2 198.8,184.5 198.7,184.9 198.5,185.3 198.4,185.7 198.2,186.1 198,186.5 197.8,186.9 197.7,187.2 197.5,187.6 197.3,188 197.1,188.4 196.9,188.8 196.7,189.2 196.5,189.6 196.2,189.9 196,190.3 195.8,190.7 195.6,191.1 195.3,191.5 195.1,191.9 194.8,192.3 194.6,192.6 194.3,193 194.1,193.4 193.8,193.8 193.5,194.2 193.3,194.6 193,194.9 192.7,195.3 192.4,195.7 192.1,196.1 191.8,196.5 191.5,196.9 191.2,197.2 190.9,197.6 190.6,198 190.3,198.4 189.9,198.8 189.6,199.1 189.3,199.5 189,199.9 188.6,200.3 188.3,200.6 187.9,201 187.6,201.4 187.2,201.7 186.9,202.1 186.5,202.5 186.2,202.9 185.8,203.2 185.4,203.6 185.1,204 184.7,204.3 184.3,204.7 183.9,205 183.5,205.4 183.1,205.8 182.8,206.1 182.4,206.5 182,206.8 181.6,207.2 181.2,207.5 180.8,207.9 180.4,208.2 180,208.6 179.6,208.9 179.1,209.3 178.7,209.6 178.3,210 177.9,210.3 177.5,210.6 177.1,211 176.6,211.3 176.2,211.7 175.8,212 175.4,212.3 174.9,212.6 174.5,213 174.1,213.3 173.6,213.6 173.2,213.9 172.8,214.3 172.3,214.6 171.9,214.9 171.4,215.2 171,215.5 170.6,215.8 170.1,216.1 169.7,216.5 169.2,216.8 168.8,217.1 168.3,217.4 167.9,217.7 167.5,217.9 167,218.2 166.6,218.5 166.1,218.8 165.7,219.1 165.2,219.4 164.8,219.7 164.4,220 163.9,220.2 163.5,220.5 163,220.8 162.6,221 162.1,221.3 161.7,221.6 161.3,221.8 160.8,222.1 160.4,222.4 159.9,222.6 159.5,222.9 159.1,223.1 158.6,223.4 158.2,223.6 157.8,223.8 157.3,224.1 156.9,224.3 156.5,224.6 156.1,224.8 155.6,225 155.2,225.2 154.8,225.5 154.4,225.7 154,225.9 153.5,226.1 153.1,226.3 152.7,226.5 152.3,226.7 151.9,226.9 151.5,227.1 151.1,227.3 150.7,227.5 150.3,227.7 149.9,227.9 149.5,228.1 149.2,228.3 148.8,228.5 148.4,228.6 148,228.8 147.6,229 147.3,229.2 146.9,229.3 146.5,229.5 146.2,229.6 145.8,229.8 145.4,229.9 145.1,230.1 144.7,230.2 144.4,230.4 144.1,230.5 143.7,230.7 143.4,230.8 143.1,230.9 142.7,231 142.4,231.2 142.1,231.3 141.8,231.4 141.5,231.5 141.2,231.6 140.9,231.7 140.6,231.8 140.3,231.9 140,232 139.7,232.1 139.4,232.2 139.1,232.3 138.9,232.4 138.6,232.5 138.3,232.5 138.1,232.6 137.8,232.7 137.6,232.8 137.3,232.8 137.1,232.9 136.9,232.9 136.6,233 136.4,233 136.2,233.1 136,233.1 135.8,233.2 135.6,233.2 135.4,233.2 135.2,233.3 135,233.3 134.8,233.3 134.6,233.3 134.4,233.4 134.3,233.4 134.1,233.4 134,233.4 133.8,233.4 133.7,233.4 133.5,233.4 133.4,233.4 133.2,233.4 133.1,233.4 133,233.3 132.9,233.3 132.8,233.3 132.7,233.3 132.6,233.2 132.5,233.2 132.4,233.2 132.3,233.1 132.3,233.1 132.2,233 132.1,233 132.1,232.9 132,232.9 132,232.8 131.9,232.8 131.9,232.7 131.9,232.6 131.8,232.5 131.8,232.5 131.8,232.4 131.8,232.3 131.8,232.2 131.8,232.1 131.8,232 131.8,231.9 131.9,231.8 131.9,231.7 131.9,231.6 132,231.5 132,231.4 132.1,231.3 132.1,231.1 132.2,231 132.2,230.9 132.3,230.8 132.4,230.6 132.5,230.5 132.6,230.4 132.7,230.2 132.8,230.1 132.9,229.9 133,229.8 133.1,229.6 133.2,229.5 133.4,229.3 133.5,229.1 133.6,229 133.8,228.8 133.9,228.6 134.1,228.4 134.3,228.3 134.4,228.1 134.6,227.9 134.8,227.7 135,227.5 135.1,227.3 135.3,227.1 135.5,226.9 135.7,226.7 135.9,226.5 136.2,226.3 136.4,226.1 136.6,225.9 136.8,225.7 137.1,225.4 137.3,225.2 137.5,225 137.8,224.8 138,224.5 138.3,224.3 138.6,224.1 138.8,223.8 139.1,223.6 139.4,223.3 139.7,223.1 139.9,222.8 140.2,222.6 140.5,222.3 140.8,222.1 141.1,221.8 141.4,221.5 141.7,221.3 142.1,221 142.4,220.7 142.7,220.5 143,220.2 143.3,219.9 143.7,219.6 144,219.3 144.4,219.1 144.7,218.8 145.1,218.5 145.4,218.2 145.8,217.9 146.1,217.6 146.5,217.3 146.8,217 147.2,216.7 147.6,216.4 148,216.1 148.3,215.8 148.7,215.5 149.1,215.2 149.5,214.9 149.9,214.5 150.3,214.2 150.7,213.9 151.1,213.6 151.5,213.3 151.9,212.9 152.3,212.6 152.7,212.3 153.1,211.9 153.5,211.6 153.9,211.3 154.3,210.9 154.7,210.6 155.2,210.3 155.6,209.9 156,209.6 156.4,209.2 156.9,208.9 157.3,208.5 157.7,208.2 158.2,207.8 158.6,207.5 159,207.1 159.5,206.8 159.9,206.4 160.3,206.1 160.8,205.7 161.2,205.4 161.6,205 162.1,204.6 162.5,204.3 163,203.9 163.4,203.5 163.9,203.2 164.3,202.8 164.7,202.4 165.2,202.1 165.6,201.7 166.1,201.3 166.5,201 167,200.6 167.4,200.2 167.8,199.8 168.3,199.5 168.7,199.1 169.2,198.7 169.6,198.3 170.1,197.9 170.5,197.6 170.9,197.2 171.4,196.8 171.8,196.4 172.3,196 172.7,195.7 173.1,195.3 173.6,194.9 174,194.5 174.4,194.1 174.9,193.7 175.3,193.4 175.7,193 176.2,192.6 176.6,192.2 177,191.8 177.4,191.4 177.8,191 178.3,190.7 178.7,190.3 179.1,189.9 179.5,189.5 179.9,189.1 180.3,188.7 180.7,188.3 181.1,188 181.5,187.6 181.9,187.2 182.3,186.8 182.7,186.4 183.1,186 183.5,185.6 183.9,185.3 184.3,184.9 184.6,184.5 185,184.1 185.4,183.7 185.7,183.3 186.1,183 186.5,182.6 186.8,182.2 187.2,181.8 187.5,181.4 187.9,181.1 188.2,180.7 188.6,180.3 188.9,179.9 189.2,179.5 189.6,179.2 189.9,178.8 190.2,178.4 190.5,178 190.9,177.7 191.2,177.3 191.5,176.9 191.8,176.6 192.1,176.2 192.4,175.8 192.7,175.5 192.9,175.1 193.2,174.7 193.5,174.4 193.8,174 194,173.6 194.3,173.3 194.6,172.9 194.8,172.6 195.1,172.2 195.3,171.9 195.5,171.5 195.8,171.2 196,170.8 196.2,170.5 196.4,170.1 196.7,169.8 196.9,169.4 197.1,169.1 197.3,168.7 197.5,168.4 197.6,168.1 197.8,167.7 198,167.4 198.2,167.1 198.3,166.7 198.5,166.4 198.7,166.1 198.8,165.7 199,165.4 199.1,165.1 199.2,164.8 199.4,164.5 199.5,164.1 199.6,163.8 199.7,163.5 199.8,163.2 199.9,162.9 200,162.6 200.1,162.3 200.2,162 200.3,161.7 200.4,161.4 200.4,161.1 200.5,160.8 200.5,160.5 200.6,160.2 200.6,159.9 200.7,159.7 200.7,159.4 200.7,159.1 200.8,158.8 200.8,158.5 200.8,158.3 200.8,158 200.8,157.7 200.8,157.5 200.8,157.2 200.8,156.9 200.7,156.7 200.7,156.4 200.7,156.2 200.6,155.9 200.6,155.7 200.5,155.4 200.5,155.2 200.4,154.9 200.4,154.7 200.3,154.5 200.2,154.2 200.1,154 200,153.8 199.9,153.6 199.8,153.3 199.7,153.1 199.6,152.9 199.5,152.7 199.4,152.5 199.2,152.3 199.1,152.1 199,151.9 198.8,151.7 198.7,151.5 198.5,151.3 198.3,151.1 198.2,150.9 198,150.7 197.8,150.6 197.6,150.4 197.4,150.2 197.2,150 197,149.9 196.8,149.7 196.6,149.5 196.4,149.4 196.2,149.2 196,149.1 195.8,148.9 195.5,148.8 195.3,148.6 195,148.5 194.8,148.4 194.5,148.2 194.3,148.1 194,148 193.7,147.9 193.5,147.7 193.2,147.6 192.9,147.5 192.6,147.4 192.3,147.3 192,147.2 191.8,147.1 191.4,147 191.1,146.9 190.8,146.8 190.5,146.7 190.2,146.6 189.9,146.5 189.6,146.5 189.2,146.4 188.9,146.3 188.5,146.2 188.2,146.2 187.9,146.1 187.5,146.1 187.2,146 186.8,146 186.4,145.9 186.1,145.9 185.7,145.8 185.3,145.8 185,145.8 184.6,145.7 184.2,145.7 183.8,145.7 183.5,145.7 183.1,145.6 182.7,145.6 182.3,145.6 181.9,145.6 181.5,145.6 181.1,145.6 180.7,145.6 180.3,145.6 179.9,145.6 179.5,145.6 179.1,145.7 178.6,145.7 178.2,145.7 177.8,145.7 177.4,145.8 177,145.8 176.5,145.8 176.1,145.9 175.7,145.9 175.3,146 174.8,146 174.4,146.1 174,146.1 173.5,146.2 173.1,146.2 172.7,146.3 172.2,146.4 171.8,146.5 171.4,146.5 170.9,146.6 170.5,146.7 170,146.8 169.6,146.9 169.1,147 168.7,147.1 168.3,147.2 167.8,147.3 167.4,147.4 166.9,147.5 166.5,147.6 166,147.7 165.6,147.8 165.2,148 164.7,148.1 164.3,148.2 163.8,148.3 163.4,148.5 162.9,148.6 162.5,148.8 162.1,148.9 161.6,149.1 161.2,149.2 160.7,149.4 160.3,149.5 159.9,149.7 159.4,149.8 159,150 158.6,150.2 158.1,150.4 157.7,150.5 157.3,150.7 156.8,150.9 156.4,151.1 156,151.3 155.6,151.5 155.1,151.7 154.7,151.9 154.3,152.1 153.9,152.3 153.5,152.5 153.1,152.7 152.6,152.9 152.2,153.1 151.8,153.3 151.4,153.5 151,153.8 150.6,154 150.2,154.2 149.9,154.4 149.5,154.7 149.1,154.9 148.7,155.2 148.3,155.4 147.9,155.6 147.6,155.9 147.2,156.1 146.8,156.4 146.5,156.6 146.1,156.9 145.7,157.2 145.4,157.4 145,157.7 144.7,158 144.3,158.2 144,158.5 143.7,158.8 143.3,159 143,159.3 142.7,159.6 142.3,159.9 142,160.2 141.7,160.5 141.4,160.8 141.1,161.1 140.8,161.3 140.5,161.6 140.2,161.9 139.9,162.2 139.6,162.5 139.4,162.9 139.1,163.2 138.8,163.5 138.5,163.8 138.3,164.1 138,164.4 137.8,164.7 137.5,165.1 137.3,165.4 137,165.7 136.8,166 136.6,166.4 136.4,166.7 136.1,167 135.9,167.3 135.7,167.7 135.5,168 135.3,168.4 135.1,168.7 134.9,169 134.8,169.4 134.6,169.7 134.4,170.1 134.2,170.4 134.1,170.8 133.9,171.1 133.8,171.5 133.6,171.8 133.5,172.2 133.4,172.5 133.2,172.9 133.1,173.2 133,173.6 132.9,174 132.8,174.3 132.7,174.7 132.6,175 132.5,175.4 132.4,175.8 132.3,176.1 132.2,176.5 132.2,176.9 132.1,177.3 132.1,177.6 132,178 132,178.4 131.9,178.7 131.9,179.1 131.9,179.5 131.8,179.9 131.8,180.2 131.8,180.6 131.8,181 131.8,181.4 131.8,181.8 131.8,182.1 131.8,182.5 131.9,182.9 131.9,183.3 131.9,183.7 132,184.1 132,184.4 132.1,184.8 132.1,185.2 132.2,185.6 132.3,186 132.3,186.4 132.4,186.7 132.5,187.1 132.6,187.5 132.7,187.9 132.8,188.3 132.9,188.7 133,189.1 133.1,189.4 133.3,189.8 133.4,190.2 133.5,190.6 133.7,191 133.8,191.4 134,191.8 134.1,192.1 134.3,192.5 134.5,192.9 134.6,193.3 134.8,193.7 135,194.1 135.2,194.5 135.4,194.8 135.6,195.2 135.8,195.6 136,196 136.2,196.4 136.4,196.7 136.6,197.1 136.9,197.5 137.1,197.9 137.3,198.3 137.6,198.6 137.8,199 138.1,199.4 138.4,199.8 138.6,200.2 138.9,200.5 139.2,200.9 139.4,201.3 139.7,201.6 140,202 140.3,202.4 140.6,202.8 140.9,203.1 141.2,203.5 141.5,203.9 141.8,204.2 142.1,204.6 142.4,204.9 142.8,205.3 143.1,205.7 143.4,206 143.7,206.4 144.1,206.7 144.4,207.1 144.8,207.4 145.1,207.8 145.5,208.1 145.8,208.5 146.2,208.8 146.6,209.2 146.9,209.5 147.3,209.9 147.7,210.2 148,210.6 148.4,210.9 148.8,211.2 149.2,211.6 149.6,211.9 150,212.2 150.3,212.6 150.7,212.9 151.1,213.2 151.5,213.5 151.9,213.9 152.4,214.2 152.8,214.5 153.2,214.8 153.6,215.1 154,215.4 154.4,215.7 154.8,216.1 155.2,216.4 155.7,216.7 156.1,217 156.5,217.3 156.9,217.6 157.4,217.9 157.8,218.2 158.2,218.4 158.7,218.7 159.1,219 159.5,219.3 160,219.6 160.4,219.9 160.8,220.1 161.3,220.4 161.7,220.7 162.2,221 162.6,221.2 163.1,221.5 163.5,221.8 163.9,222 164.4,222.3 164.8,222.5 165.3,222.8 165.7,223 166.2,223.3 166.6,223.5 167,223.8 167.5,224 167.9,224.3 168.4,224.5 168.8,224.7 169.3,225 169.7,225.2 170.2,225.4 170.6,225.6 171,225.8 171.5,226.1 171.9,226.3 172.3,226.5 172.8,226.7 173.2,226.9 173.7,227.1 174.1,227.3 174.5,227.5 175,227.7 175.4,227.9 175.8,228 176.2,228.2 176.7,228.4 177.1,228.6 177.5,228.8 177.9,228.9 178.3,229.1 178.8,229.3 179.2,229.4 179.6,229.6 180,229.7 180.4,229.9 180.8,230 181.2,230.2 181.6,230.3 182,230.5 182.4,230.6 182.8,230.7 183.2,230.9 183.6,231 183.9,231.1 184.3,231.3 184.7,231.4 185.1,231.5 185.4,231.6 185.8,231.7 186.2,231.8 186.5,231.9 186.9,232 187.3,232.1 187.6,232.2 188,232.3 188.3,232.4 188.6,232.4 189,232.5 189.3,232.6 189.6,232.7 190,232.7 190.3,232.8 190.6,232.9 190.9,232.9 191.2,233 191.5,233 191.8,233.1 192.1,233.1 192.4,233.2 192.7,233.2 193,233.2 193.3,233.3 193.5,233.3 193.8,233.3 194.1,233.3 194.3,233.4 194.6,233.4 194.9,233.4 195.1,233.4 195.3,233.4 195.6,233.4 195.8,233.4 196,233.4 196.3,233.4 196.5,233.4 196.7,233.4 196.9,233.3 197.1,233.3 197.3,233.3 197.5,233.3 197.7,233.2 197.9,233.2 198,233.1 198.2,233.1 198.4,233.1 198.5,233 198.7,233 198.8,232.9 199,232.8 199.1,232.8 199.3,232.7 199.4,232.6 199.5,232.6 199.6,232.5 199.7,232.4 199.8,232.3 200,232.2 200,232.1 200.1,232 200.2,232 200.3,231.9 200.4,231.7 200.4,231.6 200.5,231.5 200.6,231.4 200.6,231.3 200.6,231.2 200.7,231.1 200.7,230.9 200.7,230.8 200.8,230.7 200.8,230.5 200.8,230.4 200.8,230.3 200.8,230.1 200.8,230 200.8,229.8 200.8,229.7 200.7,229.5 200.7,229.3 200.7,229.2 200.6,229 200.6,228.8 200.5,228.7 200.5,228.5 200.4,228.3 200.3,228.1 200.3,227.9 200.2,227.8 200.1,227.6 200,227.4 199.9,227.2 199.8,227 199.7,226.8 199.6,226.6 199.5,226.4 199.3,226.1 199.2,225.9 199.1,225.7 198.9,225.5 198.8,225.3 198.6,225 198.5,224.8 198.3,224.6 198.1,224.4 198,224.1 197.8,223.9 197.6,223.6 197.4,223.4 197.2,223.1 197,222.9 196.8,222.6 196.6,222.4 196.4,222.1 196.2,221.9 195.9,221.6 195.7,221.4 195.5,221.1 195.2,220.8 195,220.5 194.7,220.3 194.5,220 194.2,219.7 194,219.4 193.7,219.1 193.4,218.9 193.1,218.6 192.9,218.3 192.6,218 192.3,217.7 192,217.4 191.7,217.1 191.4,216.8 191.1,216.5 190.8,216.2 190.5,215.9 190.1,215.6 189.8,215.3 189.5,214.9 189.2,214.6 188.8,214.3 188.5,214 188.1,213.7 187.8,213.3 187.4,213 187.1,212.7 186.7,212.4 186.4,212 186,211.7 185.6,211.4 185.3,211 184.9,210.7 184.5,210.4 184.2,210 183.8,209.7 183.4,209.3 183,209 182.6,208.6 182.2,208.3 181.8,207.9 181.4,207.6 181,207.2 180.6,206.9 180.2,206.5 179.8,206.2 179.4,205.8 179,205.5 178.6,205.1 178.1,204.7 177.7,204.4 177.3,204 176.9,203.6 176.5,203.3 176,202.9 175.6,202.5 175.2,202.2 174.8,201.8 174.3,201.4 173.9,201.1 173.5,200.7 173,200.3 172.6,199.9 172.1,199.6 171.7,199.2 171.3,198.8 170.8,198.4 170.4,198.1 169.9,197.7 169.5,197.3 169.1,196.9 168.6,196.5 168.2,196.1 167.7,195.8 167.3,195.4 166.8,195 166.4,194.6 166,194.2 165.5,193.9 165.1,193.5 164.6,193.1 164.2,192.7 163.7,192.3 163.3,191.9 162.8,191.5 162.4,191.2 162,190.8 161.5,190.4 161.1,190 160.6,189.6 160.2,189.2 159.8,188.8 159.3,188.5 158.9,188.1 158.5,187.7 158,187.3 157.6,186.9 157.2,186.5 156.7,186.1 156.3,185.8 155.9,185.4 155.5,185 155.1,184.6 154.6,184.2 154.2,183.8 153.8,183.5 153.4,183.1 153,182.7 152.6,182.3 152.2,181.9 151.8,181.5 151.4,181.2 151,180.8 150.6,180.4 150.2,180 149.8,179.7 149.4,179.3 149,178.9 148.6,178.5 148.2,178.2 147.9,177.8 147.5,177.4 147.1,177 146.7,176.7 146.4,176.3 146,175.9 145.7,175.6 145.3,175.2 145,174.8 144.6,174.5 144.3,174.1 143.9,173.8 143.6,173.4 143.3,173 142.9,172.7 142.6,172.3 142.3,172 142,171.6 141.7,171.3 141.3,170.9 141,170.6 140.7,170.2 140.4,169.9 140.2,169.5 139.9,169.2 139.6,168.8 139.3,168.5 139,168.2 138.8,167.8 138.5,167.5 138.2,167.2 138,166.8 137.7,166.5 137.5,166.2 137.2,165.8 137,165.5 136.8,165.2 136.5,164.9 136.3,164.6 136.1,164.2 135.9,163.9 135.7,163.6 135.5,163.3 135.3,163 135.1,162.7 134.9,162.4 134.7,162.1 134.5,161.8 134.4,161.5 134.2,161.2 134,160.9 133.9,160.6 133.7,160.3 133.6,160 133.5,159.7 133.3,159.4 133.2,159.2 133.1,158.9 133,158.6 132.8,158.3 132.7,158.1 132.6,157.8 132.5,157.5 132.5,157.3 132.4,157 132.3,156.8 132.2,156.5 132.2,156.2 132.1,156 132,155.7 132,155.5 131.9,155.3 131.9,155 131.9,154.8 131.8,154.5 131.8,154.3 131.8,154.1 131.8,153.9 131.8,153.6 131.8,153.4 131.8,153.2 131.8,153 131.8,152.8 131.9,152.6 131.9,152.3 131.9,152.1 132,151.9 132,151.7 132.1,151.5 132.1,151.4 132.2,151.2 132.3,151 132.3,150.8 132.4,150.6 132.5,150.4 132.6,150.3 132.7,150.1 132.8,149.9 132.9,149.8 133,149.6 133.2,149.4 133.3,149.3 133.4,149.1 133.5,149 133.7,148.8 133.8,148.7 134,148.5 134.2,148.4 134.3,148.3 134.5,148.1 134.7,148 134.8,147.9 135,147.8 135.2,147.6 135.4,147.5 135.6,147.4 135.8,147.3 136,147.2 136.2,147.1 136.5,147 136.7,146.9 136.9,146.8 137.2,146.7 137.4,146.6 137.6,146.6 137.9,146.5 138.1,146.4 138.4,146.3 138.7,146.3 138.9,146.2 139.2,146.1 139.5,146.1 139.8,146 140.1,146 140.3,145.9 140.6,145.9 140.9,145.8 141.2,145.8 141.5,145.8 141.9,145.7 142.2,145.7 142.5,145.7 142.8,145.7 143.1,145.6 143.5,145.6 143.8,145.6 144.2,145.6 144.5,145.6 144.8,145.6 145.2,145.6 145.5,145.6 145.9,145.6 146.3,145.6 146.6,145.6 147,145.7 147.4,145.7 147.7,145.7 148.1,145.7 148.5,145.8 148.9,145.8 149.3,145.9 149.6,145.9 150,145.9 150.4,146 150.8,146 151.2,146.1 151.6,146.2 152,146.2 152.4,146.3 152.8,146.4 153.2,146.4 153.7,146.5 154.1,146.6 154.5,146.7 154.9,146.8 155.3,146.8 155.8,146.9 156.2,147 156.6,147.1 157,147.2 157.5,147.3 157.9,147.5 158.3,147.6 158.8,147.7 159.2,147.8 159.6,147.9 160.1,148 160.5,148.2 160.9,148.3 161.4,148.4 161.8,148.6 162.3,148.7 162.7,148.9 163.1,149 163.6,149.2 164,149.3 164.5,149.5 164.9,149.6 165.4,149.8 165.8,150 166.2,150.1 166.7,150.3 167.1,150.5 167.6,150.7 168,150.8 168.5,151 168.9,151.2 169.4,151.4 169.8,151.6 170.2,151.8 170.7,152 171.1,152.2 171.6,152.4 172,152.6 172.4,152.8 172.9,153 173.3,153.3 173.7,153.5 174.2,153.7 174.6,153.9 175,154.1 175.5,154.4 175.9,154.6 176.3,154.8 176.7,155.1 177.2,155.3 177.6,155.6 178,155.8 178.4,156.1 178.8,156.3 179.3,156.6 179.7,156.8 180.1,157.1 180.5,157.3 180.9,157.6 181.3,157.9 181.7,158.1 182.1,158.4 182.5,158.7 182.9,159 183.3,159.2 183.6,159.5 184,159.8 184.4,160.1 184.8,160.4 185.2,160.7 185.5,161 185.9,161.3 186.3,161.6 186.6,161.9 187,162.2 187.3,162.5 187.7,162.8 188,163.1 188.4,163.4 188.7,163.7 189,164 189.4,164.3 189.7,164.6 190,165 190.3,165.3 190.7,165.6 191,165.9 191.3,166.3 191.6,166.6 191.9,166.9 192.2,167.2 192.5,167.6 192.8,167.9 193,168.3 193.3,168.6 193.6,168.9 193.9,169.3 194.1,169.6 194.4,170 194.7,170.3 194.9,170.7 195.1,171 195.4,171.4 195.6,171.7 195.9,172.1 196.1,172.4 196.3,172.8 196.5,173.1 196.7,173.5 196.9,173.9 197.1,174.2 197.3,174.6 197.5,174.9 197.7,175.3 197.9,175.7 198.1,176 198.2,176.4 198.4,176.8 198.6,177.1 198.7,177.5 198.9,177.9 199,178.3 199.2,178.6 199.3,179 199.4,179.4 199.5,179.8 199.7,180.1 199.8,180.5 199.9,180.9 200,181.3 200.1,181.7 200.2,182 200.2,182.4 200.3,182.8 200.4,183.2 200.4,183.6 200.5,183.9 200.6,184.3 200.6,184.7 200.7,185.1 200.7,185.5 200.7,185.9 200.8,186.2 200.8,186.6 200.8,187 200.8,187.4 200.8,187.8 200.8,188.2 200.8,188.6 200.8,188.9 200.8,189.3 200.7,189.7 200.7,190.1 200.7,190.5 200.6,190.9 200.6,191.3 200.5,191.7 200.5,192 200.4,192.4 200.3,192.8 200.2,193.2 200.2,193.6 200.1,194 200,194.3 199.9,194.7 199.8,195.1 199.7,195.5 199.6,195.9 199.4,196.3 199.3,196.6 199.2,197 199,197.4 198.9,197.8 198.7,198.2 198.6,198.5 198.4,198.9 198.3,199.3 198.1,199.7 197.9,200 197.7,200.4 197.6,200.8 197.4,201.2 197.2,201.5 197,201.9 196.8,202.3 196.6,202.6 196.3,203 196.1,203.4 195.9,203.7 195.7,204.1 195.4,204.5 195.2,204.8 194.9,205.2 194.7,205.6 194.4,205.9 194.2,206.3 193.9,206.6 193.6,207 193.4,207.3 193.1,207.7 192.8,208 192.5,208.4 192.2,208.7 191.9,209.1 191.6,209.4 191.3,209.8 191,210.1 190.7,210.5 190.4,210.8 190.1,211.1 189.8,211.5 189.4,211.8 189.1,212.1 188.8,212.5 188.4,212.8 188.1,213.1 187.7,213.4 187.4,213.8 187,214.1 186.7,214.4 186.3,214.7 185.9,215 185.6,215.3 185.2,215.7 184.8,216 184.5,216.3 184.1,216.6 183.7,216.9 183.3,217.2 182.9,217.5 182.5,217.8 182.1,218.1 181.7,218.4 181.3,218.7 180.9,218.9 180.5,219.2 180.1,219.5 179.7,219.8 179.3,220.1 178.9,220.3 178.5,220.6 178.1,220.9 177.6,221.2 177.2,221.4 176.8,221.7 176.4,222 176,222.2 175.5,222.5 175.1,222.7 174.7,223 174.2,223.2 173.8,223.5 173.4,223.7 172.9,223.9 172.5,224.2 172.1,224.4 171.6,224.7 171.2,224.9 170.7,225.1 170.3,225.3 169.9,225.6 169.4,225.8 169,226 168.5,226.2 168.1,226.4 167.6,226.6 167.2,226.8 166.8,227 166.3,227.2 165.9,227.4 165.4,227.6 165,227.8 164.5,228 164.1,228.2 163.6,228.4 163.2,228.5 162.8,228.7 162.3,228.9 161.9,229.1 161.4,229.2 161,229.4 160.6,229.5 160.1,229.7 159.7,229.9 159.3,230 158.8,230.2 158.4,230.3 158,230.4 157.5,230.6 157.1,230.7 156.7,230.8 156.2,231 155.8,231.1 155.4,231.2 155,231.3 154.6,231.5 154.1,231.6 153.7,231.7 153.3,231.8 152.9,231.9 152.5,232 152.1,232.1 151.7,232.2 151.3,232.3 150.9,232.3 150.5,232.4 150.1,232.5 149.7,232.6 149.3,232.7 148.9,232.7 148.5,232.8 148.2,232.9 147.8,232.9 147.4,233 147,233 146.7,233.1 146.3,233.1 146,233.2 145.6,233.2 145.2,233.2 144.9,233.3 144.5,233.3 144.2,233.3 143.9,233.3 143.5,233.4 143.2,233.4 142.9,233.4 142.5,233.4 142.2,233.4 141.9,233.4 141.6,233.4 141.3,233.4 141,233.4 140.7,233.4 140.4,233.4 140.1,233.3 139.8,233.3 139.5,233.3 139.2,233.3 139,233.2 138.7,233.2 138.4,233.2 138.2,233.1 137.9,233.1 137.7,233 137.4,233 137.2,232.9 137,232.9 136.7,232.8 136.5,232.7 136.3,232.7 136.1,232.6 135.8,232.5 135.6,232.4 135.4,232.3 135.2,232.3 135.1,232.2 134.9,232.1 134.7,232 134.5,231.9 134.3,231.8 134.2,231.7 134,231.6 133.9,231.5 133.7,231.3 133.6,231.2 133.4,231.1 133.3,231 133.2,230.8 133.1,230.7 132.9,230.6 132.8,230.4 132.7,230.3 132.6,230.2 132.5,230 132.4,229.9 132.4,229.7 132.3,229.5 132.2,229.4 132.1,229.2 132.1,229.1 132,228.9 132,228.7 131.9,228.5 131.9,228.4 131.9,228.2 131.8,228 131.8,227.8 131.8,227.6 131.8,227.4 131.8,227.2 131.8,227 131.8,226.8 131.8,226.6 131.8,226.4 131.9,226.2 131.9,226 131.9,225.8 132,225.6 132,225.3 132.1,225.1 132.1,224.9 132.2,224.7 132.3,224.4 132.4,224.2 132.4,223.9 132.5,223.7 132.6,223.5 132.7,223.2 132.8,223 132.9,222.7 133.1,222.5 133.2,222.2 133.3,222 133.4,221.7 133.6,221.4 133.7,221.2 133.9,220.9 134,220.6 134.2,220.3 134.3,220.1 134.5,219.8 134.7,219.5 134.9,219.2 135.1,218.9 135.3,218.7 135.4,218.4 135.6,218.1 135.9,217.8 136.1,217.5 136.3,217.2 136.5,216.9 136.7,216.6 137,216.3 137.2,216 137.4,215.7 137.7,215.3 137.9,215 138.2,214.7 138.5,214.4 138.7,214.1 139,213.8 139.3,213.4 139.5,213.1 139.8,212.8 140.1,212.5 140.4,212.1 140.7,211.8 141,211.5 141.3,211.1 141.6,210.8 141.9,210.5 142.2,210.1 142.6,209.8 142.9,209.4 143.2,209.1 143.5,208.7 143.9,208.4 144.2,208 144.6,207.7 144.9,207.3 145.3,207 145.6,206.6 146,206.3 146.3,205.9 146.7,205.6 147.1,205.2 147.4,204.8 147.8,204.5 148.2,204.1 148.6,203.7 148.9,203.4 149.3,203 149.7,202.6 150.1,202.3 150.5,201.9 150.9,201.5 151.3,201.2 151.7,200.8 152.1,200.4 152.5,200 152.9,199.7 153.3,199.3 153.7,198.9 154.2,198.5 154.6,198.2 155,197.8 155.4,197.4 155.8,197 156.3,196.6 156.7,196.3 157.1,195.9 157.5,195.5 158,195.1 158.4,194.7 158.8,194.3 159.3,194 159.7,193.6 160.1,193.2 160.6,192.8 161,192.4 161.5,192 161.9,191.7 162.3,191.3 162.8,190.9 163.2,190.5 163.7,190.1 164.1,189.7 164.6,189.3 165,188.9 165.4,188.6 165.9,188.2 166.3,187.8 166.8,187.4 167.2,187 167.7,186.6 168.1,186.2 168.6,185.9 169,185.5 169.4,185.1 169.9,184.7 170.3,184.3 170.8,183.9 171.2,183.6 171.6,183.2 172.1,182.8 172.5,182.4 173,182 173.4,181.7 173.8,181.3 174.3,180.9 174.7,180.5 175.1,180.1 175.5,179.8 176,179.4 176.4,179 176.8,178.6 177.2,178.3 177.7,177.9 178.1,177.5 178.5,177.1 178.9,176.8 179.3,176.4 179.7,176 180.2,175.7 180.6,175.3 181,174.9 181.4,174.6 181.8,174.2 182.2,173.9 182.5,173.5 182.9,173.1 183.3,172.8 183.7,172.4 184.1,172.1 184.5,171.7 184.9,171.4 185.2,171 185.6,170.7 186,170.3 186.3,170 186.7,169.6 187,169.3 187.4,168.9 187.7,168.6 188.1,168.3 188.4,167.9 188.8,167.6 189.1,167.2 189.4,166.9 189.8,166.6 190.1,166.3 190.4,165.9 190.7,165.6 191,165.3 191.3,165 191.6,164.6 191.9,164.3 192.2,164 192.5,163.7 192.8,163.4 193.1,163.1 193.4,162.8 193.7,162.5 193.9,162.2 194.2,161.9 194.4,161.6 194.7,161.3 194.9,161 195.2,160.7 195.4,160.4 195.7,160.1 195.9,159.8 196.1,159.5 196.3,159.2 196.6,159 196.8,158.7 197,158.4 197.2,158.1 197.4,157.9 197.6,157.6 197.8,157.3 197.9,157.1 198.1,156.8 198.3,156.6 198.4,156.3 198.6,156.1 198.8,155.8 198.9,155.6 199,155.3 199.2,155.1 199.3,154.8 199.4,154.6 199.6,154.4 199.7,154.1 199.8,153.9 199.9,153.7 200,153.5 200.1,153.3 200.2,153 200.3,152.8 200.3,152.6 200.4,152.4 200.5,152.2 200.5,152 200.6,151.8 200.6,151.6 200.7,151.4 200.7,151.2 200.7,151 200.8,150.8 200.8,150.7 200.8,150.5 200.8,150.3 200.8,150.1 200.8,150 200.8,149.8 200.8,149.6 200.8,149.5 200.7,149.3 200.7,149.2 200.7,149 200.6,148.9 200.6,148.7 200.5,148.6 200.4,148.4 200.4,148.3 200.3,148.2 200.2,148 200.1,147.9 200.1,147.8 200,147.7 199.9,147.6 199.8,147.5 199.6,147.3 199.5,147.2 199.4,147.1 199.3,147 199.1,146.9 199,146.8 198.9,146.8 198.7,146.7 198.6,146.6 198.4,146.5 198.2,146.4 198.1,146.4 197.9,146.3 197.7,146.2 197.5,146.2 197.3,146.1 197.1,146 196.9,146 196.7,145.9 196.5,145.9 196.3,145.9 196.1,145.8 195.8,145.8 195.6,145.7 195.4,145.7 195.1,145.7 194.9,145.7 194.6,145.6 194.4,145.6 194.1,145.6 193.9,145.6 193.6,145.6 193.3,145.6 193,145.6 192.8,145.6 192.5,145.6 192.2,145.6 191.9,145.6 191.6,145.7 191.3,145.7 191,145.7 190.6,145.7 190.3,145.8 190,145.8 189.7,145.8 189.4,145.9 189,145.9 188.7,146 188.3,146 188,146.1 187.7,146.1 187.3,146.2 187,146.3 186.6,146.3 186.2,146.4 185.9,146.5 185.5,146.6 185.1,146.6 184.8,146.7 184.4,146.8 184,146.9 183.6,147 183.2,147.1 182.8,147.2 182.5,147.3 182.1,147.4 181.7,147.5 181.3,147.6 180.9,147.8 180.5,147.9 180.1,148 179.6,148.1 179.2,148.3 178.8,148.4 178.4,148.5 178,148.7 177.6,148.8 177.1,149 176.7,149.1 176.3,149.3 175.9,149.4 175.4,149.6 175,149.8 174.6,149.9 174.2,150.1 173.7,150.3 173.3,150.4 172.8,150.6 172.4,150.8 172,151 171.5,151.2 171.1,151.4 170.7,151.5 170.2,151.7 169.8,151.9 169.3,152.1 168.9,152.3 168.4,152.6 168,152.8 167.6,153 167.1,153.2 166.7,153.4 166.2,153.6 165.8,153.9 165.3,154.1 164.9,154.3 164.4,154.5 164,154.8 163.6,155 163.1,155.3 162.7,155.5 162.2,155.7 161.8,156 161.4,156.2 160.9,156.5 160.5,156.8 160,157 159.6,157.3 159.2,157.5 158.7,157.8 158.3,158.1 157.9,158.3 157.4,158.6 157,158.9 156.6,159.2 156.2,159.4 155.7,159.7 155.3,160 154.9,160.3 154.5,160.6 154.1,160.9 153.6,161.2 153.2,161.5 152.8,161.8 152.4,162.1 152,162.4 151.6,162.7 151.2,163 150.8,163.3 150.4,163.6 150,163.9 149.6,164.2 149.2,164.6 148.9,164.9 148.5,165.2 148.1,165.5 147.7,165.8 147.3,166.2 147,166.5 146.6,166.8 146.2,167.2 145.9,167.5 145.5,167.8 145.2,168.2 144.8,168.5 144.5,168.8 144.1,169.2 143.8,169.5 143.5,169.9 143.1,170.2 142.8,170.6 142.5,170.9 142.2,171.3 141.8,171.6 141.5,172 141.2,172.3 140.9,172.7 140.6,173 140.3,173.4 140,173.8 139.8,174.1 139.5,174.5 139.2,174.8 138.9,175.2 138.7,175.6 138.4,175.9 138.1,176.3 137.9,176.7 137.6,177 137.4,177.4 137.1,177.8 136.9,178.2 136.7,178.5 136.5,178.9 136.2,179.3 136,179.7 135.8,180 135.6,180.4 135.4,180.8 135.2,181.2 135,181.5 134.8,181.9 134.7,182.3 134.5,182.7 134.3,183.1 134.1,183.5 134,183.8 133.8,184.2 133.7,184.6 133.5,185 133.4,185.4 133.3,185.8 133.1,186.1 133,186.5 132.9,186.9 132.8,187.3 132.7,187.7 132.6,188.1 132.5,188.5 132.4,188.8 132.3,189.2 132.3,189.6 132.2,190 132.1,190.4 132.1,190.8 132,191.2 132,191.5 131.9,191.9 131.9,192.3 131.9,192.7 131.8,193.1 131.8,193.5 131.8,193.9 131.8,194.2 131.8,194.6 131.8,195 131.8,195.4 131.8,195.8 131.9,196.1 131.9,196.5 131.9,196.9 131.9,197.3 132,197.7 132,198.1 132.1,198.4 132.2,198.8 132.2,199.2 132.3,199.6 132.4,199.9 132.5,200.3 132.6,200.7 132.6,201.1 132.7,201.4 132.9,201.8 133,202.2 133.1,202.5 133.2,202.9 133.3,203.3 133.5,203.6 133.6,204 133.7,204.4 133.9,204.7 134.1,205.1 134.2,205.5 134.4,205.8 134.6,206.2 134.7,206.5 134.9,206.9 135.1,207.2 135.3,207.6 135.5,207.9 135.7,208.3 135.9,208.6 136.1,209 136.3,209.3 136.5,209.7 136.8,210 137,210.4 137.2,210.7 137.5,211 137.7,211.4 138,211.7 138.2,212 138.5,212.4 138.8,212.7 139,213 139.3,213.3 139.6,213.7 139.9,214 140.2,214.3 140.5,214.6 140.8,214.9 141.1,215.3 141.4,215.6 141.7,215.9 142,216.2 142.3,216.5 142.6,216.8 142.9,217.1 143.3,217.4 143.6,217.7 143.9,218 144.3,218.3 144.6,218.6 145,218.9 145.3,219.1 145.7,219.4 146,219.7 146.4,220 146.8,220.3 147.1,220.5 147.5,220.8 147.9,221.1 148.3,221.4 148.6,221.6 149,221.9 149.4,222.1 149.8,222.4 150.2,222.6 150.6,222.9 151,223.1 151.4,223.4 151.8,223.6 152.2,223.9 152.6,224.1 153,224.4 153.4,224.6 153.8,224.8 154.2,225 154.7,225.3 155.1,225.5 155.5,225.7 155.9,225.9 156.3,226.1 156.8,226.4 157.2,226.6 157.6,226.8 158.1,227 158.5,227.2 158.9,227.4 159.4,227.6 159.8,227.8 160.2,227.9 160.7,228.1 161.1,228.3 161.5,228.5 162,228.7 162.4,228.8 162.9,229 163.3,229.2 163.8,229.3 164.2,229.5 164.6,229.7 165.1,229.8 165.5,230 166,230.1 166.4,230.3 166.9,230.4 167.3,230.5 167.8,230.7 168.2,230.8 168.6,230.9 169.1,231.1 169.5,231.2 170,231.3 170.4,231.4 170.8,231.5 171.3,231.6 171.7,231.7 172.2,231.9 172.6,232 173,232 173.5,232.1 173.9,232.2 174.3,232.3 174.8,232.4 175.2,232.5 175.6,232.6 176.1,232.6 176.5,232.7 176.9,232.8 177.3,232.8 177.8,232.9 178.2,233 178.6,233 179,233.1 179.4,233.1 179.8,233.1 180.2,233.2 180.6,233.2 181,233.3 181.4,233.3 181.8,233.3 182.2,233.3 182.6,233.4 183,233.4 183.4,233.4 183.8,233.4 184.2,233.4 184.5,233.4 184.9,233.4 185.3,233.4 185.7,233.4 186,233.4 186.4,233.4 186.8,233.3 187.1,233.3 187.5,233.3 187.8,233.3 188.2,233.2 188.5,233.2 188.8,233.2 189.2,233.1 189.5,233.1 189.8,233 190.2,233 190.5,232.9 190.8,232.9 191.1,232.8 191.4,232.7 191.7,232.7 192,232.6 192.3,232.5 192.6,232.4 192.9,232.4 193.2,232.3 193.4,232.2 193.7,232.1 194,232 194.2,231.9 194.5,231.8 194.7,231.7 195,231.6 195.2,231.5 195.5,231.4 195.7,231.3 195.9,231.1 196.2,231 196.4,230.9 196.6,230.7 196.8,230.6 197,230.5 197.2,230.3 197.4,230.2 197.6,230 197.8,229.9 198,229.7 198.1,229.6 198.3,229.4 198.5,229.3 198.6,229.1 198.8,228.9 198.9,228.8 199.1,228.6 199.2,228.4 199.3,228.2 199.5,228 199.6,227.9 199.7,227.7 199.8,227.5 199.9,227.3 200,227.1 200.1,226.9 200.2,226.7 200.3,226.5 200.3,226.3 200.4,226.1 200.5,225.8 200.5,225.6 200.6,225.4 200.6,225.2 200.7,225 200.7,224.7 200.7,224.5 200.8,224.3 200.8,224 200.8,223.8 200.8,223.5 200.8,223.3 200.8,223 200.8,222.8 200.8,222.5 200.7,222.3 200.7,222 200.7,221.8 200.6,221.5 200.6,221.2 200.6,221 200.5,220.7 200.4,220.4 200.4,220.1 200.3,219.9 200.2,219.6 200.1,219.3 200,219 199.9,218.7 199.8,218.4 199.7,218.2 199.6,217.9 199.5,217.6 199.4,217.3 199.3,217 199.1,216.7 199,216.4 198.8,216.1 198.7,215.7 198.5,215.4 198.4,215.1 198.2,214.8 198,214.5 197.9,214.2 197.7,213.9 197.5,213.5 197.3,213.2 197.1,212.9 196.9,212.6 196.7,212.2 196.5,211.9 196.3,211.6 196,211.2 195.8,210.9 195.6,210.6 195.3,210.2 195.1,209.9 194.8,209.5 194.6,209.2 194.3,208.8 194.1,208.5 193.8,208.1 193.5,207.8 193.3,207.4 193,207.1 192.7,206.7 192.4,206.4 192.1,206 191.8,205.7 191.5,205.3 191.2,204.9 190.9,204.6 190.6,204.2 190.3,203.9 189.9,203.5 189.6,203.1 189.3,202.8 189,202.4 188.6,202 188.3,201.6 187.9,201.3 187.6,200.9 187.2,200.5 186.9,200.2 186.5,199.8 186.2,199.4 185.8,199 185.4,198.6 185.1,198.3 184.7,197.9 184.3,197.5 183.9,197.1 183.5,196.7 183.2,196.4 182.8,196 182.4,195.6 182,195.2 181.6,194.8 181.2,194.5 180.8,194.1 180.4,193.7 180,193.3 179.6,192.9 179.2,192.5 178.7,192.1 178.3,191.8 177.9,191.4 177.5,191 177.1,190.6 176.6,190.2 176.2,189.8 175.8,189.4 175.4,189.1 174.9,188.7 174.5,188.3 174.1,187.9 173.6,187.5 173.2,187.1 172.8,186.7 172.3,186.4 171.9,186 171.5,185.6 171,185.2 170.6,184.8 170.1,184.4 169.7,184.1 169.2,183.7 168.8,183.3 168.4,182.9 167.9,182.5 167.5,182.1 167,181.8 166.6,181.4 166.1,181 165.7,180.6 165.2,180.2 164.8,179.9 164.4,179.5 163.9,179.1 163.5,178.7 163,178.4 162.6,178 162.1,177.6 161.7,177.3 161.3,176.9 160.8,176.5 160.4,176.1 160,175.8 159.5,175.4 159.1,175 158.6,174.7 158.2,174.3 157.8,174 157.4,173.6 156.9,173.2 156.5,172.9 156.1,172.5 155.6,172.2 155.2,171.8 154.8,171.5 154.4,171.1 154,170.8 153.6,170.4 153.1,170.1 152.7,169.7 152.3,169.4 151.9,169 151.5,168.7 151.1,168.4 150.7,168 150.3,167.7 149.9,167.3 149.5,167 149.2,166.7 148.8,166.4 148.4,166 148,165.7 147.6,165.4 147.3,165.1 146.9,164.7 146.5,164.4 146.2,164.1 145.8,163.8 145.5,163.5 145.1,163.2 144.8,162.9 144.4,162.5 144.1,162.2 143.7,161.9 143.4,161.6 143.1,161.3 142.7,161.1 142.4,160.8 142.1,160.5 141.8,160.2 141.5,159.9 141.2,159.6 140.9,159.3 140.6,159 140.3,158.8 140,158.5 139.7,158.2 139.4,158 139.1,157.7 138.9,157.4 138.6,157.2 138.3,156.9 138.1,156.6 137.8,156.4 137.6,156.1 137.3,155.9 137.1,155.6 136.9,155.4 136.6,155.2 136.4,154.9 136.2,154.7 136,154.4 135.8,154.2 135.6,154 135.4,153.8 135.2,153.5 135,153.3 134.8,153.1 134.6,152.9 134.4,152.7 134.3,152.5 134.1,152.3 134,152.1 133.8,151.9 133.7,151.7 133.5,151.5 133.4,151.3 133.2,151.1 133.1,150.9 133,150.7 132.9,150.5 132.8,150.4 132.7,150.2 132.6,150 132.5,149.8 132.4,149.7 132.3,149.5 132.3,149.4 132.2,149.2 132.1,149.1 132.1,148.9 132,148.8 132,148.6 131.9,148.5 131.9,148.3 131.9,148.2 131.8,148.1 131.8,148 131.8,147.8 131.8,147.7 131.8,147.6 131.8,147.5 131.8,147.4 131.8,147.3 131.9,147.2 131.9,147.1 131.9,147 132,146.9 132,146.8 132.1,146.7 132.1,146.6 132.2,146.5 132.2,146.5 132.3,146.4 132.4,146.3 132.5,146.2 132.6,146.2 132.7,146.1 132.8,146.1 132.9,146 133,146 133.1,145.9 133.2,145.9 133.4,145.8 133.5,145.8 133.6,145.8 133.8,145.7 133.9,145.7 134.1,145.7 134.2,145.7 134.4,145.6 134.6,145.6 134.8,145.6 134.9,145.6 135.1,145.6 135.3,145.6 135.5,145.6 135.7,145.6 135.9,145.6 136.2,145.6 136.4,145.7 136.6,145.7 136.8,145.7 137.1,145.7 137.3,145.8 137.5,145.8 137.8,145.8 138,145.9 138.3,145.9 138.6,146 138.8,146 139.1,146.1 139.4,146.1 139.6,146.2 139.9,146.2 140.2,146.3 140.5,146.4 140.8,146.5 141.1,146.5 141.4,146.6 141.7,146.7 142,146.8 142.4,146.9 142.7,147 143,147.1 143.3,147.2 143.7,147.3 144,147.4 144.4,147.5 144.7,147.6 145,147.7 145.4,147.9 145.8,148 146.1,148.1 146.5,148.2 146.8,148.4 147.2,148.5 147.6,148.6 148,148.8 148.3,148.9 148.7,149.1 149.1,149.2 149.5,149.4 149.9,149.5 150.3,149.7 150.7,149.9 151.1,150 151.5,150.2 151.9,150.4 152.3,150.6 152.7,150.7 153.1,150.9 153.5,151.1 153.9,151.3 154.3,151.5 154.7,151.7 155.2,151.9 155.6,152.1 156,152.3 156.4,152.5 156.9,152.7 157.3,152.9 157.7,153.1 158.1,153.3 158.6,153.6 159,153.8 159.4,154 159.9,154.2 160.3,154.5 160.8,154.7 161.2,154.9 161.6,155.2 162.1,155.4 162.5,155.7 163,155.9 163.4,156.2 163.8,156.4 164.3,156.7 164.7,156.9 165.2,157.2 165.6,157.5 166.1,157.7 166.5,158 167,158.3 167.4,158.5 167.8,158.8 168.3,159.1 168.7,159.4 169.2,159.7 169.6,159.9 170.1,160.2 170.5,160.5 170.9,160.8 171.4,161.1 171.8,161.4 172.3,161.7 172.7,162 173.1,162.3 173.6,162.6 174,162.9 174.4,163.2 174.9,163.5 175.3,163.8 175.7,164.1 176.1,164.5 176.6,164.8 177,165.1 177.4,165.4 177.8,165.7 178.3,166.1 178.7,166.4 179.1,166.7 179.5,167.1 179.9,167.4 180.3,167.7 180.7,168.1 181.1,168.4 181.5,168.7 181.9,169.1 182.3,169.4 182.7,169.8 183.1,170.1 183.5,170.5 183.9,170.8 184.2,171.2 184.6,171.5 185,171.9 185.4,172.2 185.7,172.6 186.1,172.9 186.5,173.3 186.8,173.6 187.2,174 187.5,174.4 187.9,174.7 188.2,175.1 188.6,175.5 188.9,175.8 189.2,176.2 189.6,176.6 189.9,176.9 190.2,177.3 190.5,177.7 190.8,178 191.2,178.4 191.5,178.8 191.8,179.2 192.1,179.5 192.4,179.9 192.6,180.3 192.9,180.7 193.2,181.1 193.5,181.4 193.8,181.8 194,182.2 194.3,182.6 194.5,183 194.8,183.3 195,183.7 195.3,184.1 195.5,184.5 195.8,184.9 196,185.3 196.2,185.6 196.4,186 196.6,186.4 196.9,186.8 197.1,187.2 197.3,187.6 197.5,188 197.6,188.3 197.8,188.7 198,189.1 198.2,189.5 198.3,189.9 198.5,190.3 198.7,190.7 198.8,191 199,191.4 199.1,191.8 199.2,192.2 199.4,192.6 199.5,193 199.6,193.4 199.7,193.7 199.8,194.1 199.9,194.5 200,194.9 200.1,195.3 200.2,195.7 200.3,196 200.4,196.4 200.4,196.8 200.5,197.2 200.5,197.6 200.6,197.9 200.6,198.3 200.7,198.7 200.7,199.1 200.7,199.5 200.8,199.8 200.8,200.2 200.8,200.6 200.8,201 200.8,201.3 200.8,201.7 200.8,202.1 200.8,202.4 200.7,202.8 200.7,203.2 200.7,203.5 200.6,203.9 200.6,204.3 200.5,204.6 200.5,205 200.4,205.4 200.4,205.7 200.3,206.1 200.2,206.4 200.1,206.8 200,207.1 199.9,207.5 199.8,207.8 199.7,208.2 199.6,208.5 199.5,208.9 199.4,209.2 199.2,209.6 199.1,209.9 199,210.3 198.8,210.6 198.7,210.9 198.5,211.3 198.3,211.6 198.2,211.9 198,212.3 197.8,212.6 197.6,212.9 197.4,213.3 197.3,213.6 197.1,213.9 196.9,214.2 196.6,214.5 196.4,214.9 196.2,215.2 196,215.5 195.8,215.8 195.5,216.1 195.3,216.4 195,216.7 194.8,217 194.5,217.3 194.3,217.6 194,217.9 193.8,218.2 193.5,218.5 193.2,218.8 192.9,219.1 192.6,219.3 192.4,219.6 192.1,219.9 191.8,220.2 191.5,220.5 191.2,220.7 190.8,221 190.5,221.3 190.2,221.5 189.9,221.8 189.6,222.1 189.2,222.3 188.9,222.6 188.6,222.8 188.2,223.1 187.9,223.3 187.5,223.6 187.2,223.8 186.8,224.1 186.5,224.3 186.1,224.5 185.7,224.8 185.4,225 185,225.2 184.6,225.4 184.2,225.7 183.9,225.9 183.5,226.1 183.1,226.3 182.7,226.5 182.3,226.7 181.9,226.9 181.5,227.1 181.1,227.3 180.7,227.5 180.3,227.7 179.9,227.9 179.5,228.1 179.1,228.3 178.7,228.4 178.2,228.6 177.8,228.8 177.4,229 177,229.1 176.6,229.3 176.1,229.5 175.7,229.6 175.3,229.8 174.8,229.9 174.4,230.1 174,230.2 173.6,230.4 173.1,230.5 172.7,230.6 172.2,230.8 171.8,230.9 171.4,231 170.9,231.1 170.5,231.3 170,231.4 169.6,231.5 169.2,231.6 168.7,231.7 168.3,231.8 167.8,231.9 167.4,232 166.9,232.1 166.5,232.2 166.1,232.3 165.6,232.4 165.2,232.5 164.7,232.5 164.3,232.6 163.8,232.7 163.4,232.8 162.9,232.8 162.5,232.9 162.1,232.9 161.6,233 161.2,233 160.7,233.1 160.3,233.1 159.9,233.2 159.4,233.2 159,233.2 158.6,233.3 158.1,233.3 157.7,233.3 157.3,233.3 156.8,233.4 156.4,233.4 156,233.4 155.6,233.4 155.1,233.4 154.7,233.4 154.3,233.4 153.9,233.4 153.5,233.4 153.1,233.4 152.7,233.3 152.3,233.3 151.8,233.3 151.4,233.3 151,233.2 150.6,233.2 150.3,233.2 149.9,233.1 149.5,233.1 149.1,233 148.7,233 148.3,232.9 147.9,232.9 147.6,232.8 147.2,232.8 146.8,232.7 146.5,232.6 146.1,232.5 145.7,232.5 145.4,232.4 145,232.3 144.7,232.2 144.3,232.1 144,232 143.7,231.9 143.3,231.8 143,231.7 142.7,231.6 142.4,231.5 142,231.4 141.7,231.3 141.4,231.2 141.1,231 140.8,230.9 140.5,230.8 140.2,230.7 139.9,230.5 139.6,230.4 139.4,230.2 139.1,230.1 138.8,229.9 138.5,229.8 138.3,229.6 138,229.5 137.8,229.3 137.5,229.2 137.3,229 137,228.8 136.8,228.6 136.6,228.5 136.4,228.3 136.1,228.1 135.9,227.9 135.7,227.7 135.5,227.5 135.3,227.3 135.1,227.1 134.9,226.9 134.8,226.7 134.6,226.5 134.4,226.3 134.2,226.1 134.1,225.9 133.9,225.7 133.8,225.5 133.6,225.2 133.5,225 133.4,224.8 133.2,224.6 133.1,224.3 133,224.1 132.9,223.8 132.8,223.6 132.7,223.4 132.6,223.1 132.5,222.9 132.4,222.6 132.3,222.4 132.2,222.1 132.2,221.8 132.1,221.6 132.1,221.3 132,221 132,220.8 131.9,220.5 131.9,220.2 131.9,220 131.8,219.7 131.8,219.4 131.8,219.1 131.8,218.8 131.8,218.5 131.8,218.2 131.8,217.9 131.8,217.7 131.9,217.4 131.9,217.1 131.9,216.8 132,216.5 132,216.1 132.1,215.8 132.1,215.5 132.2,215.2 132.3,214.9 132.3,214.6 132.4,214.3 132.5,213.9 132.6,213.6 132.7,213.3 132.8,213 132.9,212.6 133,212.3 133.1,212 133.3,211.7 133.4,211.3 133.5,211 133.7,210.6 133.8,210.3 134,210 134.1,209.6 134.3,209.3 134.4,208.9 134.6,208.6 134.8,208.2 135,207.9 135.2,207.5 135.4,207.2 135.6,206.8 135.8,206.5 136,206.1 136.2,205.8 136.4,205.4 136.6,205 136.9,204.7 137.1,204.3 137.3,204 137.6,203.6 137.8,203.2 138.1,202.9 138.3,202.5 138.6,202.1 138.9,201.7 139.1,201.4 139.4,201 139.7,200.6 140,200.3 140.3,199.9 140.6,199.5 140.9,199.1 141.2,198.8 141.5,198.4 141.8,198 142.1,197.6 142.4,197.2 142.7,196.9 143.1,196.5 143.4,196.1 143.7,195.7 144.1,195.3 144.4,194.9 144.8,194.6 145.1,194.2 145.5,193.8 145.8,193.4 146.2,193 146.5,192.6 146.9,192.3 147.3,191.9 147.6,191.5 148,191.1 148.4,190.7 148.8,190.3 149.2,189.9 149.6,189.6 149.9,189.2 150.3,188.8 150.7,188.4 151.1,188 151.5,187.6 151.9,187.2 152.3,186.9 152.7,186.5 153.2,186.1 153.6,185.7 154,185.3 154.4,184.9 154.8,184.5 155.2,184.2 155.7,183.8 156.1,183.4 156.5,183 156.9,182.6 157.4,182.3 157.8,181.9 158.2,181.5 158.7,181.1 159.1,180.7 159.5,180.4 160,180 160.4,179.6 160.8,179.2 161.3,178.8 161.7,178.5 162.2,178.1 162.6,177.7 163,177.4 163.5,177 163.9,176.6 164.4,176.2 164.8,175.9 165.3,175.5 165.7,175.1 166.1,174.8 166.6,174.4 167,174.1 167.5,173.7 167.9,173.3 168.4,173 168.8,172.6 169.3,172.3 169.7,171.9 170.1,171.6 170.6,171.2 171,170.9 171.5,170.5 171.9,170.2 172.3,169.8 172.8,169.5 173.2,169.1 173.6,168.8 174.1,168.4 174.5,168.1 174.9,167.8 175.4,167.4 175.8,167.1 176.2,166.8 176.7,166.4 177.1,166.1 177.5,165.8 177.9,165.5 178.3,165.1 178.7,164.8 179.2,164.5 179.6,164.2 180,163.9 180.4,163.6 180.8,163.3 181.2,162.9 181.6,162.6 182,162.3 182.4,162 182.8,161.7 183.2,161.4 183.6,161.1 183.9,160.8 184.3,160.6 184.7,160.3 185.1,160 185.4,159.7 185.8,159.4 186.2,159.1 186.5,158.9 186.9,158.6 187.2,158.3 187.6,158 187.9,157.8 188.3,157.5 188.6,157.2 189,157 189.3,156.7 189.6,156.5 190,156.2 190.3,156 190.6,155.7 190.9,155.5 191.2,155.2 191.5,155 191.8,154.7 192.1,154.5 192.4,154.3 192.7,154 193,153.8 193.3,153.6 193.5,153.4 193.8,153.2 194.1,152.9 194.3,152.7 194.6,152.5 194.8,152.3 195.1,152.1 195.3,151.9 195.6,151.7 195.8,151.5 196,151.3 196.3,151.1 196.5,151 196.7,150.8 196.9,150.6 197.1,150.4 197.3,150.2 197.5,150.1 197.7,149.9 197.9,149.7 198,149.6 198.2,149.4 198.4,149.3 198.5,149.1 198.7,149 198.8,148.8 199,148.7 199.1,148.5 199.3,148.4 199.4,148.3 199.5,148.1 199.6,148 199.7,147.9 199.8,147.7 199.9,147.6 200,147.5 200.1,147.4 200.2,147.3 200.3,147.2 200.4,147.1 200.4,147 200.5,146.9 200.6,146.8 200.6,146.7 200.6,146.6 200.7,146.6 200.7,146.5 200.7,146.4 200.8,146.3 200.8,146.3 200.8,146.2 200.8,146.1 200.8,146.1 200.8,146 200.8,146 200.8,145.9 200.7,145.9 200.7,145.8 200.7,145.8 200.6,145.8 200.6,145.7 200.5,145.7 200.5,145.7 200.4,145.7 200.3,145.6 200.3,145.6 200.2,145.6 200.1,145.6 200,145.6 199.9,145.6 199.8,145.6 199.7,145.6 199.6,145.6 199.5,145.6 199.3,145.6 199.2,145.7 199.1,145.7 198.9,145.7 198.8,145.7 198.6,145.8 198.5,145.8 198.3,145.9 198.1,145.9 198,145.9 197.8,146 197.6,146 197.4,146.1 197.2,146.2 197,146.2 196.8,146.3 196.6,146.4 196.4,146.4 196.2,146.5 195.9,146.6 195.7,146.7 195.5,146.8 195.2,146.9 195,147 194.7,147 194.5,147.1 194.2,147.3 194,147.4 193.7,147.5 193.4,147.6 193.2,147.7 192.9,147.8 192.6,147.9 192.3,148.1 192,148.2 191.7,148.3 191.4,148.5 191.1,148.6 190.8,148.7 190.5,148.9 190.1,149 189.8,149.2 189.5,149.3 189.2,149.5 188.8,149.7 188.5,149.8 188.1,150 187.8,150.2 187.5,150.3 187.1,150.5 186.7,150.7 186.4,150.9 186,151.1 185.7,151.2 185.3,151.4 184.9,151.6 184.5,151.8 184.2,152 183.8,152.2 183.4,152.4 183,152.6 182.6,152.9 182.2,153.1 181.8,153.3 181.4,153.5 181,153.7 180.6,154 180.2,154.2 179.8,154.4 179.4,154.6 179,154.9 178.6,155.1 178.2,155.4 177.7,155.6 177.3,155.9 176.9,156.1 176.5,156.4 176.1,156.6 175.6,156.9 175.2,157.1 174.8,157.4 174.3,157.6 173.9,157.9 173.5,158.2 173,158.5 172.6,158.7 172.2,159 171.7,159.3 171.3,159.6 170.8,159.9 170.4,160.1 170,160.4 169.5,160.7 169.1,161 168.6,161.3 168.2,161.6 167.7,161.9 167.3,162.2 166.9,162.5 166.4,162.8 166,163.1 165.5,163.4 165.1,163.7 164.6,164.1 164.2,164.4 163.7,164.7 163.3,165 162.9,165.3 162.4,165.7 162,166 161.5,166.3 161.1,166.6 160.7,167 160.2,167.3 159.8,167.6 159.3,168 158.9,168.3 158.5,168.6 158,169 157.6,169.3 157.2,169.7 156.8,170 156.3,170.4 155.9,170.7 155.5,171.1 155.1,171.4 154.6,171.8 154.2,172.1 153.8,172.5 153.4,172.8 153,173.2 152.6,173.5 152.2,173.9 151.8,174.3 151.4,174.6 151,175 150.6,175.4 150.2,175.7 149.8,176.1 149.4,176.5 149,176.8 148.6,177.2 148.2,177.6 147.9,177.9 147.5,178.3 147.1,178.7 146.8,179.1 146.4,179.4 146,179.8 145.7,180.2 145.3,180.6 145,180.9 144.6,181.3 144.3,181.7 143.9,182.1 143.6,182.5 143.3,182.9 142.9,183.2 142.6,183.6 142.3,184 142,184.4 141.7,184.8 141.4,185.1 141,185.5 140.7,185.9 140.4,186.3 140.2,186.7 139.9,187.1 139.6,187.5 139.3,187.8 139,188.2 138.8,188.6 138.5,189 138.2,189.4 138,189.8 137.7,190.2 137.5,190.5 137.2,190.9 137,191.3 136.8,191.7 136.5,192.1 136.3,192.5 136.1,192.9 135.9,193.2 135.7,193.6 135.5,194 135.3,194.4 135.1,194.8 134.9,195.2 134.7,195.5 134.5,195.9 134.4,196.3 134.2,196.7 134.1,197.1 133.9,197.5 133.7,197.8 133.6,198.2 133.5,198.6 133.3,199 133.2,199.3 133.1,199.7 133,200.1 132.8,200.5 132.7,200.8 132.6,201.2 132.5,201.6 132.5,202 132.4,202.3 132.3,202.7 132.2,203.1 132.2,203.4 132.1,203.8 132,204.2 132,204.5 131.9,204.9 131.9,205.2 131.9,205.6 131.9,206 131.8,206.3 131.8,206.7 131.8,207 131.8,207.4 131.8,207.7 131.8,208.1 131.8,208.4 131.8,208.8 131.9,209.1 131.9,209.5 131.9,209.8 132,210.2 132,210.5 132.1,210.8 132.1,211.2 132.2,211.5 132.3,211.8 132.3,212.2 132.4,212.5 132.5,212.8 132.6,213.2 132.7,213.5 132.8,213.8 132.9,214.1 133,214.4 133.2,214.8 133.3,215.1 133.4,215.4 133.5,215.7 133.7,216 133.8,216.3 134,216.6 134.1,216.9 134.3,217.2 134.5,217.5 134.7,217.8 134.8,218.1 135,218.4 135.2,218.7 135.4,219 135.6,219.3 135.8,219.6 136,219.8 136.2,220.1 136.5,220.4 136.7,220.7 136.9,220.9 137.1,221.2 137.4,221.5 137.6,221.7 137.9,222 138.1,222.2 138.4,222.5 138.7,222.8 138.9,223 139.2,223.3 139.5,223.5 139.8,223.7 140,224 140.3,224.2 140.6,224.5 140.9,224.7 141.2,224.9 141.5,225.1 141.9,225.4 142.2,225.6 142.5,225.8 142.8,226 143.1,226.2 143.5,226.4 143.8,226.7 144.1,226.9 144.5,227.1 144.8,227.3 145.2,227.5 145.5,227.6 145.9,227.8 146.3,228 146.6,228.2 147,228.4 147.3,228.6 147.7,228.7 148.1,228.9 148.5,229.1 148.9,229.2 149.2,229.4 149.6,229.6 150,229.7 150.4,229.9 150.8,230 151.2,230.2 151.6,230.3 152,230.5 152.4,230.6 152.8,230.7 153.2,230.9 153.7,231 154.1,231.1 154.5,231.2 154.9,231.4 155.3,231.5 155.7,231.6 156.2,231.7 156.6,231.8 157,231.9 157.4,232 157.9,232.1 158.3,232.2 158.7,232.3 159.2,232.4 159.6,232.4 160,232.5 160.5,232.6 160.9,232.7 161.4,232.7 161.8,232.8 162.2,232.9 162.7,232.9 163.1,233 163.6,233 164,233.1 164.5,233.1 164.9,233.2 165.3,233.2 165.8,233.2 166.2,233.3 166.7,233.3 167.1,233.3 167.6,233.3 168,233.4 168.5,233.4 168.9,233.4 169.3,233.4 169.8,233.4 170.2,233.4 170.7,233.4 171.1,233.4 171.5,233.4 172,233.4 172.4,233.4 172.9,233.3 173.3,233.3 173.7,233.3 174.2,233.3 174.6,233.2 175,233.2 175.5,233.1 175.9,233.1 176.3,233.1 176.7,233 177.2,233 177.6,232.9 178,232.8 178.4,232.8 178.8,232.7 179.2,232.6 179.7,232.6 180.1,232.5 180.5,232.4 180.9,232.3 181.3,232.2 181.7,232.2 182.1,232.1 182.5,232 182.9,231.9 183.2,231.8 183.6,231.7 184,231.5 184.4,231.4 184.8,231.3 185.1,231.2 185.5,231.1 185.9,231 186.2,230.8 186.6,230.7 187,230.6 187.3,230.4 187.7,230.3 188,230.1 188.4,230 188.7,229.8 189,229.7 189.4,229.5 189.7,229.4 190,229.2 190.3,229 190.7,228.9 191,228.7 191.3,228.5 191.6,228.3 191.9,228.2 192.2,228 192.5,227.8 192.8,227.6 193,227.4 193.3,227.2 193.6,227 193.9,226.8 194.1,226.6 194.4,226.4 194.6,226.2 194.9,226 195.1,225.7 195.4,225.5 195.6,225.3 195.9,225.1 196.1,224.9 196.3,224.6 196.5,224.4 196.7,224.2 196.9,223.9 197.1,223.7 197.3,223.4 197.5,223.2 197.7,222.9 197.9,222.7 198.1,222.4 198.2,222.2 198.4,221.9 198.6,221.7 198.7,221.4 198.9,221.1 199,220.9 199.2,220.6 199.3,220.3 199.4,220 199.5,219.8 199.7,219.5 199.8,219.2 199.9,218.9 200,218.6 200.1,218.3 200.1,218 200.2,217.7 200.3,217.4 200.4,217.1 200.4,216.8 200.5,216.5 200.6,216.2 200.6,215.9 200.7,215.6 200.7,215.3 200.7,215 200.8,214.7 200.8,214.4 200.8,214 200.8,213.7 200.8,213.4 200.8,213.1 200.8,212.7 200.8,212.4 200.8,212.1 200.7,211.8 200.7,211.4 200.7,211.1 200.6,210.7 200.6,210.4 200.5,210.1 200.5,209.7 200.4,209.4 200.3,209 200.2,208.7 200.2,208.3 200.1,208 200,207.6 199.9,207.3 199.8,206.9 199.7,206.6 199.6,206.2 199.4,205.9 199.3,205.5 199.2,205.1 199,204.8 198.9,204.4 198.7,204.1 198.6,203.7 198.4,203.3 198.3,203 198.1,202.6 197.9,202.2 197.7,201.9 197.6,201.5 197.4,201.1 197.2,200.7 197,200.4 196.8,200 196.6,199.6 196.3,199.2 196.1,198.9 195.9,198.5 195.7,198.1 195.4,197.7 195.2,197.3 194.9,197 194.7,196.6 194.4,196.2 194.2,195.8 193.9,195.4 193.6,195.1 193.4,194.7 193.1,194.3 192.8,193.9 192.5,193.5 192.2,193.1 191.9,192.8 191.6,192.4 191.3,192 191,191.6 190.7,191.2 190.4,190.8 190.1,190.4 189.8,190.1 189.4,189.7 189.1,189.3 188.8,188.9 188.4,188.5 188.1,188.1 187.7,187.7 187.4,187.3 187,187 186.7,186.6 186.3,186.2 186,185.8 185.6,185.4 185.2,185 184.8,184.7 184.5,184.3 184.1,183.9 183.7,183.5 183.3,183.1 182.9,182.7 182.5,182.4 182.1,182 181.7,181.6 181.4,181.2 181,180.8 180.5,180.5 180.1,180.1 179.7,179.7 179.3,179.3 178.9,179 178.5,178.6 178.1,178.2 177.7,177.8 177.2,177.5 176.8,177.1 176.4,176.7 176,176.4 175.5,176 175.1,175.6 174.7,175.3 174.2,174.9 173.8,174.5 173.4,174.2 172.9,173.8 172.5,173.4 172.1,173.1 171.6,172.7 171.2,172.4 170.8,172 170.3,171.7 169.9,171.3 169.4,171 169,170.6 168.5,170.3 168.1,169.9 167.7,169.6 167.2,169.2 166.8,168.9 166.3,168.5 165.9,168.2 165.4,167.9 165,167.5 164.5,167.2 164.1,166.9 163.7,166.5 163.2,166.2 162.8,165.9 162.3,165.6 161.9,165.2 161.4,164.9 161,164.6 160.6,164.3 160.1,164 159.7,163.7 159.3,163.3 158.8,163 158.4,162.7 158,162.4 157.5,162.1 157.1,161.8 156.7,161.5 156.2,161.2 155.8,160.9 155.4,160.6 155,160.3 154.6,160.1 154.1,159.8 153.7,159.5 153.3,159.2 152.9,158.9 152.5,158.7 152.1,158.4 151.7,158.1 151.3,157.8 150.9,157.6 150.5,157.3 150.1,157 149.7,156.8 149.3,156.5 148.9,156.3 148.6,156 148.2,155.8 147.8,155.5 147.4,155.3 147.1,155.1 146.7,154.8 146.3,154.6 146,154.3 145.6,154.1 145.2,153.9 144.9,153.7 144.6,153.4 144.2,153.2 143.9,153 143.5,152.8 143.2,152.6 142.9,152.4 142.5,152.2 142.2,152 141.9,151.8 141.6,151.6 141.3,151.4 141,151.2 140.7,151 140.4,150.8 140.1,150.6 139.8,150.5 139.5,150.3 139.3,150.1 139,149.9 138.7,149.8 138.4,149.6 138.2,149.5 137.9,149.3 137.7,149.1 137.4,149 137.2,148.8 137,148.7 136.7,148.6 136.5,148.4 136.3,148.3 136.1,148.2 135.9,148 135.6,147.9 135.4,147.8 135.2,147.7 135.1,147.5 134.9,147.4 134.7,147.3 134.5,147.2 134.3,147.1 134.2,147 134,146.9 133.9,146.8 133.7,146.7 133.6,146.7 133.4,146.6 133.3,146.5 133.2,146.4 133.1,146.3 132.9,146.3 132.8,146.2 132.7,146.1 132.6,146.1 132.5,146 132.4,146 132.4,145.9 132.3,145.9 132.2,145.8 132.1,145.8 132.1,145.8 132,145.7 132,145.7 131.9,145.7 131.9,145.7 131.9,145.6 131.8,145.6 131.8,145.6 131.8,145.6 131.8,145.6 131.8,145.6" fill="none" stroke="#2472b4" stroke-width="1.0"/>
<line x1="22.6" y1="146" x2="22.6" y2="233" stroke="#aaa" stroke-width="0.9" stroke-dasharray="3,2"/>
<line x1="92.2" y1="146" x2="92.2" y2="233" stroke="#aaa" stroke-width="0.9" stroke-dasharray="3,2"/>
<line x1="131.6" y1="146" x2="131.6" y2="233" stroke="#aaa" stroke-width="0.9" stroke-dasharray="3,2"/>
<line x1="201" y1="146" x2="201" y2="233" stroke="#aaa" stroke-width="0.9" stroke-dasharray="3,2"/>
<rect x="11.5" y="145" width="91.5" height="88.5" fill="none" stroke="#333" stroke-width="1.1"/>
<rect x="120.5" y="145" width="91.5" height="88.5" fill="none" stroke="#333" stroke-width="1.1"/>
<line x1="96.9" y1="141" x2="96.9" y2="153.5" stroke="#111" stroke-width="1"/>
<circle cx="96.9" cy="153.5" r="1.4" fill="#000"/>
<line x1="125.4" y1="141" x2="125.4" y2="153.5" stroke="#111" stroke-width="1"/>
<circle cx="125.4" cy="153.5" r="1.4" fill="#000"/>
<text x="40.2" y="245.9" font-family="'Liberation Sans', sans-serif" font-size="10.2" fill="#111" stroke="#111" stroke-width="0.15" textLength="32.6" lengthAdjust="spacingAndGlyphs">frame 1</text>
<text x="90.3" y="245.9" font-family="'Liberation Sans', sans-serif" font-size="10.3" fill="#111" stroke="#111" stroke-width="0.15" textLength="43.6" lengthAdjust="spacingAndGlyphs">Pattern <tspan font-style="italic">P</tspan><tspan font-size="6.9" dy="2.1" dx="0.2">2</tspan></text>
<text x="150.7" y="245.9" font-family="'Liberation Sans', sans-serif" font-size="10.2" fill="#111" stroke="#111" stroke-width="0.15" textLength="32.6" lengthAdjust="spacingAndGlyphs">frame 2</text>
<text transform="translate(235.3,77) rotate(-90)" font-family="'Liberation Sans', sans-serif" font-size="12.3" text-anchor="middle" fill="#333">fill-factor</text>
<text transform="translate(235.3,184) rotate(-90)" font-family="'Liberation Sans', sans-serif" font-size="12.3" text-anchor="middle" fill="#333">scanning range</text>
<text x="276.6" y="24" font-family="'Liberation Sans', sans-serif" font-size="11.4" font-style="italic" fill="#111">T</text>
<text x="284.0" y="25.6" font-family="'Liberation Sans', sans-serif" font-size="8.4" font-style="italic" fill="#111" textLength="21.6" lengthAdjust="spacingAndGlyphs">frame</text>
<rect x="309.8" y="18.9" width="6.8" height="1.35" fill="#444"/><rect x="309.8" y="21.4" width="6.8" height="1.35" fill="#444"/>
<text x="319.3" y="24.2" font-family="'Liberation Sans', sans-serif" font-size="11.4" fill="#111" stroke="#111" stroke-width="0.3" textLength="7.6" lengthAdjust="spacingAndGlyphs">6</text>
<clipPath id="ct0"><rect x="260.45" y="32.9" width="90.5" height="86.70"/></clipPath>
<clipPath id="cb0"><rect x="260.45" y="140.5" width="90.5" height="86.70"/></clipPath>
<g clip-path="url(#ct0)">
<polyline points="260.4,79.4 263.2,79.4 263.6,47.9 265.9,46.1 270.9,47 272.2,47 272.7,52.2 276.7,52.2 277.6,45.5 287.1,45.5 288.1,49.6 292.1,49.6 293,43.5 297.6,43.5 298.9,47.9 300.3,43.1 302.1,43.1 302.6,79.4 308.3,77.6 309.1,42.6 310.2,43.5 311.1,45.2 312,42.6 316.1,42.6 317,45.2 321.5,45.2 322.9,41.8 331.9,41.8 333.3,44.4 336.9,44.4 337.8,40 343.7,40 344.6,42.6 345.5,40 346.4,40 346.9,64.5 350.9,64.5" fill="none" stroke="#1f77b4" stroke-width="1.2" stroke-linejoin="round"/>
<polyline points="260.4,47.9 263.6,47.9 265.9,46.1 270.9,47 272.2,47 272.7,52.2 276.7,52.2 277.6,45.5 287.1,45.5 288.1,49.6 292.1,49.6 293,43.5 297.6,43.5 298.9,47.9 300.3,43.1 302.1,43.1 309.1,42.6 310.2,43.5 311.1,45.2 312,42.6 316.1,42.6 317,45.2 321.5,45.2 322.9,41.8 331.9,41.8 333.3,44.4 336.9,44.4 337.8,40 343.7,40 344.6,42.6 345.5,40 346.4,40 350.9,40" fill="none" stroke="#222" stroke-width="1.2" stroke-dasharray="1.2,1.8"/>
</g>
<g clip-path="url(#cb0)">
<polyline points="260.4,144.3 261.2,157.1 261.6,163.1 262,149.5 262.7,154.4 262.8,153.3 263.5,145.2 263.8,151.8 264.3,147.9 265.1,141.6 265.8,146.1 266.6,153 267.4,159.8 268.1,166.7 268.9,173.6 269.7,180.4 270.5,187.3 271.2,194.1 272,201 272,201 272.8,192.7 273.5,184.5 274.3,176.3 275.1,168.1 275.8,159.8 276.6,151.6 277.4,143.4 278.1,146.8 278.9,142.2 279.7,147.7 280.5,141.6 281.2,142.9 282,140.5 282.8,143.3 283.5,148.2 284.2,171.4 284.3,168.3 285.1,142 285.8,147 286.6,141 287.4,145.2 288.1,141.3 288.9,145.1 289.7,153.8 290.5,162.6 291.2,171.3 292,180 292.8,188.8 293,191.8 293.5,186.2 294.3,177.5 295.1,168.7 295.8,160 296.6,151.3 297.4,142.6 298.1,143 298.9,141.5 299.7,143.9 300.5,141.5 301.2,142.8 302,141.8 302.8,142.7 303.5,149.7 304.1,159.6 304.3,156.6 305.1,143.6 305.8,143.9 306.6,141.2 307.4,143.1 308.1,141 308.9,144.5 309.7,140.8 310.5,142.5 311.2,141.3 312,142.7 312.8,141.6 313.5,145 314.3,149.2 315.1,156.6 315.8,164 316.6,171.4 317.4,178.8 317.9,184 318.1,181.8 318.9,174.4 319.7,167 320.5,159.6 321.2,152.2 322,144.9 322.8,143.1 323.5,142 324.3,143.9 325.1,140.9 325.8,143.4 326.6,142.1 327.4,146.4 327.9,153.6 328.1,149.6 328.9,141.9 329.7,141.4 330.5,143 331.2,141.2 332,142.8 332.8,141.5 333.5,143.1 334.3,141.4 335.1,142.1 335.8,149 336.6,155.9 337.4,162.8 338.1,169.7 338.9,176.6 339,177 339.7,170.5 340.5,163.6 341.2,156.7 342,149.8 342.8,142.9 343.5,142.2 344.3,142.5 345.1,141.3 345.8,142.3 346.6,141.4 347.4,142.2 348.1,141.8 348.9,143.1 349.7,141.7 350.5,142.1" fill="none" stroke="#1f77b4" stroke-width="1.1" stroke-linejoin="round"/>
<polyline points="260.4,141.4 261.4,142.2 261.9,188.3 262.4,187.5 262.9,143.1 263.5,141 264.3,146.8 265.1,142.1 265.8,148.1 266.6,153 267.4,159.8 268.1,166.7 268.9,173.6 269.7,180.4 270.5,187.3 271.2,194.1 272,201 272,201 272.8,192.7 273.5,184.5 274.3,176.3 275.1,168.1 275.8,159.8 276.6,151.6 277.4,143.4 278.1,145.4 278.9,140.6 279.7,145.8 280.5,149 281.2,161 282,173.1 282.8,185.1 283.1,190.1 283.5,183 284.3,171 285.1,158.9 285.8,146.9 286.6,140.5 287.4,146.2 288.1,142 288.9,145.1 289.7,153.8 290.5,162.6 291.2,171.3 292,180 292.8,188.8 293,191.8 293.5,186.2 294.3,177.5 295.1,168.7 295.8,160 296.6,151.3 297.4,142.6 298.1,144.4 298.9,140.8 299.7,146.6 300.5,142 301.2,145.5 302,142.2 302.8,150.5 303.5,161.8 304.3,173.2 304.8,180.5 305.1,176.5 305.8,165.2 306.6,153.8 307.4,146.5 308.1,142 308.9,142.7 309.7,142 310.5,142.3 311.2,141.6 312,143.5 312.8,141.8 313.5,146 314.3,149.2 315.1,156.6 315.8,164 316.6,171.4 317.4,178.8 317.9,184 318.1,181.8 318.9,174.4 319.7,167 320.5,159.6 321.2,152.2 322,144.9 322.8,142.3 323.5,141.7 324.3,143.1 325.1,140.6 325.8,149.4 326.6,159.5 327.4,169.6 327.9,176.2 328.1,172.6 328.9,162.5 329.7,152.4 330.5,143.6 331.2,140.7 332,142.9 332.8,140.7 333.5,142.7 334.3,141.2 335.1,142.5 335.8,149 336.6,155.9 337.4,162.8 338.1,169.7 338.9,176.6 339,177 339.7,170.5 340.5,163.6 341.2,156.7 342,149.8 342.8,143.4 343.5,141.2 344.3,144 345.1,142.1 345.8,142.4 346.6,141.1 347.4,142.4 348.1,142.4 348.9,153.3 349.4,159.6 349.7,155.2 350.5,144.3" fill="none" stroke="#111" stroke-width="1.25" stroke-dasharray="1.2,1.6"/>
</g>
<rect x="260.45" y="32.9" width="90.5" height="86.70" fill="none" stroke="#000" stroke-width="1.15"/>
<line x1="260.45" y1="119.6" x2="260.45" y2="121.89999999999999" stroke="#000" stroke-width="0.7"/>
<text x="260.45" y="130.6" font-family="'Liberation Sans', sans-serif" font-size="10" text-anchor="middle" fill="#222" textLength="12.2" lengthAdjust="spacingAndGlyphs">1.0</text>
<line x1="283.07" y1="119.6" x2="283.07" y2="121.89999999999999" stroke="#000" stroke-width="0.7"/>
<text x="283.07" y="130.6" font-family="'Liberation Sans', sans-serif" font-size="10" text-anchor="middle" fill="#222" textLength="12.2" lengthAdjust="spacingAndGlyphs">1.5</text>
<line x1="305.70" y1="119.6" x2="305.70" y2="121.89999999999999" stroke="#000" stroke-width="0.7"/>
<text x="305.70" y="130.6" font-family="'Liberation Sans', sans-serif" font-size="10" text-anchor="middle" fill="#222" textLength="12.2" lengthAdjust="spacingAndGlyphs">2.0</text>
<line x1="328.32" y1="119.6" x2="328.32" y2="121.89999999999999" stroke="#000" stroke-width="0.7"/>
<text x="328.32" y="130.6" font-family="'Liberation Sans', sans-serif" font-size="10" text-anchor="middle" fill="#222" textLength="12.2" lengthAdjust="spacingAndGlyphs">2.5</text>
<line x1="350.95" y1="119.6" x2="350.95" y2="121.89999999999999" stroke="#000" stroke-width="0.7"/>
<text x="350.95" y="130.6" font-family="'Liberation Sans', sans-serif" font-size="10" text-anchor="middle" fill="#222" textLength="12.2" lengthAdjust="spacingAndGlyphs">3.0</text>

<rect x="260.45" y="140.5" width="90.5" height="86.70" fill="none" stroke="#000" stroke-width="1.15"/>
<line x1="260.45" y1="227.2" x2="260.45" y2="229.5" stroke="#000" stroke-width="0.7"/>
<text x="260.45" y="238.2" font-family="'Liberation Sans', sans-serif" font-size="10" text-anchor="middle" fill="#222" textLength="12.2" lengthAdjust="spacingAndGlyphs">1.0</text>
<line x1="283.07" y1="227.2" x2="283.07" y2="229.5" stroke="#000" stroke-width="0.7"/>
<text x="283.07" y="238.2" font-family="'Liberation Sans', sans-serif" font-size="10" text-anchor="middle" fill="#222" textLength="12.2" lengthAdjust="spacingAndGlyphs">1.5</text>
<line x1="305.70" y1="227.2" x2="305.70" y2="229.5" stroke="#000" stroke-width="0.7"/>
<text x="305.70" y="238.2" font-family="'Liberation Sans', sans-serif" font-size="10" text-anchor="middle" fill="#222" textLength="12.2" lengthAdjust="spacingAndGlyphs">2.0</text>
<line x1="328.32" y1="227.2" x2="328.32" y2="229.5" stroke="#000" stroke-width="0.7"/>
<text x="328.32" y="238.2" font-family="'Liberation Sans', sans-serif" font-size="10" text-anchor="middle" fill="#222" textLength="12.2" lengthAdjust="spacingAndGlyphs">2.5</text>
<line x1="350.95" y1="227.2" x2="350.95" y2="229.5" stroke="#000" stroke-width="0.7"/>
<text x="350.95" y="238.2" font-family="'Liberation Sans', sans-serif" font-size="10" text-anchor="middle" fill="#222" textLength="12.2" lengthAdjust="spacingAndGlyphs">3.0</text>
<text x="305.70" y="256.4" font-family="'Liberation Sans', sans-serif" font-size="12.7" text-anchor="middle" fill="#333">frequency ratios</text>
<line x1="258.45" y1="103.00" x2="260.45" y2="103.00" stroke="#000" stroke-width="0.7"/>
<text x="256.75" y="106.40" font-family="'Liberation Sans', sans-serif" font-size="9.6" text-anchor="end" fill="#222" textLength="12.2" lengthAdjust="spacingAndGlyphs">1.2</text>
<line x1="258.45" y1="85.50" x2="260.45" y2="85.50" stroke="#000" stroke-width="0.7"/>
<text x="256.75" y="88.90" font-family="'Liberation Sans', sans-serif" font-size="9.6" text-anchor="end" fill="#222" textLength="12.2" lengthAdjust="spacingAndGlyphs">1.4</text>
<line x1="258.45" y1="68.00" x2="260.45" y2="68.00" stroke="#000" stroke-width="0.7"/>
<text x="256.75" y="71.40" font-family="'Liberation Sans', sans-serif" font-size="9.6" text-anchor="end" fill="#222" textLength="12.2" lengthAdjust="spacingAndGlyphs">1.6</text>
<line x1="258.45" y1="50.50" x2="260.45" y2="50.50" stroke="#000" stroke-width="0.7"/>
<text x="256.75" y="53.90" font-family="'Liberation Sans', sans-serif" font-size="9.6" text-anchor="end" fill="#222" textLength="12.2" lengthAdjust="spacingAndGlyphs">1.8</text>
<line x1="258.45" y1="33.00" x2="260.45" y2="33.00" stroke="#000" stroke-width="0.7"/>
<text x="256.75" y="36.40" font-family="'Liberation Sans', sans-serif" font-size="9.6" text-anchor="end" fill="#222" textLength="12.2" lengthAdjust="spacingAndGlyphs">2.0</text>
<line x1="258.45" y1="210.10" x2="260.45" y2="210.10" stroke="#000" stroke-width="0.7"/>
<text x="256.75" y="213.50" font-family="'Liberation Sans', sans-serif" font-size="9.6" text-anchor="end" fill="#222" textLength="12.2" lengthAdjust="spacingAndGlyphs">0.2</text>
<line x1="258.45" y1="192.70" x2="260.45" y2="192.70" stroke="#000" stroke-width="0.7"/>
<text x="256.75" y="196.10" font-family="'Liberation Sans', sans-serif" font-size="9.6" text-anchor="end" fill="#222" textLength="12.2" lengthAdjust="spacingAndGlyphs">0.4</text>
<line x1="258.45" y1="175.30" x2="260.45" y2="175.30" stroke="#000" stroke-width="0.7"/>
<text x="256.75" y="178.70" font-family="'Liberation Sans', sans-serif" font-size="9.6" text-anchor="end" fill="#222" textLength="12.2" lengthAdjust="spacingAndGlyphs">0.6</text>
<line x1="258.45" y1="157.90" x2="260.45" y2="157.90" stroke="#000" stroke-width="0.7"/>
<text x="256.75" y="161.30" font-family="'Liberation Sans', sans-serif" font-size="9.6" text-anchor="end" fill="#222" textLength="12.2" lengthAdjust="spacingAndGlyphs">0.8</text>
<line x1="258.45" y1="140.50" x2="260.45" y2="140.50" stroke="#000" stroke-width="0.7"/>
<text x="256.75" y="143.90" font-family="'Liberation Sans', sans-serif" font-size="9.6" text-anchor="end" fill="#222" textLength="12.2" lengthAdjust="spacingAndGlyphs">1.0</text>
<text x="385.3" y="24" font-family="'Liberation Sans', sans-serif" font-size="11.4" font-style="italic" fill="#111">T</text>
<text x="392.7" y="25.6" font-family="'Liberation Sans', sans-serif" font-size="8.4" font-style="italic" fill="#111" textLength="21.6" lengthAdjust="spacingAndGlyphs">frame</text>
<rect x="418.5" y="18.9" width="6.8" height="1.35" fill="#444"/><rect x="418.5" y="21.4" width="6.8" height="1.35" fill="#444"/>
<text x="428.0" y="24.2" font-family="'Liberation Sans', sans-serif" font-size="11.4" fill="#111" stroke="#111" stroke-width="0.3" textLength="7.6" lengthAdjust="spacingAndGlyphs">7</text>
<clipPath id="ct1"><rect x="369.45" y="32.9" width="90.5" height="86.70"/></clipPath>
<clipPath id="cb1"><rect x="369.45" y="140.5" width="90.5" height="86.70"/></clipPath>
<g clip-path="url(#ct1)">
<polyline points="369.4,77.6 371.5,77.6 371.9,45.7 392.1,43.5 405.2,41.8 405.9,46.1 406.6,41.8 411.3,40.9 411.8,78.5 417.4,77.6 417.9,40.9 421,40.4 421.9,44.4 422.8,40 450.9,38.7 451.8,39.6 452.7,38.3 456.6,38.3 457,63.6 459.9,63.6" fill="none" stroke="#1f77b4" stroke-width="1.2" stroke-linejoin="round"/>
<polyline points="369.4,46.1 392.1,43.5 405.6,41.8 414.7,40.9 437.3,39.1 459.9,38.3" fill="none" stroke="#222" stroke-width="1.2" stroke-dasharray="1.2,1.8"/>
</g>
<g clip-path="url(#cb1)">
<polyline points="369.4,141.3 370.2,144.7 371,149.3 371.7,164.9 371.8,163.9 372.5,147.3 373.3,144.7 374.1,141.8 374.8,152.9 374.9,153.6 375.6,143.1 376.4,145.5 377.1,152 377.6,159.6 377.9,154.3 378.7,141.3 379.5,145.4 380.2,153 380.3,154.4 381,144 381.8,142.2 382.5,157 383,166.6 383.3,161.4 384.1,146.6 384.8,140.8 385.6,142.2 386.4,155.7 386.6,160.5 387.1,151.7 387.9,140.8 388.7,143.5 389.4,152.7 389.5,151.5 390.2,143.8 391,150.1 391.6,162.2 391.8,159.6 392.5,144.9 393.3,144.4 394.1,141.4 394.8,144.4 395.6,149.1 396.1,157 396.4,153.7 397.1,142.5 397.9,145.5 398.7,142 399.5,146.9 400.2,160.5 400.2,160.5 401,146.9 401.8,141 402.5,146.2 402.9,150.9 403.3,146.8 404.1,143.3 404.8,142 405.6,152.1 405.6,152.7 406.4,142.9 407.1,144.6 407.9,140.5 408.7,142.5 409.5,142.6 410.2,150.9 410.2,150.4 411,142.2 411.8,143.1 412.5,140.6 413.3,148.8 413.8,155.3 414.1,151.7 414.8,142.6 415.6,140.7 416.4,142.8 417.1,143.1 417.9,153.6 417.9,152.9 418.7,141.8 419.5,142.5 420.2,140.7 421,141.9 421.8,143.1 422.4,149.2 422.5,147.9 423.3,141.5 424.1,142.9 424.8,140.8 425.6,143.7 426.4,140.7 427.1,150.9 427.4,154.4 427.9,146.1 428.7,142.8 429.5,140.9 430.2,142.5 431,153.5 431,153.6 431.8,143.7 432.5,141 433.3,143.8 434.1,140.9 434.8,142.6 435.6,142 436.4,148.8 436.9,155.3 437.1,151.7 437.9,143.9 438.7,140.9 439.5,142.1 440.2,141.8 441,146.7 441.4,151.8 441.8,147.3 442.5,141.7 443.3,141.7 444.1,152.1 444.1,152.7 444.8,142.9 445.6,142.8 446.4,141.1 447.1,142.4 447.9,142.2 448.7,146.2 449.1,150.9 449.5,146.8 450.2,143.2 451,140.8 451.8,141.7 452.5,142.1 453.3,143 454.1,140.9 454.8,149.4 455,150.9 455.6,143.6 456.4,143.1 457.1,140.8 457.9,143.1 458.7,142 459.5,142.4" fill="none" stroke="#1f77b4" stroke-width="1.1" stroke-linejoin="round"/>
<polyline points="369.4,141.4 370.4,142.2 370.9,190.1 371.4,189.2 371.9,143.1 372.5,148.8 373.3,146.3 374.1,142.1 374.8,155.4 374.9,156.2 375.6,143.6 376.4,143.8 377.1,162.5 377.6,173.6 377.9,165.8 378.7,147.1 379.5,142.8 380.2,141.9 381,143.5 381.8,142.2 382.5,157 383,166.6 383.3,161.4 384.1,146.6 384.8,142 385.6,145 386.4,153.7 386.6,157.9 387.1,150.2 387.9,141.4 388.7,142.8 389.5,142.2 390.2,145.9 391,168.7 391.6,187.5 391.8,183.5 392.5,160.6 393.3,146 394.1,141.3 394.8,144.4 395.6,146.1 396.1,154.4 396.4,150.9 397.1,140.8 397.9,142.3 398.7,142 399.5,146.9 400.2,160.5 400.2,160.5 401,146.9 401.8,142.2 402.5,145.5 403.3,141.8 404.1,144.9 404.8,145.1 405.6,156.4 405.6,157 406.4,146.5 407.1,143.8 407.9,141.9 408.7,142.7 409.5,142.2 410.2,149.2 410.2,148.8 411,141.4 411.8,143.2 412.5,148.7 413.3,168.5 413.8,181.4 414.1,174.4 414.8,154.5 415.6,140.5 416.4,142.2 417.1,142.6 417.9,150.9 417.9,150.4 418.7,141.5 419.5,143.4 420.2,141.5 421,144.2 421.8,148.5 422.4,158.8 422.5,156.6 423.3,144.2 424.1,143.7 424.8,140.8 425.6,142.3 426.4,141.1 427.1,148.3 427.4,150.9 427.9,144.7 428.7,143.5 429.5,141 430.2,142 431,140.6 431.8,143.9 432.5,141.9 433.3,142.7 434.1,141.7 434.8,143.5 435.6,142.7 436.4,161.4 436.9,173.6 437.1,166.9 437.9,148.2 438.7,142.2 439.5,143.1 440.2,142 441,145.3 441.4,149.2 441.8,145.7 442.5,142.1 443.3,142 444.1,141.9 444.8,140.6 445.6,143.3 446.4,141.8 447.1,142.6 447.9,142 448.7,145.3 449.1,149.2 449.5,145.7 450.2,142 451,141.2 451.8,141.8 452.5,140.6 453.3,142.1 454.1,142.1 454.8,143.3 455.6,141.8 456.4,142.3 457.1,149.1 457.7,157 457.9,153.7 458.7,142.5 459.5,142.6" fill="none" stroke="#111" stroke-width="1.25" stroke-dasharray="1.2,1.6"/>
</g>
<rect x="369.45" y="32.9" width="90.5" height="86.70" fill="none" stroke="#000" stroke-width="1.15"/>
<line x1="369.45" y1="119.6" x2="369.45" y2="121.89999999999999" stroke="#000" stroke-width="0.7"/>
<text x="369.45" y="130.6" font-family="'Liberation Sans', sans-serif" font-size="10" text-anchor="middle" fill="#222" textLength="12.2" lengthAdjust="spacingAndGlyphs">1.0</text>
<line x1="392.07" y1="119.6" x2="392.07" y2="121.89999999999999" stroke="#000" stroke-width="0.7"/>
<text x="392.07" y="130.6" font-family="'Liberation Sans', sans-serif" font-size="10" text-anchor="middle" fill="#222" textLength="12.2" lengthAdjust="spacingAndGlyphs">1.5</text>
<line x1="414.70" y1="119.6" x2="414.70" y2="121.89999999999999" stroke="#000" stroke-width="0.7"/>
<text x="414.70" y="130.6" font-family="'Liberation Sans', sans-serif" font-size="10" text-anchor="middle" fill="#222" textLength="12.2" lengthAdjust="spacingAndGlyphs">2.0</text>
<line x1="437.32" y1="119.6" x2="437.32" y2="121.89999999999999" stroke="#000" stroke-width="0.7"/>
<text x="437.32" y="130.6" font-family="'Liberation Sans', sans-serif" font-size="10" text-anchor="middle" fill="#222" textLength="12.2" lengthAdjust="spacingAndGlyphs">2.5</text>
<line x1="459.95" y1="119.6" x2="459.95" y2="121.89999999999999" stroke="#000" stroke-width="0.7"/>
<text x="459.95" y="130.6" font-family="'Liberation Sans', sans-serif" font-size="10" text-anchor="middle" fill="#222" textLength="12.2" lengthAdjust="spacingAndGlyphs">3.0</text>

<rect x="369.45" y="140.5" width="90.5" height="86.70" fill="none" stroke="#000" stroke-width="1.15"/>
<line x1="369.45" y1="227.2" x2="369.45" y2="229.5" stroke="#000" stroke-width="0.7"/>
<text x="369.45" y="238.2" font-family="'Liberation Sans', sans-serif" font-size="10" text-anchor="middle" fill="#222" textLength="12.2" lengthAdjust="spacingAndGlyphs">1.0</text>
<line x1="392.07" y1="227.2" x2="392.07" y2="229.5" stroke="#000" stroke-width="0.7"/>
<text x="392.07" y="238.2" font-family="'Liberation Sans', sans-serif" font-size="10" text-anchor="middle" fill="#222" textLength="12.2" lengthAdjust="spacingAndGlyphs">1.5</text>
<line x1="414.70" y1="227.2" x2="414.70" y2="229.5" stroke="#000" stroke-width="0.7"/>
<text x="414.70" y="238.2" font-family="'Liberation Sans', sans-serif" font-size="10" text-anchor="middle" fill="#222" textLength="12.2" lengthAdjust="spacingAndGlyphs">2.0</text>
<line x1="437.32" y1="227.2" x2="437.32" y2="229.5" stroke="#000" stroke-width="0.7"/>
<text x="437.32" y="238.2" font-family="'Liberation Sans', sans-serif" font-size="10" text-anchor="middle" fill="#222" textLength="12.2" lengthAdjust="spacingAndGlyphs">2.5</text>
<line x1="459.95" y1="227.2" x2="459.95" y2="229.5" stroke="#000" stroke-width="0.7"/>
<text x="459.95" y="238.2" font-family="'Liberation Sans', sans-serif" font-size="10" text-anchor="middle" fill="#222" textLength="12.2" lengthAdjust="spacingAndGlyphs">3.0</text>
<text x="414.70" y="256.4" font-family="'Liberation Sans', sans-serif" font-size="12.7" text-anchor="middle" fill="#333">frequency ratios</text>
<text x="494.3" y="24" font-family="'Liberation Sans', sans-serif" font-size="11.4" font-style="italic" fill="#111">T</text>
<text x="501.7" y="25.6" font-family="'Liberation Sans', sans-serif" font-size="8.4" font-style="italic" fill="#111" textLength="21.6" lengthAdjust="spacingAndGlyphs">frame</text>
<rect x="527.5" y="18.9" width="6.8" height="1.35" fill="#444"/><rect x="527.5" y="21.4" width="6.8" height="1.35" fill="#444"/>
<text x="537.0" y="24.2" font-family="'Liberation Sans', sans-serif" font-size="11.4" fill="#111" stroke="#111" stroke-width="0.3" textLength="7.6" lengthAdjust="spacingAndGlyphs">8</text>
<clipPath id="ct2"><rect x="478.35" y="32.9" width="90.5" height="86.70"/></clipPath>
<clipPath id="cb2"><rect x="478.35" y="140.5" width="90.5" height="86.70"/></clipPath>
<g clip-path="url(#ct2)">
<polyline points="478.4,76.3 480.4,76.3 480.8,44.4 492.4,43.1 493.3,61 494.2,43.1 506.9,41.8 507.8,57.5 508.7,41.3 514.6,40.9 515.5,44.4 516.4,40.4 520.2,40.4 520.7,77.6 526.1,76.8 526.8,40 529,40 529.9,42.6 530.8,40 537.6,39.6 538.5,52.2 539.4,39.6 552.1,39.1 553,50.5 553.9,39.1 559.8,38.7 560.7,40.9 561.6,38.7 565.7,38.7 566.1,62.8 568.9,62.8" fill="none" stroke="#1f77b4" stroke-width="1.2" stroke-linejoin="round"/>
<polyline points="478.4,44.4 501,42.6 523.6,40.4 546.2,39.1 568.9,38.3" fill="none" stroke="#222" stroke-width="1.2" stroke-dasharray="1.2,1.8"/>
</g>
<g clip-path="url(#cb2)">
<polyline points="478.4,145 479.1,163.1 479.1,162 479.9,142.8 480.7,143.6 481.4,143.4 482.2,160 482.4,164.9 483,153.2 483.7,147 484.5,141.7 485.3,145.9 486,151.4 486.8,158.8 487.6,166.2 488.4,173.6 489.1,181 489.4,184 489.9,179.2 490.7,171 491.4,162.7 492.2,154.5 493,146.3 493.7,141.1 494.5,147.6 495.1,155.3 495.3,152.9 496,142.9 496.8,140.6 497.6,146.8 498.4,141.4 499.1,142.9 499.9,153 500.5,164 500.7,161.6 501.4,148.3 502.2,144.3 503,140.7 503.7,143.8 504.5,142.6 505.3,154.4 505.5,157.9 506,149.5 506.8,142.6 507.6,140.8 508.4,145.8 509.1,147.3 509.9,154.9 510.7,162.6 511.4,170.3 512.1,176.6 512.2,175.3 513,167.6 513.7,159.9 514.5,152.2 515.3,144.6 516,144.8 516.8,141.1 517.6,143.6 518.4,141.7 519.1,144.7 519.9,151.5 520,152.7 520.7,143.5 521.4,141.1 522.2,144 523,146.6 523.6,154.4 523.7,152.7 524.5,143.3 525.3,145 526,141.2 526.8,143.8 527.6,140.9 528.4,143.5 529,150.9 529.1,149.9 529.9,144.6 530.7,140.7 531.4,143.8 532.2,145.7 533,151.6 533.7,157.6 534.5,163.5 534.7,164.9 535.3,160.3 536,154.4 536.8,148.5 537.6,143.2 538.4,140.9 539.1,142.7 539.9,141.3 540.7,144.6 541.4,142.4 542.2,150.1 542.2,149.6 543,141.5 543.7,144.3 544.5,141.1 545.3,142.2 546,141.8 546.8,149.3 547.1,152.7 547.6,147.8 548.4,142.3 549.1,141.8 549.9,142.5 550.7,140.9 551.4,142.7 552.1,149.2 552.2,148.3 553,143.1 553.7,142.2 554.5,143.9 555.3,148.1 556,153.3 556.8,158.5 556.9,158.8 557.6,153.9 558.4,148.7 559.1,143.5 559.9,140.9 560.7,142.6 561.4,141.3 562.2,142.7 563,141 563.7,143.3 564.3,147.5 564.5,146.1 565.3,141.7 566,141 566.8,143 567.6,141 568.4,143" fill="none" stroke="#1f77b4" stroke-width="1.1" stroke-linejoin="round"/>
<polyline points="478.4,141.4 479.3,142.2 479.8,184 480.3,183.1 480.8,143.1 481.4,147.3 482.2,143.4 483,141.6 483.7,144.6 484.5,142 485.3,147.6 486,154.3 486.8,161.1 487.6,167.8 488.4,174.5 489.1,181.2 489.4,184 489.9,179.7 490.7,172.3 491.4,164.9 492.2,157.5 493,150.1 493.7,142.7 494.5,143.5 495.3,142 496,145.3 496.8,142.1 497.6,146.2 498.4,142.3 499.1,158 499.9,173.7 500.5,186.6 500.7,183.8 501.4,168.2 502.2,152.5 503,141 503.7,145.9 504.5,150.5 505,159.6 505.3,155.8 506,142.8 506.8,145.9 507.6,141.7 508.4,143.7 509.1,150.5 509.9,157.3 510.7,164.2 511.4,171 512.1,176.6 512.2,175.4 513,168.6 513.7,161.8 514.5,154.9 515.3,148.1 516,143.4 516.8,141.2 517.6,144.4 518.4,141 519.1,144.4 519.9,141.4 520.7,143.8 521.4,141.7 522.2,148.3 523,163.1 523.6,175.3 523.7,172.7 524.5,157.9 525.3,143.6 526,141.2 526.8,145.3 527.6,142.2 528.4,143.8 529.1,141.2 529.9,142.3 530.7,142.1 531.4,142.9 532.2,148.1 533,153.3 533.7,158.5 534.5,163.6 534.7,164.9 535.3,160.9 536,155.7 536.8,150.5 537.6,145.4 538.4,141.6 539.1,142.4 539.9,141.7 540.7,141.9 541.4,141.2 542.2,144.1 543,142.1 543.7,143 544.5,142 545.3,143.1 546,151.6 546.8,163.5 547.1,168.3 547.6,161.4 548.4,149.5 549.1,141.3 549.9,143.5 550.7,141.6 551.4,142.5 552.2,141.9 553,143.6 553.7,141.6 554.5,145.2 555.3,149.6 556,154.1 556.8,158.5 556.9,158.8 557.6,154.6 558.4,150.2 559.1,145.7 559.9,141.3 560.7,142 561.4,140.6 562.2,143.4 563,141.1 563.7,141.6 564.5,140.9 565.3,141.8 566,142 566.8,147 567,149.2 567.6,144 568.4,141.5" fill="none" stroke="#111" stroke-width="1.25" stroke-dasharray="1.2,1.6"/>
</g>
<rect x="478.35" y="32.9" width="90.5" height="86.70" fill="none" stroke="#000" stroke-width="1.15"/>
<line x1="478.35" y1="119.6" x2="478.35" y2="121.89999999999999" stroke="#000" stroke-width="0.7"/>
<text x="478.35" y="130.6" font-family="'Liberation Sans', sans-serif" font-size="10" text-anchor="middle" fill="#222" textLength="12.2" lengthAdjust="spacingAndGlyphs">1.0</text>
<line x1="500.98" y1="119.6" x2="500.98" y2="121.89999999999999" stroke="#000" stroke-width="0.7"/>
<text x="500.98" y="130.6" font-family="'Liberation Sans', sans-serif" font-size="10" text-anchor="middle" fill="#222" textLength="12.2" lengthAdjust="spacingAndGlyphs">1.5</text>
<line x1="523.60" y1="119.6" x2="523.60" y2="121.89999999999999" stroke="#000" stroke-width="0.7"/>
<text x="523.60" y="130.6" font-family="'Liberation Sans', sans-serif" font-size="10" text-anchor="middle" fill="#222" textLength="12.2" lengthAdjust="spacingAndGlyphs">2.0</text>
<line x1="546.23" y1="119.6" x2="546.23" y2="121.89999999999999" stroke="#000" stroke-width="0.7"/>
<text x="546.23" y="130.6" font-family="'Liberation Sans', sans-serif" font-size="10" text-anchor="middle" fill="#222" textLength="12.2" lengthAdjust="spacingAndGlyphs">2.5</text>
<line x1="568.85" y1="119.6" x2="568.85" y2="121.89999999999999" stroke="#000" stroke-width="0.7"/>
<text x="568.85" y="130.6" font-family="'Liberation Sans', sans-serif" font-size="10" text-anchor="middle" fill="#222" textLength="12.2" lengthAdjust="spacingAndGlyphs">3.0</text>

<rect x="478.35" y="140.5" width="90.5" height="86.70" fill="none" stroke="#000" stroke-width="1.15"/>
<line x1="478.35" y1="227.2" x2="478.35" y2="229.5" stroke="#000" stroke-width="0.7"/>
<text x="478.35" y="238.2" font-family="'Liberation Sans', sans-serif" font-size="10" text-anchor="middle" fill="#222" textLength="12.2" lengthAdjust="spacingAndGlyphs">1.0</text>
<line x1="500.98" y1="227.2" x2="500.98" y2="229.5" stroke="#000" stroke-width="0.7"/>
<text x="500.98" y="238.2" font-family="'Liberation Sans', sans-serif" font-size="10" text-anchor="middle" fill="#222" textLength="12.2" lengthAdjust="spacingAndGlyphs">1.5</text>
<line x1="523.60" y1="227.2" x2="523.60" y2="229.5" stroke="#000" stroke-width="0.7"/>
<text x="523.60" y="238.2" font-family="'Liberation Sans', sans-serif" font-size="10" text-anchor="middle" fill="#222" textLength="12.2" lengthAdjust="spacingAndGlyphs">2.0</text>
<line x1="546.23" y1="227.2" x2="546.23" y2="229.5" stroke="#000" stroke-width="0.7"/>
<text x="546.23" y="238.2" font-family="'Liberation Sans', sans-serif" font-size="10" text-anchor="middle" fill="#222" textLength="12.2" lengthAdjust="spacingAndGlyphs">2.5</text>
<line x1="568.85" y1="227.2" x2="568.85" y2="229.5" stroke="#000" stroke-width="0.7"/>
<text x="568.85" y="238.2" font-family="'Liberation Sans', sans-serif" font-size="10" text-anchor="middle" fill="#222" textLength="12.2" lengthAdjust="spacingAndGlyphs">3.0</text>
<text x="523.60" y="256.4" font-family="'Liberation Sans', sans-serif" font-size="12.7" text-anchor="middle" fill="#333">frequency ratios</text>
<text x="602.9" y="24" font-family="'Liberation Sans', sans-serif" font-size="11.4" font-style="italic" fill="#111">T</text>
<text x="610.3" y="25.6" font-family="'Liberation Sans', sans-serif" font-size="8.4" font-style="italic" fill="#111" textLength="21.6" lengthAdjust="spacingAndGlyphs">frame</text>
<rect x="636.1" y="18.9" width="6.8" height="1.35" fill="#444"/><rect x="636.1" y="21.4" width="6.8" height="1.35" fill="#444"/>
<text x="645.6" y="24.2" font-family="'Liberation Sans', sans-serif" font-size="11.4" fill="#111" stroke="#111" stroke-width="0.3" textLength="7.6" lengthAdjust="spacingAndGlyphs">9</text>
<clipPath id="ct3"><rect x="587.1" y="32.9" width="90.5" height="86.70"/></clipPath>
<clipPath id="cb3"><rect x="587.1" y="140.5" width="90.5" height="86.70"/></clipPath>
<g clip-path="url(#ct3)">
<polyline points="587.1,75 588.7,75 589.1,42.9 598.4,42.6 599.3,46.1 602,46.1 602.9,42.6 605.2,42.6 606.1,45.7 607,42.6 611.5,41.8 612.4,45.2 613.3,41.8 615.6,41.8 616.5,44.8 617.4,41.3 627.4,40.4 628.3,43.5 629.4,40 630.1,76.8 635.5,77.6 636.2,40.4 636.6,42.6 637.3,40 645.5,39.6 646.4,41.8 647.3,39.6 650.5,39.6 651.4,41.8 652.3,39.1 657.7,39.1 658.6,40.4 659.5,38.7 662.2,38.7 663.1,40 664,38.3 674,38.3 674.4,62.8 677.6,62.8" fill="none" stroke="#1f77b4" stroke-width="1.2" stroke-linejoin="round"/>
<polyline points="587.1,43.1 609.7,41.8 632.4,40.4 655,39.1 677.6,38.3" fill="none" stroke="#222" stroke-width="1.2" stroke-dasharray="1.2,1.8"/>
</g>
<g clip-path="url(#cb3)">
<polyline points="587.1,141 587.9,145.9 588.6,141.7 589.4,146.6 590.2,143.1 590.7,153.6 590.9,149.2 591.7,140.8 592.5,143.6 593.3,153.6 594,167.5 594.8,181.4 594.8,181.4 595.6,167.5 596.3,153.6 597.1,144.4 597.9,142 598.4,149.2 598.6,145.1 599.4,140.5 600.2,143.6 600.9,140.8 601.7,150.7 602.5,164 602.5,164 603.3,150.7 604,141.9 604.8,145.5 605.6,142.2 606.3,145.7 607.1,140.9 607.9,145.8 608.6,151.6 608.8,154.4 609.4,145.4 610.2,141.5 610.9,144 611.7,141.1 612.5,143.9 613.3,141 613.8,149.2 614,144.9 614.8,141.9 615.6,145.3 616.3,153.9 617.1,164.7 617.4,169.2 617.9,162.8 618.6,152 619.4,141.1 620.2,144.7 620.9,141.3 621.7,142.7 622.5,140.9 623.3,145.7 624,155.4 624.8,165.2 625.1,169.2 625.6,163.5 626.3,153.7 627.1,143.9 627.9,143.7 628.6,140.9 629.4,142.8 630.2,141.5 630.9,150.4 631,150.9 631.7,142.6 632.5,144.1 633.3,142.2 634,143.2 634.8,141.8 635.6,144.9 636.3,140.6 637.1,142.3 637.9,141.9 638.6,144.8 639.4,152.9 640,159.6 640.2,158.2 640.9,150.1 641.7,144.4 642.5,142 643.3,144.2 644,140.9 644.8,144.3 645.6,141.2 646.3,143.8 647.1,144.4 647.7,153.6 647.9,151.6 648.6,141.6 649.4,143.7 650.2,140.9 650.9,143.3 651.7,141.5 652.5,143.2 653.3,141.1 654,143.5 654.8,145.7 655,149.2 655.6,142.4 656.3,140.8 657.1,143.3 657.9,140.7 658.6,142.1 659.4,140.6 660.2,143.1 660.9,141.5 661.7,147.9 662.5,154.6 662.7,156.2 663.3,151.1 664,144.4 664.8,141.7 665.6,140.5 666.3,143.6 667.1,140.7 667.9,142.1 668.6,141.3 669.4,148.4 670.2,155.4 670.4,157 670.9,151.7 671.7,144.6 672.5,143 673.3,140.5 674,142 674.8,141.4 675.6,143.2 676.3,141.4 677.1,142.2" fill="none" stroke="#1f77b4" stroke-width="1.1" stroke-linejoin="round"/>
<polyline points="587.1,141.4 588,142.2 588.5,177.9 589,177 589.6,143.1 590.2,141.5 590.9,144.5 591.7,141.4 592.5,143.1 593.3,153.6 594,167.5 594.8,181.4 594.8,181.4 595.6,167.5 596.3,153.6 597.1,142.8 597.9,141.7 598.6,144.3 599.4,141.4 600.2,145.7 600.9,146.2 601.7,162.5 602.5,178.8 602.5,178.8 603.3,162.5 604,146.2 604.8,145 605.6,142.2 606.3,143.8 607.1,141.8 607.9,143.8 608.6,155.1 609.4,170.6 609.7,177 610.2,167.9 610.9,152.4 611.7,141.3 612.5,145.1 613.3,141.5 614,144 614.8,141.6 615.6,142.9 616.3,150.2 617.1,160.6 617.4,164.9 617.9,158.8 618.6,148.4 619.4,140.7 620.2,142.5 620.9,140.6 621.7,143.1 622.5,141.5 623.3,145.7 624,155.4 624.8,165.2 625.1,169.2 625.6,163.5 626.3,153.7 627.1,143.9 627.9,143.9 628.6,140.9 629.4,142.3 630.2,141.9 630.9,148.6 631.7,163.9 631.9,167.5 632.5,155.8 633.3,141.4 634,144.9 634.8,141.5 635.6,145 636.3,140.8 637.1,145 637.9,140.6 638.6,144.8 639.4,152.9 640,159.6 640.2,158.2 640.9,150.1 641.7,144.8 642.5,141.9 643.3,144.6 644,141.4 644.8,144.7 645.6,141.8 646.3,142.7 647.1,152.6 647.7,163.1 647.9,160.9 648.6,148 649.4,141.9 650.2,141.3 650.9,142.2 651.7,142.1 652.5,144.2 653.3,140.9 654,146.8 654.8,158.6 655,161.4 655.6,152.3 656.3,141.4 657.1,143.6 657.9,140.9 658.6,142.6 659.4,142.1 660.2,142.6 660.9,141.3 661.7,147.9 662.5,154.6 662.7,156.2 663.3,151.1 664,144.4 664.8,142.4 665.6,141.7 666.3,143.3 667.1,141.6 667.9,141.9 668.6,141.3 669.4,148.4 670.2,155.4 670.4,157 670.9,151.7 671.7,144.6 672.5,143 673.3,140.7 674,142.6 674.8,141.1 675.6,145.7 675.8,147.5 676.3,143.3 677.1,141.7" fill="none" stroke="#111" stroke-width="1.25" stroke-dasharray="1.2,1.6"/>
</g>
<rect x="587.1" y="32.9" width="90.5" height="86.70" fill="none" stroke="#000" stroke-width="1.15"/>
<line x1="587.10" y1="119.6" x2="587.10" y2="121.89999999999999" stroke="#000" stroke-width="0.7"/>
<text x="587.10" y="130.6" font-family="'Liberation Sans', sans-serif" font-size="10" text-anchor="middle" fill="#222" textLength="12.2" lengthAdjust="spacingAndGlyphs">1.0</text>
<line x1="609.73" y1="119.6" x2="609.73" y2="121.89999999999999" stroke="#000" stroke-width="0.7"/>
<text x="609.73" y="130.6" font-family="'Liberation Sans', sans-serif" font-size="10" text-anchor="middle" fill="#222" textLength="12.2" lengthAdjust="spacingAndGlyphs">1.5</text>
<line x1="632.35" y1="119.6" x2="632.35" y2="121.89999999999999" stroke="#000" stroke-width="0.7"/>
<text x="632.35" y="130.6" font-family="'Liberation Sans', sans-serif" font-size="10" text-anchor="middle" fill="#222" textLength="12.2" lengthAdjust="spacingAndGlyphs">2.0</text>
<line x1="654.98" y1="119.6" x2="654.98" y2="121.89999999999999" stroke="#000" stroke-width="0.7"/>
<text x="654.98" y="130.6" font-family="'Liberation Sans', sans-serif" font-size="10" text-anchor="middle" fill="#222" textLength="12.2" lengthAdjust="spacingAndGlyphs">2.5</text>
<line x1="677.60" y1="119.6" x2="677.60" y2="121.89999999999999" stroke="#000" stroke-width="0.7"/>
<text x="677.60" y="130.6" font-family="'Liberation Sans', sans-serif" font-size="10" text-anchor="middle" fill="#222" textLength="12.2" lengthAdjust="spacingAndGlyphs">3.0</text>

<rect x="587.1" y="140.5" width="90.5" height="86.70" fill="none" stroke="#000" stroke-width="1.15"/>
<line x1="587.10" y1="227.2" x2="587.10" y2="229.5" stroke="#000" stroke-width="0.7"/>
<text x="587.10" y="238.2" font-family="'Liberation Sans', sans-serif" font-size="10" text-anchor="middle" fill="#222" textLength="12.2" lengthAdjust="spacingAndGlyphs">1.0</text>
<line x1="609.73" y1="227.2" x2="609.73" y2="229.5" stroke="#000" stroke-width="0.7"/>
<text x="609.73" y="238.2" font-family="'Liberation Sans', sans-serif" font-size="10" text-anchor="middle" fill="#222" textLength="12.2" lengthAdjust="spacingAndGlyphs">1.5</text>
<line x1="632.35" y1="227.2" x2="632.35" y2="229.5" stroke="#000" stroke-width="0.7"/>
<text x="632.35" y="238.2" font-family="'Liberation Sans', sans-serif" font-size="10" text-anchor="middle" fill="#222" textLength="12.2" lengthAdjust="spacingAndGlyphs">2.0</text>
<line x1="654.98" y1="227.2" x2="654.98" y2="229.5" stroke="#000" stroke-width="0.7"/>
<text x="654.98" y="238.2" font-family="'Liberation Sans', sans-serif" font-size="10" text-anchor="middle" fill="#222" textLength="12.2" lengthAdjust="spacingAndGlyphs">2.5</text>
<line x1="677.60" y1="227.2" x2="677.60" y2="229.5" stroke="#000" stroke-width="0.7"/>
<text x="677.60" y="238.2" font-family="'Liberation Sans', sans-serif" font-size="10" text-anchor="middle" fill="#222" textLength="12.2" lengthAdjust="spacingAndGlyphs">3.0</text>
<text x="632.35" y="256.4" font-family="'Liberation Sans', sans-serif" font-size="12.7" text-anchor="middle" fill="#333">frequency ratios</text>
<line x1="264.3" y1="99.4" x2="278.2" y2="99.4" stroke="#1f77b4" stroke-width="1.3"/>
<line x1="264.3" y1="110.10000000000001" x2="278.2" y2="110.10000000000001" stroke="#222" stroke-width="1.3" stroke-dasharray="1.3,1.9"/>
<text x="283.8" y="102.4" font-family="'Liberation Sans', sans-serif" font-size="7.6" fill="#222" textLength="57.6" lengthAdjust="spacingAndGlyphs">proposed designs</text>
<text x="283.8" y="113.10000000000001" font-family="'Liberation Sans', sans-serif" font-size="7.6" fill="#222" textLength="61.3" lengthAdjust="spacingAndGlyphs">repeating patterns</text>
<line x1="264.3" y1="207.3" x2="278.2" y2="207.3" stroke="#1f77b4" stroke-width="1.3"/>
<line x1="264.3" y1="218.0" x2="278.2" y2="218.0" stroke="#222" stroke-width="1.3" stroke-dasharray="1.3,1.9"/>
<text x="283.8" y="210.3" font-family="'Liberation Sans', sans-serif" font-size="7.6" fill="#222" textLength="57.6" lengthAdjust="spacingAndGlyphs">proposed designs</text>
<text x="283.8" y="221.0" font-family="'Liberation Sans', sans-serif" font-size="7.6" fill="#222" textLength="61.3" lengthAdjust="spacingAndGlyphs">repeating patterns</text>
<text x="672.9" y="114.1" font-family="'Liberation Sans', sans-serif" font-weight="bold" font-size="15.6" text-anchor="end" fill="#111">(b)</text>
<text x="672.5" y="221.7" font-family="'Liberation Sans', sans-serif" font-weight="bold" font-size="15.5" text-anchor="end" fill="#111">(c)</text>
</svg>
</body></html>
